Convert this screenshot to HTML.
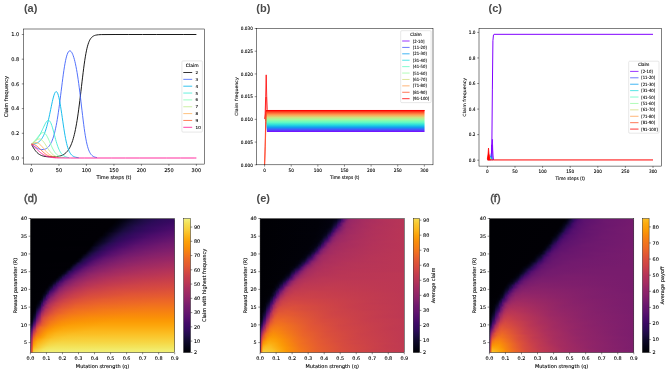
<!DOCTYPE html><html><head><meta charset="utf-8"><title>Figure</title><style>html,body{margin:0;padding:0;background:#fff}svg{display:block;will-change:transform}text{font-family:"DejaVu Sans","Liberation Sans",sans-serif;stroke:#000;stroke-width:.1px}.pl{font-family:"Liberation Sans","DejaVu Sans",sans-serif;fill:#4a4a4a;stroke:none}.pn{stroke:#4a4a4a;stroke-width:.45px}</style></head><body>
<svg width="669" height="373" viewBox="0 0 669 373">
<rect width="669" height="373" fill="#fff"/>
<text class="pl" x="23.9" y="11.8" font-size="11" font-weight="bold">(a)</text>
<text class="pl" x="256.3" y="11.5" font-size="11" font-weight="bold">(b)</text>
<text class="pl" x="488.6" y="11.8" font-size="11" font-weight="bold">(c)</text>
<text class="pl pn" x="24.0" y="202.2" font-size="11">(d)</text>
<text class="pl" x="256.5" y="202.2" font-size="11" font-weight="bold">(e)</text>
<text class="pl pn" x="490.2" y="202.2" font-size="11">(f)</text>
<g>
<clipPath id="ca"><rect x="23.6" y="29.0" width="180.9" height="135.1"/></clipPath><g clip-path="url(#ca)">
<polyline points="31.45,144.28 32,145.28 32.55,146.26 33.1,147.21 33.65,148.11 34.2,148.97 34.75,149.78 35.3,150.53 35.85,151.23 36.4,151.87 36.95,152.45 37.5,152.98 38.05,153.46 38.6,153.89 39.15,154.28 39.7,154.63 40.25,154.93 40.8,155.2 41.35,155.44 41.9,155.65 42.45,155.84 43,156.01 43.55,156.15 44.1,156.27 45.2,156.48 46.29,156.63 47.94,156.79 56.74,156.58 57.84,156.42 58.39,156.33 58.94,156.22 59.49,156.1 60.04,155.96 60.59,155.8 61.14,155.62 61.69,155.42 62.24,155.19 62.79,154.94 63.34,154.65 63.89,154.32 64.44,153.96 64.99,153.56 65.54,153.11 66.09,152.62 66.64,152.06 67.19,151.45 67.74,150.77 68.29,150.03 68.84,149.2 69.39,148.28 69.94,147.27 70.49,146.16 71.04,144.93 71.59,143.58 72.14,142.09 72.69,140.46 73.23,138.66 73.78,136.69 74.33,134.53 74.88,132.17 75.43,129.6 75.98,126.8 76.53,123.77 77.08,120.49 77.63,116.97 78.18,113.2 78.73,109.2 79.28,104.99 79.83,100.57 80.38,96 80.93,91.32 81.48,86.58 82.03,81.84 82.58,77.16 83.13,72.61 83.68,68.25 84.23,64.14 84.78,60.32 85.33,56.82 85.88,53.65 86.43,50.83 86.98,48.34 87.53,46.17 88.08,44.29 88.63,42.68 89.18,41.31 89.73,40.16 90.28,39.19 90.83,38.37 91.38,37.7 91.93,37.13 92.48,36.67 93.03,36.28 93.58,35.96 94.13,35.7 94.68,35.48 95.23,35.31 95.78,35.16 96.88,34.94 98.53,34.74 101.27,34.59 115.02,34.5 128.76,34.5 142.51,34.5 156.25,34.5 170,34.5 183.74,34.5 196.39,34.5" fill="none" stroke="#000000" stroke-width="0.9" stroke-linejoin="round"/>
<polyline points="31.45,144.28 32,144.69 32.55,145.09 33.1,145.5 33.65,145.9 34.2,146.29 34.75,146.67 35.3,147.04 35.85,147.39 36.4,147.72 36.95,148.03 37.5,148.31 38.05,148.58 38.6,148.81 39.15,149.02 39.7,149.2 40.25,149.34 41.35,149.54 43.55,149.53 44.1,149.43 44.65,149.28 45.2,149.1 45.74,148.86 46.29,148.57 46.84,148.22 47.39,147.81 47.94,147.34 48.49,146.79 49.04,146.15 49.59,145.43 50.14,144.6 50.69,143.66 51.24,142.6 51.79,141.41 52.34,140.07 52.89,138.57 53.44,136.9 53.99,135.04 54.54,132.99 55.09,130.72 55.64,128.23 56.19,125.51 56.74,122.56 57.29,119.36 57.84,115.93 58.39,112.27 58.94,108.4 59.49,104.33 60.04,100.1 60.59,95.76 61.14,91.34 61.69,86.91 62.24,82.53 62.79,78.27 63.34,74.19 63.89,70.34 64.44,66.79 64.99,63.57 65.54,60.71 66.09,58.22 66.64,56.11 67.19,54.38 67.74,53.02 68.29,52 68.84,51.31 69.39,50.93 69.94,50.84 70.49,51.03 71.04,51.48 71.59,52.18 72.14,53.12 72.69,54.3 73.23,55.72 73.78,57.38 74.33,59.27 74.88,61.42 75.43,63.81 75.98,66.46 76.53,69.37 77.08,72.54 77.63,75.98 78.18,79.67 78.73,83.61 79.28,87.78 79.83,92.15 80.38,96.68 80.93,101.33 81.48,106.05 82.03,110.77 82.58,115.43 83.13,119.97 83.68,124.31 84.23,128.41 84.78,132.22 85.33,135.72 85.88,138.88 86.43,141.69 86.98,144.18 87.53,146.35 88.08,148.22 88.63,149.83 89.18,151.2 89.73,152.35 90.28,153.32 90.83,154.13 91.38,154.81 91.93,155.37 92.48,155.84 93.03,156.22 93.58,156.54 94.13,156.8 94.68,157.02 95.23,157.19 95.78,157.34 96.88,157.56" fill="none" stroke="#4062fa" stroke-width="0.9" stroke-linejoin="round"/>
<polyline points="31.45,144.28 33.1,144.08 33.65,143.98 34.2,143.88 34.75,143.75 35.3,143.6 35.85,143.42 36.4,143.22 36.95,142.98 37.5,142.71 38.05,142.39 38.6,142.02 39.15,141.61 39.7,141.13 40.25,140.59 40.8,139.98 41.35,139.29 41.9,138.51 42.45,137.64 43,136.67 43.55,135.58 44.1,134.38 44.65,133.05 45.2,131.58 45.74,129.97 46.29,128.22 46.84,126.31 47.39,124.26 47.94,122.06 48.49,119.73 49.04,117.27 49.59,114.71 50.14,112.07 50.69,109.39 51.24,106.72 51.79,104.09 52.34,101.57 52.89,99.2 53.44,97.06 53.99,95.2 54.54,93.68 55.09,92.54 55.64,91.83 56.19,91.59 56.74,91.83 57.29,92.56 57.84,93.78 58.39,95.48 58.94,97.63 59.49,100.21 60.04,103.15 60.59,106.41 61.14,109.92 61.69,113.61 62.24,117.4 62.79,121.21 63.34,124.98 63.89,128.63 64.44,132.1 64.99,135.34 65.54,138.33 66.09,141.04 66.64,143.47 67.19,145.63 67.74,147.51 68.29,149.14 68.84,150.55 69.39,151.75 69.94,152.76 70.49,153.62 71.04,154.35 71.59,154.96 72.14,155.46 72.69,155.89 73.23,156.24 73.78,156.53 74.33,156.78 74.88,156.98 75.43,157.15 75.98,157.29 77.08,157.5 78.73,157.71" fill="none" stroke="#00b5eb" stroke-width="0.9" stroke-linejoin="round"/>
<polyline points="31.45,144.28 32,143.91 32.55,143.52 33.1,143.09 33.65,142.64 34.2,142.16 34.75,141.64 35.3,141.09 35.85,140.49 36.4,139.86 36.95,139.17 37.5,138.44 38.05,137.66 38.6,136.83 39.15,135.95 39.7,135.01 40.25,134.02 40.8,132.97 41.35,131.88 41.9,130.75 42.45,129.59 43,128.41 43.55,127.22 44.1,126.04 44.65,124.91 45.2,123.83 45.74,122.84 46.29,121.97 46.84,121.25 47.39,120.71 47.94,120.39 48.49,120.3 49.04,120.48 49.59,120.93 50.14,121.66 50.69,122.67 51.24,123.94 51.79,125.46 52.34,127.18 52.89,129.07 53.44,131.09 53.99,133.18 54.54,135.31 55.09,137.42 55.64,139.47 56.19,141.44 56.74,143.3 57.29,145.03 57.84,146.62 58.39,148.06 58.94,149.36 59.49,150.52 60.04,151.54 60.59,152.45 61.14,153.25 61.69,153.94 62.24,154.54 62.79,155.06 63.34,155.51 63.89,155.9 64.44,156.23 64.99,156.52 65.54,156.76 66.09,156.96 66.64,157.13 67.19,157.28 67.74,157.4 68.84,157.59" fill="none" stroke="#40ecd4" stroke-width="0.9" stroke-linejoin="round"/>
<polyline points="31.45,144.28 32,143.76 32.55,143.21 33.1,142.64 33.65,142.04 34.2,141.42 34.75,140.78 35.3,140.12 35.85,139.45 36.4,138.76 36.95,138.07 37.5,137.38 38.05,136.69 38.6,136.02 39.15,135.38 39.7,134.77 40.25,134.21 40.8,133.72 41.35,133.3 41.9,132.97 42.45,132.75 43.55,132.67 44.1,132.84 44.65,133.15 45.2,133.61 45.74,134.21 46.29,134.96 46.84,135.84 47.39,136.84 47.94,137.94 48.49,139.13 49.04,140.37 49.59,141.64 50.14,142.94 50.69,144.22 51.24,145.48 51.79,146.7 52.34,147.86 52.89,148.96 53.44,149.98 53.99,150.93 54.54,151.79 55.09,152.57 55.64,153.27 56.19,153.9 56.74,154.46 57.29,154.95 57.84,155.38 58.39,155.75 58.94,156.07 59.49,156.36 60.04,156.6 60.59,156.81 61.14,156.99 61.69,157.14 62.24,157.27 63.34,157.48 64.44,157.64" fill="none" stroke="#80ffb4" stroke-width="0.9" stroke-linejoin="round"/>
<polyline points="31.45,144.28 32,143.77 32.55,143.25 33.1,142.73 33.65,142.22 34.2,141.71 34.75,141.23 35.3,140.77 35.85,140.34 36.4,139.96 36.95,139.62 37.5,139.35 38.05,139.14 39.15,138.95 39.7,138.98 40.25,139.11 40.8,139.33 41.35,139.64 41.9,140.05 42.45,140.55 43,141.13 43.55,141.79 44.1,142.52 44.65,143.31 45.2,144.14 45.74,145 46.29,145.88 46.84,146.77 47.39,147.65 47.94,148.52 48.49,149.36 49.04,150.18 49.59,150.95 50.14,151.67 50.69,152.35 51.24,152.98 51.79,153.56 52.34,154.09 52.89,154.57 53.44,155 53.99,155.39 54.54,155.73 55.09,156.04 55.64,156.31 56.19,156.54 56.74,156.75 57.29,156.93 57.84,157.08 58.39,157.22 59.49,157.43 60.59,157.59" fill="none" stroke="#c0eb8d" stroke-width="0.9" stroke-linejoin="round"/>
<polyline points="31.45,144.28 32,143.93 32.55,143.61 33.1,143.32 33.65,143.07 34.2,142.87 34.75,142.71 36.95,142.71 37.5,142.88 38.05,143.12 38.6,143.43 39.15,143.8 39.7,144.23 40.25,144.72 40.8,145.26 41.35,145.84 41.9,146.46 42.45,147.1 43,147.76 43.55,148.42 44.1,149.09 44.65,149.76 45.2,150.41 45.74,151.04 46.29,151.65 46.84,152.23 47.39,152.78 47.94,153.3 48.49,153.78 49.04,154.23 49.59,154.65 50.14,155.03 50.69,155.37 51.24,155.69 51.79,155.97 52.34,156.22 52.89,156.45 53.44,156.65 53.99,156.83 54.54,156.99 55.09,157.13 55.64,157.25 56.74,157.45 58.39,157.66" fill="none" stroke="#ffb360" stroke-width="0.9" stroke-linejoin="round"/>
<polyline points="31.45,144.28 33.1,144.32 33.65,144.44 34.2,144.6 34.75,144.82 35.3,145.08 35.85,145.4 36.4,145.77 36.95,146.17 37.5,146.62 38.05,147.1 38.6,147.6 39.15,148.13 39.7,148.67 40.25,149.22 40.8,149.77 41.35,150.32 41.9,150.87 42.45,151.4 43,151.92 43.55,152.41 44.1,152.89 44.65,153.34 45.2,153.77 45.74,154.18 46.29,154.55 46.84,154.9 47.39,155.23 47.94,155.52 48.49,155.8 49.04,156.05 49.59,156.27 50.14,156.48 50.69,156.66 51.24,156.83 51.79,156.97 52.34,157.11 52.89,157.22 53.99,157.42 55.64,157.63" fill="none" stroke="#ff5f30" stroke-width="0.9" stroke-linejoin="round"/>
<polyline points="31.45,144.28 32,144.7 32.55,145.14 33.1,145.61 33.65,146.1 34.2,146.6 34.75,147.13 35.3,147.66 35.85,148.2 36.4,148.75 36.95,149.29 37.5,149.83 38.05,150.36 38.6,150.89 39.15,151.39 39.7,151.88 40.25,152.36 40.8,152.81 41.35,153.24 41.9,153.64 42.45,154.03 43,154.39 43.55,154.72 44.1,155.04 44.65,155.33 45.2,155.6 45.74,155.84 46.29,156.07 46.84,156.28 47.39,156.47 47.94,156.64 48.49,156.8 49.04,156.94 49.59,157.06 50.14,157.18 51.24,157.37 52.34,157.52 53.99,157.69 56.74,157.86 70.49,158 84.23,158 97.98,158 111.72,158 125.47,158 139.21,158 152.96,158 166.7,158 180.45,158 194.19,158 196.39,158" fill="none" stroke="#ff1493" stroke-width="0.9" stroke-linejoin="round"/>
</g>
<rect x="23.6" y="29" width="180.9" height="135.1" fill="none" stroke="#000" stroke-width="0.5"/>
<path d="M31.45 164.1L31.45 165.9M58.94 164.1L58.94 165.9M86.43 164.1L86.43 165.9M113.92 164.1L113.92 165.9M141.41 164.1L141.41 165.9M168.9 164.1L168.9 165.9M196.39 164.1L196.39 165.9M23.6 158L21.8 158M23.6 133.3L21.8 133.3M23.6 108.6L21.8 108.6M23.6 83.9L21.8 83.9M23.6 59.2L21.8 59.2M23.6 34.5L21.8 34.5" stroke="#000" stroke-width="0.45" fill="none"/>
<text x="31.45" y="171.9" font-size="5.0" text-anchor="middle">0</text>
<text x="58.94" y="171.9" font-size="5.0" text-anchor="middle">50</text>
<text x="86.43" y="171.9" font-size="5.0" text-anchor="middle">100</text>
<text x="113.92" y="171.9" font-size="5.0" text-anchor="middle">150</text>
<text x="141.41" y="171.9" font-size="5.0" text-anchor="middle">200</text>
<text x="168.9" y="171.9" font-size="5.0" text-anchor="middle">250</text>
<text x="196.39" y="171.9" font-size="5.0" text-anchor="middle">300</text>
<text x="19.1" y="159.82" font-size="5.0" text-anchor="end">0.0</text>
<text x="19.1" y="135.12" font-size="5.0" text-anchor="end">0.2</text>
<text x="19.1" y="110.42" font-size="5.0" text-anchor="end">0.4</text>
<text x="19.1" y="85.73" font-size="5.0" text-anchor="end">0.6</text>
<text x="19.1" y="61.02" font-size="5.0" text-anchor="end">0.8</text>
<text x="19.1" y="36.33" font-size="5.0" text-anchor="end">1.0</text>
<text x="114.05" y="178.6" font-size="5.05" text-anchor="middle">Time steps (t)</text>
<text transform="translate(8.4 96.55) rotate(-90)" font-size="5.05" text-anchor="middle">Claim frequency</text>
<rect x="181.9" y="60.9" width="20.5" height="71.2" rx="1" fill="#fff" fill-opacity="0.8" stroke="#ccc" stroke-width="0.45"/>
<text x="192.15" y="66.6" font-size="4.5" text-anchor="middle">Claim</text>
<path d="M183.3 72.5H192.2" stroke="#000000" stroke-width="0.8"/>
<text x="195.6" y="73.98" font-size="4.1">2</text>
<path d="M183.3 79.35H192.2" stroke="#4062fa" stroke-width="0.8"/>
<text x="195.6" y="80.83" font-size="4.1">3</text>
<path d="M183.3 86.2H192.2" stroke="#00b5eb" stroke-width="0.8"/>
<text x="195.6" y="87.68" font-size="4.1">4</text>
<path d="M183.3 93.05H192.2" stroke="#40ecd4" stroke-width="0.8"/>
<text x="195.6" y="94.53" font-size="4.1">5</text>
<path d="M183.3 99.9H192.2" stroke="#80ffb4" stroke-width="0.8"/>
<text x="195.6" y="101.38" font-size="4.1">6</text>
<path d="M183.3 106.75H192.2" stroke="#c0eb8d" stroke-width="0.8"/>
<text x="195.6" y="108.23" font-size="4.1">7</text>
<path d="M183.3 113.6H192.2" stroke="#ffb360" stroke-width="0.8"/>
<text x="195.6" y="115.08" font-size="4.1">8</text>
<path d="M183.3 120.45H192.2" stroke="#ff5f30" stroke-width="0.8"/>
<text x="195.6" y="121.93" font-size="4.1">9</text>
<path d="M183.3 127.3H192.2" stroke="#ff1493" stroke-width="0.8"/>
<text x="195.6" y="128.78" font-size="4.1">10</text>
</g>
<g>
<linearGradient id="gb" x1="0" y1="1" x2="0" y2="0"><stop offset="0" stop-color="#8000ff"/><stop offset="0.11" stop-color="#4856fb"/><stop offset="0.22" stop-color="#10a2f0"/><stop offset="0.33" stop-color="#2adddd"/><stop offset="0.44" stop-color="#62fbc4"/><stop offset="0.56" stop-color="#9cfba4"/><stop offset="0.67" stop-color="#d4dd80"/><stop offset="0.78" stop-color="#ffa256"/><stop offset="0.89" stop-color="#ff562c"/><stop offset="1" stop-color="#ff0000"/></linearGradient>
<path d="M264.6 118.92L265.93 110.07L267 110.07H424.55V132.08H267L266.2 123.91Z" fill="url(#gb)"/>
<polyline points="264.6,118.92 265.13,113.92 265.67,96.66 266.2,74.85 266.73,96.66 267.26,109.38 267.8,110.74" fill="none" stroke="#ff0000" stroke-width="0.8" stroke-linejoin="round"/>
<polyline points="264.6,164.8 265.13,146.63 265.67,121.64 266.2,96.66" fill="none" stroke="#ff0000" stroke-width="0.8" stroke-linejoin="round"/>
<polyline points="264.6,164.8 265.13,151.17 265.67,133 266.2,117.1 266.73,112.1 267.26,112.1" fill="none" stroke="#ff562c" stroke-width="0.8" stroke-linejoin="round"/>
<path d="M267.26 110.47H424.55" stroke="#ff0000" stroke-width="0.8"/>
<rect x="256.5" y="28.5" width="176.5" height="136.3" fill="none" stroke="#000" stroke-width="0.5"/>
<path d="M264.6 164.8L264.6 166.6M291.23 164.8L291.23 166.6M317.85 164.8L317.85 166.6M344.48 164.8L344.48 166.6M371.1 164.8L371.1 166.6M397.73 164.8L397.73 166.6M424.35 164.8L424.35 166.6M256.5 164.8L254.7 164.8M256.5 142.09L254.7 142.09M256.5 119.37L254.7 119.37M256.5 96.66L254.7 96.66M256.5 73.94L254.7 73.94M256.5 51.23L254.7 51.23M256.5 28.51L254.7 28.51" stroke="#000" stroke-width="0.45" fill="none"/>
<text transform="translate(264.6 171.9) scale(0.9 1)" font-size="4.7" text-anchor="middle">0</text>
<text transform="translate(291.23 171.9) scale(0.9 1)" font-size="4.7" text-anchor="middle">50</text>
<text transform="translate(317.85 171.9) scale(0.9 1)" font-size="4.7" text-anchor="middle">100</text>
<text transform="translate(344.48 171.9) scale(0.9 1)" font-size="4.7" text-anchor="middle">150</text>
<text transform="translate(371.1 171.9) scale(0.9 1)" font-size="4.7" text-anchor="middle">200</text>
<text transform="translate(397.73 171.9) scale(0.9 1)" font-size="4.7" text-anchor="middle">250</text>
<text transform="translate(424.35 171.9) scale(0.9 1)" font-size="4.7" text-anchor="middle">300</text>
<text transform="translate(252.9 166.52) scale(0.9 1)" font-size="4.7" text-anchor="end">0.000</text>
<text transform="translate(252.9 143.8) scale(0.9 1)" font-size="4.7" text-anchor="end">0.005</text>
<text transform="translate(252.9 121.09) scale(0.9 1)" font-size="4.7" text-anchor="end">0.010</text>
<text transform="translate(252.9 98.37) scale(0.9 1)" font-size="4.7" text-anchor="end">0.015</text>
<text transform="translate(252.9 75.66) scale(0.9 1)" font-size="4.7" text-anchor="end">0.020</text>
<text transform="translate(252.9 52.94) scale(0.9 1)" font-size="4.7" text-anchor="end">0.025</text>
<text transform="translate(252.9 30.23) scale(0.9 1)" font-size="4.7" text-anchor="end">0.030</text>
<text transform="translate(344.75 178.7) scale(0.9 1)" font-size="4.75" text-anchor="middle">Time steps (t)</text>
<text transform="translate(237.6 96.65) scale(0.9 1) rotate(-90)" font-size="4.75" text-anchor="middle">Claim frequency</text>
<rect x="400.7" y="30.7" width="30.4" height="71.9" rx="1" fill="#fff" fill-opacity="0.8" stroke="#ccc" stroke-width="0.45"/>
<text transform="translate(415.9 36.1) scale(0.9 1)" font-size="4.4" text-anchor="middle">Claim</text>
<path d="M402.2 41H409.6" stroke="#8000ff" stroke-width="0.8"/>
<text transform="translate(412.8 42.53) scale(0.9 1)" font-size="4.25">[2-10]</text>
<path d="M402.2 47.41H409.6" stroke="#4856fb" stroke-width="0.8"/>
<text transform="translate(412.8 48.94) scale(0.9 1)" font-size="4.25">[11-20]</text>
<path d="M402.2 53.82H409.6" stroke="#10a2f0" stroke-width="0.8"/>
<text transform="translate(412.8 55.35) scale(0.9 1)" font-size="4.25">[21-30]</text>
<path d="M402.2 60.23H409.6" stroke="#2adddd" stroke-width="0.8"/>
<text transform="translate(412.8 61.76) scale(0.9 1)" font-size="4.25">[31-40]</text>
<path d="M402.2 66.64H409.6" stroke="#62fbc4" stroke-width="0.8"/>
<text transform="translate(412.8 68.17) scale(0.9 1)" font-size="4.25">[41-50]</text>
<path d="M402.2 73.05H409.6" stroke="#9cfba4" stroke-width="0.8"/>
<text transform="translate(412.8 74.58) scale(0.9 1)" font-size="4.25">[51-60]</text>
<path d="M402.2 79.46H409.6" stroke="#d4dd80" stroke-width="0.8"/>
<text transform="translate(412.8 80.99) scale(0.9 1)" font-size="4.25">[61-70]</text>
<path d="M402.2 85.87H409.6" stroke="#ffa256" stroke-width="0.8"/>
<text transform="translate(412.8 87.4) scale(0.9 1)" font-size="4.25">[71-80]</text>
<path d="M402.2 92.28H409.6" stroke="#ff562c" stroke-width="0.8"/>
<text transform="translate(412.8 93.81) scale(0.9 1)" font-size="4.25">[81-90]</text>
<path d="M402.2 98.69H409.6" stroke="#ff0000" stroke-width="0.8"/>
<text transform="translate(412.8 100.22) scale(0.9 1)" font-size="4.25">[91-100]</text>
</g>
<g>
<polyline points="487.4,158.91 490.71,159.94 491.26,158.92 491.82,149.98 492.37,89.91 492.92,40.71 493.47,34.96 494.02,34.32 653,34.32" fill="none" stroke="#8000ff" stroke-width="1.0" stroke-linejoin="round"/>
<polyline points="487.4,158.91 491.26,157.64 491.82,147.42 492.37,139.37 492.92,155.09 493.47,159.82" fill="none" stroke="#8000ff" stroke-width="0.8" stroke-linejoin="round"/>
<polyline points="487.4,158.91 491.26,156.37 491.82,144.86 492.37,147.42 492.92,157.64 493.47,159.82" fill="none" stroke="#8000ff" stroke-width="0.8" stroke-linejoin="round"/>
<polyline points="487.4,158.91 490.71,157.64 491.26,153.81 491.82,154.45 492.37,158.92 492.92,159.94" fill="none" stroke="#4856fb" stroke-width="0.8" stroke-linejoin="round"/>
<polyline points="487.4,158.91 490.16,158.28 490.71,156.37 491.26,157 491.82,159.43 492.37,159.94" fill="none" stroke="#10a2f0" stroke-width="0.8" stroke-linejoin="round"/>
<polyline points="487.4,158.91 489.61,158.67 490.16,157.13 490.71,157.64 491.26,159.43 491.82,159.94" fill="none" stroke="#2adddd" stroke-width="0.8" stroke-linejoin="round"/>
<polyline points="487.4,158.91 489.61,158.28 490.16,157.64 490.71,158.92 491.26,159.94" fill="none" stroke="#62fbc4" stroke-width="0.8" stroke-linejoin="round"/>
<polyline points="487.4,158.91 489.06,158.28 489.61,157.64 490.16,159.18 490.71,159.94" fill="none" stroke="#d4dd80" stroke-width="0.8" stroke-linejoin="round"/>
<polyline points="487.4,158.91 488.5,156.37 489.06,155.09 489.61,158.67 490.16,159.94" fill="none" stroke="#ffa256" stroke-width="0.8" stroke-linejoin="round"/>
<polyline points="487.4,158.91 487.95,156.37 488.5,153.81 489.06,156.37 489.61,159.18 490.16,159.94" fill="none" stroke="#ff562c" stroke-width="0.8" stroke-linejoin="round"/>
<path d="M487.4 158.91L487.95 155.09L488.5 148.06L489.06 153.81L489.61 158.67L490.16 159.82L487.95 159.94Z" fill="#ff0000" stroke="#ff0000" stroke-width="0.7" stroke-linejoin="round"/>
<polyline points="487.4,159.94 490.16,159.94 493.47,159.94 653,159.94" fill="none" stroke="#ff0000" stroke-width="1.0" stroke-linejoin="round"/>
<rect x="479" y="28.5" width="182.5" height="137.6" fill="none" stroke="#000" stroke-width="0.5"/>
<path d="M487.4 166.1L487.4 167.9M515 166.1L515 167.9M542.6 166.1L542.6 167.9M570.2 166.1L570.2 167.9M597.8 166.1L597.8 167.9M625.4 166.1L625.4 167.9M653 166.1L653 167.9M479 160.2L477.2 160.2M479 134.64L477.2 134.64M479 109.08L477.2 109.08M479 83.52L477.2 83.52M479 57.96L477.2 57.96M479 32.4L477.2 32.4" stroke="#000" stroke-width="0.45" fill="none"/>
<text transform="translate(487.4 173.2) scale(0.9 1)" font-size="4.7" text-anchor="middle">0</text>
<text transform="translate(515 173.2) scale(0.9 1)" font-size="4.7" text-anchor="middle">50</text>
<text transform="translate(542.6 173.2) scale(0.9 1)" font-size="4.7" text-anchor="middle">100</text>
<text transform="translate(570.2 173.2) scale(0.9 1)" font-size="4.7" text-anchor="middle">150</text>
<text transform="translate(597.8 173.2) scale(0.9 1)" font-size="4.7" text-anchor="middle">200</text>
<text transform="translate(625.4 173.2) scale(0.9 1)" font-size="4.7" text-anchor="middle">250</text>
<text transform="translate(653 173.2) scale(0.9 1)" font-size="4.7" text-anchor="middle">300</text>
<text transform="translate(475.5 161.92) scale(0.9 1)" font-size="4.7" text-anchor="end">0.0</text>
<text transform="translate(475.5 136.36) scale(0.9 1)" font-size="4.7" text-anchor="end">0.2</text>
<text transform="translate(475.5 110.8) scale(0.9 1)" font-size="4.7" text-anchor="end">0.4</text>
<text transform="translate(475.5 85.24) scale(0.9 1)" font-size="4.7" text-anchor="end">0.6</text>
<text transform="translate(475.5 59.68) scale(0.9 1)" font-size="4.7" text-anchor="end">0.8</text>
<text transform="translate(475.5 34.12) scale(0.9 1)" font-size="4.7" text-anchor="end">1.0</text>
<text transform="translate(570.25 180) scale(0.9 1)" font-size="4.75" text-anchor="middle">Time steps (t)</text>
<text transform="translate(465.7 97.3) scale(0.9 1) rotate(-90)" font-size="4.75" text-anchor="middle">Claim frequency</text>
<rect x="628.7" y="61.2" width="30.3" height="72" rx="1" fill="#fff" fill-opacity="0.8" stroke="#ccc" stroke-width="0.45"/>
<text transform="translate(643.85 66.4) scale(0.9 1)" font-size="4.4" text-anchor="middle">Claim</text>
<path d="M630.1 71.4H638.5" stroke="#8000ff" stroke-width="0.8"/>
<text transform="translate(641.2 72.93) scale(0.9 1)" font-size="4.25">[2-10]</text>
<path d="M630.1 77.81H638.5" stroke="#4856fb" stroke-width="0.8"/>
<text transform="translate(641.2 79.34) scale(0.9 1)" font-size="4.25">[11-20]</text>
<path d="M630.1 84.22H638.5" stroke="#10a2f0" stroke-width="0.8"/>
<text transform="translate(641.2 85.75) scale(0.9 1)" font-size="4.25">[21-30]</text>
<path d="M630.1 90.63H638.5" stroke="#2adddd" stroke-width="0.8"/>
<text transform="translate(641.2 92.16) scale(0.9 1)" font-size="4.25">[31-40]</text>
<path d="M630.1 97.04H638.5" stroke="#62fbc4" stroke-width="0.8"/>
<text transform="translate(641.2 98.57) scale(0.9 1)" font-size="4.25">[41-50]</text>
<path d="M630.1 103.45H638.5" stroke="#9cfba4" stroke-width="0.8"/>
<text transform="translate(641.2 104.98) scale(0.9 1)" font-size="4.25">[51-60]</text>
<path d="M630.1 109.86H638.5" stroke="#d4dd80" stroke-width="0.8"/>
<text transform="translate(641.2 111.39) scale(0.9 1)" font-size="4.25">[61-70]</text>
<path d="M630.1 116.27H638.5" stroke="#ffa256" stroke-width="0.8"/>
<text transform="translate(641.2 117.8) scale(0.9 1)" font-size="4.25">[71-80]</text>
<path d="M630.1 122.68H638.5" stroke="#ff562c" stroke-width="0.8"/>
<text transform="translate(641.2 124.21) scale(0.9 1)" font-size="4.25">[81-90]</text>
<path d="M630.1 129.09H638.5" stroke="#ff0000" stroke-width="0.8"/>
<text transform="translate(641.2 130.62) scale(0.9 1)" font-size="4.25">[91-100]</text>
</g>
<g>
<clipPath id="cd"><rect x="30.4" y="218.5" width="144.3" height="134"/></clipPath>
<g clip-path="url(#cd)">
<linearGradient id="d0"><stop offset="0" stop-color="#000004"/><stop offset="0.6" stop-color="#010005"/><stop offset="0.66" stop-color="#050416"/><stop offset="0.73" stop-color="#130a33"/><stop offset="0.79" stop-color="#1f0c47"/><stop offset="0.89" stop-color="#2c0b58"/><stop offset="1" stop-color="#360961"/></linearGradient>
<linearGradient id="d1"><stop offset="0" stop-color="#000004"/><stop offset="0.58" stop-color="#010005"/><stop offset="0.63" stop-color="#030311"/><stop offset="0.72" stop-color="#150b37"/><stop offset="0.79" stop-color="#220c4b"/><stop offset="0.87" stop-color="#2e0a5a"/><stop offset="1" stop-color="#380962"/></linearGradient>
<linearGradient id="d2"><stop offset="0" stop-color="#000004"/><stop offset="0.57" stop-color="#010005"/><stop offset="0.61" stop-color="#03020f"/><stop offset="0.69" stop-color="#140b34"/><stop offset="0.76" stop-color="#200c49"/><stop offset="0.84" stop-color="#2e0a5a"/><stop offset="1" stop-color="#3d0965"/></linearGradient>
<linearGradient id="d3"><stop offset="0" stop-color="#000004"/><stop offset="0.56" stop-color="#010005"/><stop offset="0.6" stop-color="#030311"/><stop offset="0.67" stop-color="#130a33"/><stop offset="0.72" stop-color="#1f0c47"/><stop offset="0.81" stop-color="#2e0a5a"/><stop offset="0.98" stop-color="#400a67"/><stop offset="1" stop-color="#420a68"/></linearGradient>
<linearGradient id="d4"><stop offset="0" stop-color="#000004"/><stop offset="0.54" stop-color="#010005"/><stop offset="0.59" stop-color="#040314"/><stop offset="0.67" stop-color="#180c3c"/><stop offset="0.73" stop-color="#260c51"/><stop offset="0.83" stop-color="#350a60"/><stop offset="1" stop-color="#470b6a"/></linearGradient>
<linearGradient id="d5"><stop offset="0" stop-color="#000004"/><stop offset="0.53" stop-color="#010005"/><stop offset="0.57" stop-color="#040313"/><stop offset="0.65" stop-color="#180c3c"/><stop offset="0.73" stop-color="#290b55"/><stop offset="0.84" stop-color="#390963"/><stop offset="1" stop-color="#4c0c6b"/></linearGradient>
<linearGradient id="d6"><stop offset="0" stop-color="#000004"/><stop offset="0.51" stop-color="#010005"/><stop offset="0.56" stop-color="#040314"/><stop offset="0.64" stop-color="#1b0c41"/><stop offset="0.71" stop-color="#2a0b56"/><stop offset="0.8" stop-color="#380962"/><stop offset="0.98" stop-color="#510e6c"/><stop offset="1" stop-color="#510e6d"/></linearGradient>
<linearGradient id="d7"><stop offset="0" stop-color="#000004"/><stop offset="0.5" stop-color="#010005"/><stop offset="0.53" stop-color="#040312"/><stop offset="0.62" stop-color="#1c0c43"/><stop offset="0.65" stop-color="#240c4f"/><stop offset="0.73" stop-color="#340a5f"/><stop offset="0.9" stop-color="#4d0d6c"/><stop offset="1" stop-color="#57106d"/></linearGradient>
<linearGradient id="d8"><stop offset="0" stop-color="#000004"/><stop offset="0.49" stop-color="#010005"/><stop offset="0.52" stop-color="#040312"/><stop offset="0.6" stop-color="#1c0c43"/><stop offset="0.63" stop-color="#240c4f"/><stop offset="0.69" stop-color="#320a5e"/><stop offset="0.84" stop-color="#4c0c6b"/><stop offset="1" stop-color="#5c126e"/></linearGradient>
<linearGradient id="d9"><stop offset="0" stop-color="#000004"/><stop offset="0.47" stop-color="#010005"/><stop offset="0.51" stop-color="#050418"/><stop offset="0.58" stop-color="#1c0c43"/><stop offset="0.62" stop-color="#290b55"/><stop offset="0.7" stop-color="#380962"/><stop offset="0.84" stop-color="#510e6c"/><stop offset="0.99" stop-color="#61146e"/><stop offset="1" stop-color="#61146e"/></linearGradient>
<linearGradient id="d10"><stop offset="0" stop-color="#000004"/><stop offset="0.46" stop-color="#010005"/><stop offset="0.51" stop-color="#0a0722"/><stop offset="0.57" stop-color="#1f0c47"/><stop offset="0.6" stop-color="#290b55"/><stop offset="0.66" stop-color="#370961"/><stop offset="0.79" stop-color="#510e6c"/><stop offset="0.96" stop-color="#64156e"/><stop offset="1" stop-color="#67166e"/></linearGradient>
<linearGradient id="d11"><stop offset="0" stop-color="#000004"/><stop offset="0.44" stop-color="#000004"/><stop offset="0.51" stop-color="#0d0829"/><stop offset="0.56" stop-color="#210c4a"/><stop offset="0.6" stop-color="#2f0a5a"/><stop offset="0.68" stop-color="#420a68"/><stop offset="0.79" stop-color="#57106d"/><stop offset="0.97" stop-color="#6a176e"/><stop offset="1" stop-color="#6c186e"/></linearGradient>
<linearGradient id="d12"><stop offset="0" stop-color="#000004"/><stop offset="0.43" stop-color="#000004"/><stop offset="0.44" stop-color="#02010b"/><stop offset="0.51" stop-color="#140b36"/><stop offset="0.54" stop-color="#230c4e"/><stop offset="0.57" stop-color="#2d0b59"/><stop offset="0.62" stop-color="#3d0965"/><stop offset="0.76" stop-color="#59106e"/><stop offset="0.92" stop-color="#6c186e"/><stop offset="1" stop-color="#711a6e"/></linearGradient>
<linearGradient id="d13"><stop offset="0" stop-color="#000004"/><stop offset="0.42" stop-color="#000004"/><stop offset="0.43" stop-color="#02010b"/><stop offset="0.46" stop-color="#090621"/><stop offset="0.51" stop-color="#200c49"/><stop offset="0.55" stop-color="#2f0a5a"/><stop offset="0.62" stop-color="#420a68"/><stop offset="0.73" stop-color="#5c126e"/><stop offset="0.91" stop-color="#71196e"/><stop offset="1" stop-color="#761b6e"/></linearGradient>
<linearGradient id="d14"><stop offset="0" stop-color="#000004"/><stop offset="0.41" stop-color="#010005"/><stop offset="0.42" stop-color="#03020f"/><stop offset="0.44" stop-color="#0b0725"/><stop offset="0.47" stop-color="#160b38"/><stop offset="0.49" stop-color="#200c49"/><stop offset="0.53" stop-color="#310a5d"/><stop offset="0.61" stop-color="#490b6a"/><stop offset="0.72" stop-color="#61136e"/><stop offset="0.89" stop-color="#741a6e"/><stop offset="1" stop-color="#7b1d6d"/></linearGradient>
<linearGradient id="d15"><stop offset="0" stop-color="#000004"/><stop offset="0.4" stop-color="#010005"/><stop offset="0.41" stop-color="#030210"/><stop offset="0.44" stop-color="#10092d"/><stop offset="0.49" stop-color="#270b52"/><stop offset="0.54" stop-color="#3c0964"/><stop offset="0.63" stop-color="#57106d"/><stop offset="0.74" stop-color="#6a176e"/><stop offset="0.92" stop-color="#7c1d6d"/><stop offset="1" stop-color="#801f6c"/></linearGradient>
<linearGradient id="d16"><stop offset="0" stop-color="#000004"/><stop offset="0.38" stop-color="#000004"/><stop offset="0.39" stop-color="#02010b"/><stop offset="0.42" stop-color="#0e092b"/><stop offset="0.46" stop-color="#230c4e"/><stop offset="0.49" stop-color="#330a5e"/><stop offset="0.56" stop-color="#4d0c6b"/><stop offset="0.65" stop-color="#63146e"/><stop offset="0.8" stop-color="#771c6d"/><stop offset="1" stop-color="#85216b"/></linearGradient>
<linearGradient id="d17"><stop offset="0" stop-color="#000004"/><stop offset="0.36" stop-color="#000004"/><stop offset="0.38" stop-color="#02010b"/><stop offset="0.41" stop-color="#140b36"/><stop offset="0.45" stop-color="#2a0b56"/><stop offset="0.5" stop-color="#3f0a66"/><stop offset="0.57" stop-color="#58106e"/><stop offset="0.69" stop-color="#71196e"/><stop offset="0.88" stop-color="#84206b"/><stop offset="1" stop-color="#8a226a"/></linearGradient>
<linearGradient id="d18"><stop offset="0" stop-color="#000004"/><stop offset="0.35" stop-color="#000004"/><stop offset="0.36" stop-color="#02020c"/><stop offset="0.4" stop-color="#160b39"/><stop offset="0.43" stop-color="#2a0b56"/><stop offset="0.47" stop-color="#3b0964"/><stop offset="0.53" stop-color="#550f6d"/><stop offset="0.65" stop-color="#721a6e"/><stop offset="0.83" stop-color="#85216b"/><stop offset="1" stop-color="#8f2469"/></linearGradient>
<linearGradient id="d19"><stop offset="0" stop-color="#000004"/><stop offset="0.33" stop-color="#000004"/><stop offset="0.35" stop-color="#02010b"/><stop offset="0.37" stop-color="#0f092c"/><stop offset="0.4" stop-color="#220c4b"/><stop offset="0.42" stop-color="#310a5d"/><stop offset="0.47" stop-color="#470b6a"/><stop offset="0.51" stop-color="#5b116e"/><stop offset="0.62" stop-color="#741b6e"/><stop offset="0.74" stop-color="#84206b"/><stop offset="0.96" stop-color="#932567"/><stop offset="1" stop-color="#932667"/></linearGradient>
<linearGradient id="d20"><stop offset="0" stop-color="#000004"/><stop offset="0.32" stop-color="#000004"/><stop offset="0.33" stop-color="#02010b"/><stop offset="0.35" stop-color="#090620"/><stop offset="0.36" stop-color="#160b38"/><stop offset="0.39" stop-color="#2a0b55"/><stop offset="0.42" stop-color="#3a0963"/><stop offset="0.47" stop-color="#56106d"/><stop offset="0.53" stop-color="#6a176e"/><stop offset="0.65" stop-color="#801f6c"/><stop offset="0.86" stop-color="#932567"/><stop offset="1" stop-color="#982766"/></linearGradient>
<linearGradient id="d21"><stop offset="0" stop-color="#000004"/><stop offset="0.3" stop-color="#000004"/><stop offset="0.31" stop-color="#010109"/><stop offset="0.33" stop-color="#050417"/><stop offset="0.35" stop-color="#180b3c"/><stop offset="0.37" stop-color="#280b53"/><stop offset="0.4" stop-color="#3a0963"/><stop offset="0.44" stop-color="#550f6d"/><stop offset="0.5" stop-color="#6b176e"/><stop offset="0.62" stop-color="#82206c"/><stop offset="0.79" stop-color="#932667"/><stop offset="1" stop-color="#9f2a63"/></linearGradient>
<linearGradient id="d22"><stop offset="0" stop-color="#000004"/><stop offset="0.29" stop-color="#010005"/><stop offset="0.29" stop-color="#010106"/><stop offset="0.31" stop-color="#050315"/><stop offset="0.33" stop-color="#1c0c42"/><stop offset="0.35" stop-color="#270b52"/><stop offset="0.38" stop-color="#390963"/><stop offset="0.41" stop-color="#510e6c"/><stop offset="0.46" stop-color="#68166e"/><stop offset="0.55" stop-color="#7e1e6c"/><stop offset="0.68" stop-color="#902568"/><stop offset="0.93" stop-color="#a12b62"/><stop offset="1" stop-color="#a32c61"/></linearGradient>
<linearGradient id="d23"><stop offset="0" stop-color="#000004"/><stop offset="0.27" stop-color="#010005"/><stop offset="0.29" stop-color="#03020e"/><stop offset="0.29" stop-color="#050417"/><stop offset="0.32" stop-color="#200c49"/><stop offset="0.34" stop-color="#310a5c"/><stop offset="0.38" stop-color="#490c6a"/><stop offset="0.42" stop-color="#62146e"/><stop offset="0.48" stop-color="#781c6d"/><stop offset="0.6" stop-color="#8d2369"/><stop offset="0.75" stop-color="#9b2964"/><stop offset="1" stop-color="#a92e5f"/></linearGradient>
<linearGradient id="d24"><stop offset="0" stop-color="#000004"/><stop offset="0.25" stop-color="#000004"/><stop offset="0.27" stop-color="#010109"/><stop offset="0.28" stop-color="#07051a"/><stop offset="0.3" stop-color="#1e0c45"/><stop offset="0.32" stop-color="#300a5b"/><stop offset="0.35" stop-color="#440a69"/><stop offset="0.38" stop-color="#5d126e"/><stop offset="0.44" stop-color="#781c6d"/><stop offset="0.56" stop-color="#8e2469"/><stop offset="0.71" stop-color="#9f2a63"/><stop offset="0.93" stop-color="#aa2f5e"/><stop offset="1" stop-color="#ad305c"/></linearGradient>
<linearGradient id="d25"><stop offset="0" stop-color="#000004"/><stop offset="0.24" stop-color="#010005"/><stop offset="0.25" stop-color="#02010b"/><stop offset="0.27" stop-color="#08061d"/><stop offset="0.29" stop-color="#210c4a"/><stop offset="0.3" stop-color="#2f0a5a"/><stop offset="0.33" stop-color="#450b69"/><stop offset="0.36" stop-color="#5f136e"/><stop offset="0.41" stop-color="#761b6e"/><stop offset="0.48" stop-color="#88226a"/><stop offset="0.6" stop-color="#9b2964"/><stop offset="0.82" stop-color="#ab2f5e"/><stop offset="1" stop-color="#b3325a"/></linearGradient>
<linearGradient id="d26"><stop offset="0" stop-color="#000004"/><stop offset="0.22" stop-color="#010005"/><stop offset="0.24" stop-color="#02020d"/><stop offset="0.25" stop-color="#090621"/><stop offset="0.27" stop-color="#240c4e"/><stop offset="0.29" stop-color="#330a5e"/><stop offset="0.31" stop-color="#4b0c6b"/><stop offset="0.35" stop-color="#65156e"/><stop offset="0.39" stop-color="#791c6d"/><stop offset="0.46" stop-color="#8c2369"/><stop offset="0.59" stop-color="#a02a62"/><stop offset="0.79" stop-color="#af315c"/><stop offset="1" stop-color="#b73557"/></linearGradient>
<linearGradient id="d27"><stop offset="0" stop-color="#000004"/><stop offset="0.2" stop-color="#010005"/><stop offset="0.22" stop-color="#02010a"/><stop offset="0.23" stop-color="#060418"/><stop offset="0.24" stop-color="#0b0724"/><stop offset="0.26" stop-color="#270b51"/><stop offset="0.27" stop-color="#370a61"/><stop offset="0.3" stop-color="#510e6c"/><stop offset="0.34" stop-color="#6f196e"/><stop offset="0.4" stop-color="#88226a"/><stop offset="0.49" stop-color="#9b2865"/><stop offset="0.62" stop-color="#a92e5e"/><stop offset="0.8" stop-color="#b43359"/><stop offset="1" stop-color="#bc3754"/></linearGradient>
<linearGradient id="d28"><stop offset="0" stop-color="#000004"/><stop offset="0.19" stop-color="#010005"/><stop offset="0.21" stop-color="#030210"/><stop offset="0.22" stop-color="#0d0828"/><stop offset="0.24" stop-color="#210c4a"/><stop offset="0.24" stop-color="#2b0b57"/><stop offset="0.26" stop-color="#3b0a64"/><stop offset="0.28" stop-color="#510e6c"/><stop offset="0.31" stop-color="#6d186e"/><stop offset="0.36" stop-color="#811f6c"/><stop offset="0.42" stop-color="#962766"/><stop offset="0.53" stop-color="#a62d60"/><stop offset="0.69" stop-color="#b43359"/><stop offset="1" stop-color="#c03a51"/></linearGradient>
<linearGradient id="d29"><stop offset="0" stop-color="#000004"/><stop offset="0.18" stop-color="#010005"/><stop offset="0.19" stop-color="#02020d"/><stop offset="0.2" stop-color="#08061d"/><stop offset="0.22" stop-color="#180b3c"/><stop offset="0.22" stop-color="#240c4d"/><stop offset="0.23" stop-color="#2f0a5a"/><stop offset="0.24" stop-color="#390a63"/><stop offset="0.27" stop-color="#550f6d"/><stop offset="0.29" stop-color="#68166e"/><stop offset="0.32" stop-color="#7d1e6c"/><stop offset="0.38" stop-color="#942667"/><stop offset="0.49" stop-color="#a92e5f"/><stop offset="0.64" stop-color="#b73557"/><stop offset="0.89" stop-color="#c13a51"/><stop offset="1" stop-color="#c43c4e"/></linearGradient>
<linearGradient id="d30"><stop offset="0" stop-color="#000004"/><stop offset="0.16" stop-color="#010005"/><stop offset="0.18" stop-color="#03020f"/><stop offset="0.18" stop-color="#050416"/><stop offset="0.2" stop-color="#110a30"/><stop offset="0.21" stop-color="#260b50"/><stop offset="0.22" stop-color="#310a5c"/><stop offset="0.23" stop-color="#430a68"/><stop offset="0.26" stop-color="#62146e"/><stop offset="0.29" stop-color="#7c1d6d"/><stop offset="0.34" stop-color="#912568"/><stop offset="0.42" stop-color="#a52c60"/><stop offset="0.53" stop-color="#b43359"/><stop offset="0.75" stop-color="#c13a50"/><stop offset="1" stop-color="#c83f4b"/></linearGradient>
<linearGradient id="d31"><stop offset="0" stop-color="#000004"/><stop offset="0.14" stop-color="#010005"/><stop offset="0.16" stop-color="#03020f"/><stop offset="0.18" stop-color="#0b0724"/><stop offset="0.18" stop-color="#120a32"/><stop offset="0.2" stop-color="#2a0b54"/><stop offset="0.2" stop-color="#350a5f"/><stop offset="0.22" stop-color="#480b6a"/><stop offset="0.24" stop-color="#67166e"/><stop offset="0.27" stop-color="#7d1e6c"/><stop offset="0.32" stop-color="#942667"/><stop offset="0.4" stop-color="#aa2f5e"/><stop offset="0.53" stop-color="#ba3655"/><stop offset="0.78" stop-color="#c73e4c"/><stop offset="1" stop-color="#cc4248"/></linearGradient>
<linearGradient id="d32"><stop offset="0" stop-color="#000004"/><stop offset="0.13" stop-color="#010005"/><stop offset="0.15" stop-color="#03020f"/><stop offset="0.16" stop-color="#0b0724"/><stop offset="0.18" stop-color="#1e0c45"/><stop offset="0.18" stop-color="#2b0b56"/><stop offset="0.19" stop-color="#380a62"/><stop offset="0.2" stop-color="#4c0c6b"/><stop offset="0.23" stop-color="#6c186e"/><stop offset="0.26" stop-color="#82206c"/><stop offset="0.31" stop-color="#9b2964"/><stop offset="0.4" stop-color="#b2325a"/><stop offset="0.55" stop-color="#c13a50"/><stop offset="0.8" stop-color="#cc4248"/><stop offset="1" stop-color="#d04545"/></linearGradient>
<linearGradient id="d33"><stop offset="0" stop-color="#000004"/><stop offset="0.12" stop-color="#010005"/><stop offset="0.13" stop-color="#02020d"/><stop offset="0.14" stop-color="#040315"/><stop offset="0.15" stop-color="#0a0722"/><stop offset="0.16" stop-color="#200c48"/><stop offset="0.17" stop-color="#2c0b57"/><stop offset="0.18" stop-color="#380a62"/><stop offset="0.19" stop-color="#4e0d6c"/><stop offset="0.22" stop-color="#70196e"/><stop offset="0.24" stop-color="#86216b"/><stop offset="0.29" stop-color="#9b2964"/><stop offset="0.36" stop-color="#b0315b"/><stop offset="0.47" stop-color="#c13a50"/><stop offset="0.7" stop-color="#ce4347"/><stop offset="1" stop-color="#d44842"/></linearGradient>
<linearGradient id="d34"><stop offset="0" stop-color="#000004"/><stop offset="0.11" stop-color="#010005"/><stop offset="0.12" stop-color="#02010b"/><stop offset="0.13" stop-color="#08051d"/><stop offset="0.14" stop-color="#10092d"/><stop offset="0.16" stop-color="#2a0b55"/><stop offset="0.16" stop-color="#380a62"/><stop offset="0.18" stop-color="#4f0d6c"/><stop offset="0.2" stop-color="#731a6e"/><stop offset="0.24" stop-color="#932667"/><stop offset="0.3" stop-color="#aa2f5e"/><stop offset="0.39" stop-color="#be3853"/><stop offset="0.55" stop-color="#cc4248"/><stop offset="0.8" stop-color="#d44842"/><stop offset="1" stop-color="#d74b3f"/></linearGradient>
<linearGradient id="d35"><stop offset="0" stop-color="#000004"/><stop offset="0.1" stop-color="#010005"/><stop offset="0.11" stop-color="#03020f"/><stop offset="0.13" stop-color="#0c0826"/><stop offset="0.14" stop-color="#240b4e"/><stop offset="0.15" stop-color="#350a5f"/><stop offset="0.16" stop-color="#430a68"/><stop offset="0.18" stop-color="#64156e"/><stop offset="0.2" stop-color="#83206b"/><stop offset="0.23" stop-color="#972766"/><stop offset="0.27" stop-color="#a82e5f"/><stop offset="0.32" stop-color="#b83556"/><stop offset="0.42" stop-color="#c83f4c"/><stop offset="0.62" stop-color="#d44842"/><stop offset="1" stop-color="#db4f3b"/></linearGradient>
<linearGradient id="d36"><stop offset="0" stop-color="#000004"/><stop offset="0.09" stop-color="#000004"/><stop offset="0.1" stop-color="#02010a"/><stop offset="0.11" stop-color="#08061e"/><stop offset="0.13" stop-color="#1f0c46"/><stop offset="0.13" stop-color="#2f0a5a"/><stop offset="0.14" stop-color="#3e0a65"/><stop offset="0.16" stop-color="#59116e"/><stop offset="0.18" stop-color="#781c6d"/><stop offset="0.2" stop-color="#922568"/><stop offset="0.24" stop-color="#a92e5e"/><stop offset="0.3" stop-color="#bc3754"/><stop offset="0.4" stop-color="#cc4248"/><stop offset="0.6" stop-color="#d84c3e"/><stop offset="0.97" stop-color="#de5338"/><stop offset="1" stop-color="#de5338"/></linearGradient>
<linearGradient id="d37"><stop offset="0" stop-color="#000004"/><stop offset="0.08" stop-color="#010005"/><stop offset="0.09" stop-color="#02020d"/><stop offset="0.1" stop-color="#050417"/><stop offset="0.11" stop-color="#0b0725"/><stop offset="0.12" stop-color="#250b4f"/><stop offset="0.13" stop-color="#380a62"/><stop offset="0.13" stop-color="#480b6a"/><stop offset="0.15" stop-color="#63146e"/><stop offset="0.17" stop-color="#811f6c"/><stop offset="0.2" stop-color="#9f2a63"/><stop offset="0.25" stop-color="#b63457"/><stop offset="0.32" stop-color="#c73e4c"/><stop offset="0.43" stop-color="#d44842"/><stop offset="0.7" stop-color="#df5337"/><stop offset="1" stop-color="#e15734"/></linearGradient>
<linearGradient id="d38"><stop offset="0" stop-color="#000004"/><stop offset="0.07" stop-color="#010005"/><stop offset="0.08" stop-color="#010108"/><stop offset="0.09" stop-color="#06051a"/><stop offset="0.1" stop-color="#0e082a"/><stop offset="0.11" stop-color="#1b0c41"/><stop offset="0.11" stop-color="#2c0b57"/><stop offset="0.12" stop-color="#3f0a66"/><stop offset="0.13" stop-color="#5e136e"/><stop offset="0.16" stop-color="#811f6c"/><stop offset="0.18" stop-color="#9d2964"/><stop offset="0.23" stop-color="#b83556"/><stop offset="0.3" stop-color="#ca404a"/><stop offset="0.42" stop-color="#d84c3e"/><stop offset="0.69" stop-color="#e25734"/><stop offset="1" stop-color="#e55b31"/></linearGradient>
<linearGradient id="d39"><stop offset="0" stop-color="#000004"/><stop offset="0.07" stop-color="#010005"/><stop offset="0.08" stop-color="#030210"/><stop offset="0.09" stop-color="#08051d"/><stop offset="0.09" stop-color="#110a30"/><stop offset="0.1" stop-color="#1f0c46"/><stop offset="0.11" stop-color="#320a5d"/><stop offset="0.11" stop-color="#460b69"/><stop offset="0.13" stop-color="#66166e"/><stop offset="0.14" stop-color="#801f6c"/><stop offset="0.17" stop-color="#9f2a63"/><stop offset="0.21" stop-color="#b83556"/><stop offset="0.27" stop-color="#ca404a"/><stop offset="0.38" stop-color="#da4e3c"/><stop offset="0.62" stop-color="#e45a31"/><stop offset="0.93" stop-color="#e75f2d"/><stop offset="1" stop-color="#e75f2d"/></linearGradient>
<linearGradient id="d40"><stop offset="0" stop-color="#000004"/><stop offset="0.06" stop-color="#010005"/><stop offset="0.07" stop-color="#02010a"/><stop offset="0.08" stop-color="#090620"/><stop offset="0.09" stop-color="#140a35"/><stop offset="0.09" stop-color="#240c4d"/><stop offset="0.1" stop-color="#380a62"/><stop offset="0.11" stop-color="#4c0c6b"/><stop offset="0.12" stop-color="#6e186e"/><stop offset="0.13" stop-color="#88226a"/><stop offset="0.16" stop-color="#a02a62"/><stop offset="0.19" stop-color="#b83556"/><stop offset="0.24" stop-color="#cc4248"/><stop offset="0.33" stop-color="#db4f3b"/><stop offset="0.51" stop-color="#e55c30"/><stop offset="0.89" stop-color="#ea6429"/><stop offset="1" stop-color="#ea6429"/></linearGradient>
<linearGradient id="d41"><stop offset="0" stop-color="#000004"/><stop offset="0.04" stop-color="#000004"/><stop offset="0.06" stop-color="#02020c"/><stop offset="0.07" stop-color="#0a0723"/><stop offset="0.08" stop-color="#160b39"/><stop offset="0.09" stop-color="#290b53"/><stop offset="0.09" stop-color="#3e0a65"/><stop offset="0.1" stop-color="#520e6c"/><stop offset="0.11" stop-color="#741b6e"/><stop offset="0.13" stop-color="#8f2468"/><stop offset="0.14" stop-color="#a02a62"/><stop offset="0.17" stop-color="#b63457"/><stop offset="0.21" stop-color="#ca404a"/><stop offset="0.29" stop-color="#db4f3b"/><stop offset="0.42" stop-color="#e55c30"/><stop offset="0.65" stop-color="#eb6429"/><stop offset="0.92" stop-color="#ed6826"/><stop offset="1" stop-color="#ed6826"/></linearGradient>
<linearGradient id="d42"><stop offset="0" stop-color="#000004"/><stop offset="0.04" stop-color="#000004"/><stop offset="0.05" stop-color="#02020c"/><stop offset="0.06" stop-color="#050416"/><stop offset="0.07" stop-color="#0c0826"/><stop offset="0.07" stop-color="#190c3e"/><stop offset="0.08" stop-color="#2c0b57"/><stop offset="0.09" stop-color="#430a68"/><stop offset="0.09" stop-color="#59116d"/><stop offset="0.11" stop-color="#7c1e6d"/><stop offset="0.12" stop-color="#972766"/><stop offset="0.14" stop-color="#ae305c"/><stop offset="0.18" stop-color="#c83f4c"/><stop offset="0.23" stop-color="#d74b3f"/><stop offset="0.33" stop-color="#e45a31"/><stop offset="0.48" stop-color="#eb6429"/><stop offset="0.83" stop-color="#ef6d22"/><stop offset="1" stop-color="#ef6d22"/></linearGradient>
<linearGradient id="d43"><stop offset="0" stop-color="#000004"/><stop offset="0.04" stop-color="#010106"/><stop offset="0.04" stop-color="#02010b"/><stop offset="0.06" stop-color="#0b0724"/><stop offset="0.07" stop-color="#190c3d"/><stop offset="0.07" stop-color="#2d0b58"/><stop offset="0.08" stop-color="#440b68"/><stop offset="0.09" stop-color="#5b116e"/><stop offset="0.1" stop-color="#82206c"/><stop offset="0.11" stop-color="#9c2964"/><stop offset="0.13" stop-color="#b43359"/><stop offset="0.17" stop-color="#ca404a"/><stop offset="0.22" stop-color="#db4f3b"/><stop offset="0.32" stop-color="#e8602d"/><stop offset="0.49" stop-color="#ee6b24"/><stop offset="0.83" stop-color="#f1721e"/><stop offset="1" stop-color="#f1721e"/></linearGradient>
<linearGradient id="d44"><stop offset="0" stop-color="#000004"/><stop offset="0.03" stop-color="#010005"/><stop offset="0.04" stop-color="#02010b"/><stop offset="0.04" stop-color="#040314"/><stop offset="0.05" stop-color="#0b0724"/><stop offset="0.06" stop-color="#180b3c"/><stop offset="0.07" stop-color="#2c0b57"/><stop offset="0.07" stop-color="#440b68"/><stop offset="0.08" stop-color="#5b116e"/><stop offset="0.09" stop-color="#84206b"/><stop offset="0.11" stop-color="#a12b62"/><stop offset="0.13" stop-color="#ba3655"/><stop offset="0.16" stop-color="#d04545"/><stop offset="0.22" stop-color="#e05536"/><stop offset="0.31" stop-color="#eb6429"/><stop offset="0.47" stop-color="#f06f20"/><stop offset="0.8" stop-color="#f3771a"/><stop offset="1" stop-color="#f3771a"/></linearGradient>
<linearGradient id="d45"><stop offset="0" stop-color="#000004"/><stop offset="0.02" stop-color="#010005"/><stop offset="0.03" stop-color="#02010a"/><stop offset="0.04" stop-color="#040313"/><stop offset="0.04" stop-color="#0b0724"/><stop offset="0.05" stop-color="#180b3c"/><stop offset="0.06" stop-color="#2e0a59"/><stop offset="0.07" stop-color="#470b69"/><stop offset="0.07" stop-color="#5e136e"/><stop offset="0.09" stop-color="#88226a"/><stop offset="0.1" stop-color="#a62d60"/><stop offset="0.11" stop-color="#b93556"/><stop offset="0.15" stop-color="#d14644"/><stop offset="0.2" stop-color="#e35933"/><stop offset="0.3" stop-color="#ee6b24"/><stop offset="0.51" stop-color="#f3771a"/><stop offset="0.82" stop-color="#f57c16"/><stop offset="1" stop-color="#f57c16"/></linearGradient>
<linearGradient id="d46"><stop offset="0" stop-color="#000004"/><stop offset="0.02" stop-color="#010005"/><stop offset="0.03" stop-color="#030210"/><stop offset="0.04" stop-color="#08061e"/><stop offset="0.04" stop-color="#150b37"/><stop offset="0.05" stop-color="#2a0b55"/><stop offset="0.06" stop-color="#440b68"/><stop offset="0.07" stop-color="#60136e"/><stop offset="0.08" stop-color="#8f2468"/><stop offset="0.09" stop-color="#a02b62"/><stop offset="0.1" stop-color="#b63457"/><stop offset="0.13" stop-color="#ce4447"/><stop offset="0.17" stop-color="#e05536"/><stop offset="0.24" stop-color="#ec6726"/><stop offset="0.33" stop-color="#f2741c"/><stop offset="0.53" stop-color="#f57d15"/><stop offset="0.8" stop-color="#f68112"/><stop offset="1" stop-color="#f68112"/></linearGradient>
<linearGradient id="d47"><stop offset="0" stop-color="#000004"/><stop offset="0.02" stop-color="#010107"/><stop offset="0.02" stop-color="#02020d"/><stop offset="0.03" stop-color="#060419"/><stop offset="0.04" stop-color="#10092d"/><stop offset="0.04" stop-color="#220c4b"/><stop offset="0.05" stop-color="#3e0a66"/><stop offset="0.06" stop-color="#5a116e"/><stop offset="0.07" stop-color="#761b6d"/><stop offset="0.07" stop-color="#8f2468"/><stop offset="0.08" stop-color="#a32c61"/><stop offset="0.09" stop-color="#b2325a"/><stop offset="0.1" stop-color="#c43c4e"/><stop offset="0.13" stop-color="#d74b3f"/><stop offset="0.18" stop-color="#e8602d"/><stop offset="0.27" stop-color="#f2731d"/><stop offset="0.4" stop-color="#f67e14"/><stop offset="0.71" stop-color="#f8860e"/><stop offset="1" stop-color="#f8860e"/></linearGradient>
<linearGradient id="d48"><stop offset="0" stop-color="#000004"/><stop offset="0.02" stop-color="#02010b"/><stop offset="0.02" stop-color="#040314"/><stop offset="0.03" stop-color="#0c0826"/><stop offset="0.04" stop-color="#1c0c42"/><stop offset="0.04" stop-color="#350a60"/><stop offset="0.05" stop-color="#520e6d"/><stop offset="0.06" stop-color="#70196e"/><stop offset="0.07" stop-color="#8c2369"/><stop offset="0.07" stop-color="#a32c61"/><stop offset="0.08" stop-color="#b53458"/><stop offset="0.09" stop-color="#c13a50"/><stop offset="0.1" stop-color="#cf4446"/><stop offset="0.14" stop-color="#e45932"/><stop offset="0.2" stop-color="#f06f20"/><stop offset="0.29" stop-color="#f57d15"/><stop offset="0.42" stop-color="#f8850f"/><stop offset="0.66" stop-color="#f98b0b"/><stop offset="1" stop-color="#f98b0b"/></linearGradient>
<linearGradient id="d49"><stop offset="0" stop-color="#010005"/><stop offset="0.01" stop-color="#010107"/><stop offset="0.02" stop-color="#030210"/><stop offset="0.02" stop-color="#08061e"/><stop offset="0.03" stop-color="#150b37"/><stop offset="0.04" stop-color="#2c0b58"/><stop offset="0.04" stop-color="#480b6a"/><stop offset="0.05" stop-color="#67166e"/><stop offset="0.06" stop-color="#84206b"/><stop offset="0.07" stop-color="#9f2a63"/><stop offset="0.07" stop-color="#b33359"/><stop offset="0.08" stop-color="#c33b4f"/><stop offset="0.09" stop-color="#d44842"/><stop offset="0.13" stop-color="#e75f2d"/><stop offset="0.19" stop-color="#f2741c"/><stop offset="0.29" stop-color="#f78410"/><stop offset="0.42" stop-color="#f98c0b"/><stop offset="0.64" stop-color="#fa9008"/><stop offset="1" stop-color="#fa9008"/></linearGradient>
<linearGradient id="d50"><stop offset="0" stop-color="#010106"/><stop offset="0.01" stop-color="#02020d"/><stop offset="0.02" stop-color="#06051a"/><stop offset="0.02" stop-color="#110a30"/><stop offset="0.03" stop-color="#240c4e"/><stop offset="0.04" stop-color="#400a67"/><stop offset="0.04" stop-color="#5d126e"/><stop offset="0.05" stop-color="#7b1d6d"/><stop offset="0.07" stop-color="#af315c"/><stop offset="0.07" stop-color="#c13a50"/><stop offset="0.08" stop-color="#ce4347"/><stop offset="0.09" stop-color="#dc503a"/><stop offset="0.13" stop-color="#eb6528"/><stop offset="0.18" stop-color="#f47819"/><stop offset="0.25" stop-color="#f8870e"/><stop offset="0.38" stop-color="#fa9008"/><stop offset="0.59" stop-color="#fb9606"/><stop offset="1" stop-color="#fb9606"/></linearGradient>
<linearGradient id="d51"><stop offset="0" stop-color="#010109"/><stop offset="0.01" stop-color="#040314"/><stop offset="0.02" stop-color="#0d0829"/><stop offset="0.02" stop-color="#1f0c48"/><stop offset="0.03" stop-color="#3a0a63"/><stop offset="0.04" stop-color="#58106d"/><stop offset="0.04" stop-color="#761b6d"/><stop offset="0.06" stop-color="#ac2f5d"/><stop offset="0.07" stop-color="#c03a51"/><stop offset="0.08" stop-color="#d84c3e"/><stop offset="0.1" stop-color="#e65e2e"/><stop offset="0.14" stop-color="#f2751b"/><stop offset="0.21" stop-color="#f8890c"/><stop offset="0.29" stop-color="#fa9207"/><stop offset="0.42" stop-color="#fb9706"/><stop offset="0.56" stop-color="#fb9b06"/><stop offset="1" stop-color="#fb9b06"/></linearGradient>
<linearGradient id="d52"><stop offset="0" stop-color="#030311"/><stop offset="0.01" stop-color="#0b0724"/><stop offset="0.02" stop-color="#1c0c43"/><stop offset="0.02" stop-color="#370a61"/><stop offset="0.03" stop-color="#550f6d"/><stop offset="0.04" stop-color="#741a6e"/><stop offset="0.04" stop-color="#932567"/><stop offset="0.05" stop-color="#ad305c"/><stop offset="0.06" stop-color="#c33b4f"/><stop offset="0.07" stop-color="#d14644"/><stop offset="0.08" stop-color="#e15635"/><stop offset="0.11" stop-color="#ee6b23"/><stop offset="0.15" stop-color="#f68013"/><stop offset="0.22" stop-color="#fa9207"/><stop offset="0.33" stop-color="#fb9b06"/><stop offset="0.52" stop-color="#fca108"/><stop offset="1" stop-color="#fca108"/></linearGradient>
<linearGradient id="d53"><stop offset="0" stop-color="#090620"/><stop offset="0.01" stop-color="#180b3c"/><stop offset="0.02" stop-color="#330a5e"/><stop offset="0.02" stop-color="#510e6c"/><stop offset="0.03" stop-color="#711a6e"/><stop offset="0.04" stop-color="#922567"/><stop offset="0.04" stop-color="#b0315b"/><stop offset="0.05" stop-color="#c73e4c"/><stop offset="0.06" stop-color="#d64a40"/><stop offset="0.07" stop-color="#e05536"/><stop offset="0.09" stop-color="#ec6726"/><stop offset="0.13" stop-color="#f68112"/><stop offset="0.18" stop-color="#fa9207"/><stop offset="0.27" stop-color="#fc9f07"/><stop offset="0.49" stop-color="#fca60c"/><stop offset="1" stop-color="#fca60c"/></linearGradient>
<linearGradient id="d54"><stop offset="0" stop-color="#140b36"/><stop offset="0.01" stop-color="#2f0a5a"/><stop offset="0.02" stop-color="#520e6c"/><stop offset="0.02" stop-color="#731a6e"/><stop offset="0.03" stop-color="#932667"/><stop offset="0.04" stop-color="#b1325a"/><stop offset="0.04" stop-color="#c9404b"/><stop offset="0.05" stop-color="#da4e3c"/><stop offset="0.06" stop-color="#e45b31"/><stop offset="0.07" stop-color="#ee6b24"/><stop offset="0.13" stop-color="#f98a0c"/><stop offset="0.17" stop-color="#fb9806"/><stop offset="0.23" stop-color="#fca309"/><stop offset="0.44" stop-color="#fcac11"/><stop offset="1" stop-color="#fcac11"/></linearGradient>
<linearGradient id="d55"><stop offset="0" stop-color="#260b51"/><stop offset="0.01" stop-color="#4b0c6b"/><stop offset="0.02" stop-color="#721a6e"/><stop offset="0.02" stop-color="#952666"/><stop offset="0.03" stop-color="#b33359"/><stop offset="0.04" stop-color="#cb4149"/><stop offset="0.04" stop-color="#db503b"/><stop offset="0.05" stop-color="#e65e2e"/><stop offset="0.06" stop-color="#ed6925"/><stop offset="0.08" stop-color="#f47a17"/><stop offset="0.12" stop-color="#fa9108"/><stop offset="0.17" stop-color="#fca108"/><stop offset="0.24" stop-color="#fcaa0f"/><stop offset="0.43" stop-color="#fcb216"/><stop offset="1" stop-color="#fcb216"/></linearGradient>
<linearGradient id="d56"><stop offset="0" stop-color="#380962"/><stop offset="0.01" stop-color="#63146e"/><stop offset="0.02" stop-color="#902568"/><stop offset="0.02" stop-color="#b33359"/><stop offset="0.03" stop-color="#ca414a"/><stop offset="0.04" stop-color="#db4f3b"/><stop offset="0.05" stop-color="#ed6a24"/><stop offset="0.07" stop-color="#f47a17"/><stop offset="0.1" stop-color="#fa9008"/><stop offset="0.13" stop-color="#fc9f07"/><stop offset="0.2" stop-color="#fcae13"/><stop offset="0.38" stop-color="#fbb81d"/><stop offset="1" stop-color="#fbb81d"/></linearGradient>
<linearGradient id="d57"><stop offset="0" stop-color="#480b6a"/><stop offset="0.01" stop-color="#781c6d"/><stop offset="0.02" stop-color="#a72d5f"/><stop offset="0.02" stop-color="#c83f4c"/><stop offset="0.03" stop-color="#da4e3c"/><stop offset="0.04" stop-color="#ed6925"/><stop offset="0.07" stop-color="#f78311"/><stop offset="0.09" stop-color="#fa9307"/><stop offset="0.12" stop-color="#fca40a"/><stop offset="0.18" stop-color="#fcb418"/><stop offset="0.3" stop-color="#fbbc21"/><stop offset="0.64" stop-color="#fbbe23"/><stop offset="1" stop-color="#fbbe23"/></linearGradient>
<linearGradient id="d58"><stop offset="0" stop-color="#57106d"/><stop offset="0.01" stop-color="#8b236a"/><stop offset="0.02" stop-color="#bc3854"/><stop offset="0.02" stop-color="#d94d3d"/><stop offset="0.03" stop-color="#e75e2e"/><stop offset="0.04" stop-color="#f3771a"/><stop offset="0.07" stop-color="#f98d0a"/><stop offset="0.09" stop-color="#fb9c07"/><stop offset="0.12" stop-color="#fcad12"/><stop offset="0.17" stop-color="#fbb91e"/><stop offset="0.27" stop-color="#fac228"/><stop offset="0.58" stop-color="#fac42a"/><stop offset="1" stop-color="#fac42a"/></linearGradient>
<linearGradient id="d59"><stop offset="0" stop-color="#64156e"/><stop offset="0.01" stop-color="#9c2964"/><stop offset="0.02" stop-color="#cf4446"/><stop offset="0.02" stop-color="#e75f2d"/><stop offset="0.03" stop-color="#f1711f"/><stop offset="0.04" stop-color="#f8880d"/><stop offset="0.07" stop-color="#fb9a06"/><stop offset="0.11" stop-color="#fcb115"/><stop offset="0.16" stop-color="#fbbf25"/><stop offset="0.22" stop-color="#fac62d"/><stop offset="0.34" stop-color="#f9c932"/><stop offset="1" stop-color="#f9c932"/></linearGradient>
<linearGradient id="d60"><stop offset="0" stop-color="#70196e"/><stop offset="0.01" stop-color="#ad305d"/><stop offset="0.02" stop-color="#de5238"/><stop offset="0.02" stop-color="#f1731d"/><stop offset="0.03" stop-color="#f78410"/><stop offset="0.04" stop-color="#fa9008"/><stop offset="0.05" stop-color="#fc9f08"/><stop offset="0.1" stop-color="#fbb81d"/><stop offset="0.14" stop-color="#fac52c"/><stop offset="0.18" stop-color="#f9c932"/><stop offset="0.24" stop-color="#f8cd37"/><stop offset="0.41" stop-color="#f8cf3a"/><stop offset="1" stop-color="#f8cf3a"/></linearGradient>
<linearGradient id="d61"><stop offset="0" stop-color="#7b1d6d"/><stop offset="0.01" stop-color="#ba3655"/><stop offset="0.02" stop-color="#e8602d"/><stop offset="0.02" stop-color="#f78410"/><stop offset="0.03" stop-color="#fa9507"/><stop offset="0.04" stop-color="#fca60b"/><stop offset="0.09" stop-color="#fbbd22"/><stop offset="0.14" stop-color="#f8cd37"/><stop offset="0.22" stop-color="#f7d340"/><stop offset="1" stop-color="#f7d441"/></linearGradient>
<linearGradient id="d62"><stop offset="0" stop-color="#84206b"/><stop offset="0.01" stop-color="#c43c4e"/><stop offset="0.02" stop-color="#ef6c23"/><stop offset="0.02" stop-color="#fa9108"/><stop offset="0.03" stop-color="#fca209"/><stop offset="0.05" stop-color="#fbb61b"/><stop offset="0.11" stop-color="#f8cd37"/><stop offset="0.13" stop-color="#f7d340"/><stop offset="0.19" stop-color="#f5d949"/><stop offset="1" stop-color="#f5da4a"/></linearGradient>
<linearGradient id="d63"><stop offset="0" stop-color="#8c2369"/><stop offset="0.01" stop-color="#ce4347"/><stop offset="0.02" stop-color="#f47918"/><stop offset="0.02" stop-color="#fb9e07"/><stop offset="0.03" stop-color="#fcad12"/><stop offset="0.05" stop-color="#fbbf25"/><stop offset="0.09" stop-color="#f7d03c"/><stop offset="0.13" stop-color="#f5db4c"/><stop offset="0.18" stop-color="#f4df53"/><stop offset="1" stop-color="#f4e054"/></linearGradient>
<linearGradient id="d64"><stop offset="0" stop-color="#942667"/><stop offset="0.01" stop-color="#d74b3f"/><stop offset="0.02" stop-color="#f8870e"/><stop offset="0.02" stop-color="#fcad12"/><stop offset="0.03" stop-color="#fbbc21"/><stop offset="0.07" stop-color="#f7d13d"/><stop offset="0.11" stop-color="#f4e156"/><stop offset="0.16" stop-color="#f3e55d"/><stop offset="1" stop-color="#f2e55f"/></linearGradient>
<linearGradient id="d65"><stop offset="0" stop-color="#9c2964"/><stop offset="0.01" stop-color="#df5437"/><stop offset="0.02" stop-color="#fb9706"/><stop offset="0.02" stop-color="#fbbe23"/><stop offset="0.03" stop-color="#f8cb35"/><stop offset="0.08" stop-color="#f4e156"/><stop offset="0.09" stop-color="#f3e55d"/><stop offset="0.14" stop-color="#f2ea69"/><stop offset="1" stop-color="#f2eb6b"/></linearGradient>
<linearGradient id="d66"><stop offset="0" stop-color="#a22b62"/><stop offset="0.01" stop-color="#e45a31"/><stop offset="0.02" stop-color="#fca309"/><stop offset="0.02" stop-color="#f9cb35"/><stop offset="0.03" stop-color="#f6d746"/><stop offset="0.05" stop-color="#f4df53"/><stop offset="0.09" stop-color="#f2e967"/><stop offset="0.1" stop-color="#f2eb6b"/><stop offset="0.11" stop-color="#f1ed6f"/><stop offset="0.12" stop-color="#f1ed6f"/><stop offset="0.13" stop-color="#f1ee73"/><stop offset="1" stop-color="#f1ee73"/></linearGradient>
<rect x="30.4" y="218.5" width="144.3" height="3.1" fill="url(#d0)"/>
<rect x="30.4" y="220.5" width="144.3" height="3.1" fill="url(#d1)"/>
<rect x="30.4" y="222.5" width="144.3" height="3.1" fill="url(#d2)"/>
<rect x="30.4" y="224.5" width="144.3" height="3.1" fill="url(#d3)"/>
<rect x="30.4" y="226.5" width="144.3" height="3.1" fill="url(#d4)"/>
<rect x="30.4" y="228.5" width="144.3" height="3.1" fill="url(#d5)"/>
<rect x="30.4" y="230.5" width="144.3" height="3.1" fill="url(#d6)"/>
<rect x="30.4" y="232.5" width="144.3" height="3.1" fill="url(#d7)"/>
<rect x="30.4" y="234.5" width="144.3" height="3.1" fill="url(#d8)"/>
<rect x="30.4" y="236.5" width="144.3" height="3.1" fill="url(#d9)"/>
<rect x="30.4" y="238.5" width="144.3" height="3.1" fill="url(#d10)"/>
<rect x="30.4" y="240.5" width="144.3" height="3.1" fill="url(#d11)"/>
<rect x="30.4" y="242.5" width="144.3" height="3.1" fill="url(#d12)"/>
<rect x="30.4" y="244.5" width="144.3" height="3.1" fill="url(#d13)"/>
<rect x="30.4" y="246.5" width="144.3" height="3.1" fill="url(#d14)"/>
<rect x="30.4" y="248.5" width="144.3" height="3.1" fill="url(#d15)"/>
<rect x="30.4" y="250.5" width="144.3" height="3.1" fill="url(#d16)"/>
<rect x="30.4" y="252.5" width="144.3" height="3.1" fill="url(#d17)"/>
<rect x="30.4" y="254.5" width="144.3" height="3.1" fill="url(#d18)"/>
<rect x="30.4" y="256.5" width="144.3" height="3.1" fill="url(#d19)"/>
<rect x="30.4" y="258.5" width="144.3" height="3.1" fill="url(#d20)"/>
<rect x="30.4" y="260.5" width="144.3" height="3.1" fill="url(#d21)"/>
<rect x="30.4" y="262.5" width="144.3" height="3.1" fill="url(#d22)"/>
<rect x="30.4" y="264.5" width="144.3" height="3.1" fill="url(#d23)"/>
<rect x="30.4" y="266.5" width="144.3" height="3.1" fill="url(#d24)"/>
<rect x="30.4" y="268.5" width="144.3" height="3.1" fill="url(#d25)"/>
<rect x="30.4" y="270.5" width="144.3" height="3.1" fill="url(#d26)"/>
<rect x="30.4" y="272.5" width="144.3" height="3.1" fill="url(#d27)"/>
<rect x="30.4" y="274.5" width="144.3" height="3.1" fill="url(#d28)"/>
<rect x="30.4" y="276.5" width="144.3" height="3.1" fill="url(#d29)"/>
<rect x="30.4" y="278.5" width="144.3" height="3.1" fill="url(#d30)"/>
<rect x="30.4" y="280.5" width="144.3" height="3.1" fill="url(#d31)"/>
<rect x="30.4" y="282.5" width="144.3" height="3.1" fill="url(#d32)"/>
<rect x="30.4" y="284.5" width="144.3" height="3.1" fill="url(#d33)"/>
<rect x="30.4" y="286.5" width="144.3" height="3.1" fill="url(#d34)"/>
<rect x="30.4" y="288.5" width="144.3" height="3.1" fill="url(#d35)"/>
<rect x="30.4" y="290.5" width="144.3" height="3.1" fill="url(#d36)"/>
<rect x="30.4" y="292.5" width="144.3" height="3.1" fill="url(#d37)"/>
<rect x="30.4" y="294.5" width="144.3" height="3.1" fill="url(#d38)"/>
<rect x="30.4" y="296.5" width="144.3" height="3.1" fill="url(#d39)"/>
<rect x="30.4" y="298.5" width="144.3" height="3.1" fill="url(#d40)"/>
<rect x="30.4" y="300.5" width="144.3" height="3.1" fill="url(#d41)"/>
<rect x="30.4" y="302.5" width="144.3" height="3.1" fill="url(#d42)"/>
<rect x="30.4" y="304.5" width="144.3" height="3.1" fill="url(#d43)"/>
<rect x="30.4" y="306.5" width="144.3" height="3.1" fill="url(#d44)"/>
<rect x="30.4" y="308.5" width="144.3" height="3.1" fill="url(#d45)"/>
<rect x="30.4" y="310.5" width="144.3" height="3.1" fill="url(#d46)"/>
<rect x="30.4" y="312.5" width="144.3" height="3.1" fill="url(#d47)"/>
<rect x="30.4" y="314.5" width="144.3" height="3.1" fill="url(#d48)"/>
<rect x="30.4" y="316.5" width="144.3" height="3.1" fill="url(#d49)"/>
<rect x="30.4" y="318.5" width="144.3" height="3.1" fill="url(#d50)"/>
<rect x="30.4" y="320.5" width="144.3" height="3.1" fill="url(#d51)"/>
<rect x="30.4" y="322.5" width="144.3" height="3.1" fill="url(#d52)"/>
<rect x="30.4" y="324.5" width="144.3" height="3.1" fill="url(#d53)"/>
<rect x="30.4" y="326.5" width="144.3" height="3.1" fill="url(#d54)"/>
<rect x="30.4" y="328.5" width="144.3" height="3.1" fill="url(#d55)"/>
<rect x="30.4" y="330.5" width="144.3" height="3.1" fill="url(#d56)"/>
<rect x="30.4" y="332.5" width="144.3" height="3.1" fill="url(#d57)"/>
<rect x="30.4" y="334.5" width="144.3" height="3.1" fill="url(#d58)"/>
<rect x="30.4" y="336.5" width="144.3" height="3.1" fill="url(#d59)"/>
<rect x="30.4" y="338.5" width="144.3" height="3.1" fill="url(#d60)"/>
<rect x="30.4" y="340.5" width="144.3" height="3.1" fill="url(#d61)"/>
<rect x="30.4" y="342.5" width="144.3" height="3.1" fill="url(#d62)"/>
<rect x="30.4" y="344.5" width="144.3" height="3.1" fill="url(#d63)"/>
<rect x="30.4" y="346.5" width="144.3" height="3.1" fill="url(#d64)"/>
<rect x="30.4" y="348.5" width="144.3" height="3.1" fill="url(#d65)"/>
<rect x="30.4" y="350.5" width="144.3" height="3.1" fill="url(#d66)"/>
</g>
<rect x="30.4" y="218.5" width="144.3" height="134" fill="none" stroke="#000" stroke-width="0.45"/>
<path d="M30.4 352.5L30.4 354.3M46.43 352.5L46.43 354.3M62.47 352.5L62.47 354.3M78.5 352.5L78.5 354.3M94.53 352.5L94.53 354.3M110.57 352.5L110.57 354.3M126.6 352.5L126.6 354.3M142.63 352.5L142.63 354.3M158.67 352.5L158.67 354.3M174.7 352.5L174.7 354.3M30.4 342.57L28.6 342.57M30.4 324.85L28.6 324.85M30.4 307.12L28.6 307.12M30.4 289.4L28.6 289.4M30.4 271.68L28.6 271.68M30.4 253.95L28.6 253.95M30.4 236.22L28.6 236.22M30.4 218.5L28.6 218.5M190.5 352.5L192.3 352.5M190.5 341.1L192.3 341.1M190.5 326.84L192.3 326.84M190.5 312.59L192.3 312.59M190.5 298.33L192.3 298.33M190.5 284.07L192.3 284.07M190.5 269.82L192.3 269.82M190.5 255.56L192.3 255.56M190.5 241.31L192.3 241.31M190.5 227.05L192.3 227.05" stroke="#000" stroke-width="0.45" fill="none"/>
<text x="30.4" y="360.2" font-size="4.9" text-anchor="middle">0.0</text>
<text x="46.43" y="360.2" font-size="4.9" text-anchor="middle">0.1</text>
<text x="62.47" y="360.2" font-size="4.9" text-anchor="middle">0.2</text>
<text x="78.5" y="360.2" font-size="4.9" text-anchor="middle">0.3</text>
<text x="94.53" y="360.2" font-size="4.9" text-anchor="middle">0.4</text>
<text x="110.57" y="360.2" font-size="4.9" text-anchor="middle">0.5</text>
<text x="126.6" y="360.2" font-size="4.9" text-anchor="middle">0.6</text>
<text x="142.63" y="360.2" font-size="4.9" text-anchor="middle">0.7</text>
<text x="158.67" y="360.2" font-size="4.9" text-anchor="middle">0.8</text>
<text x="174.7" y="360.2" font-size="4.9" text-anchor="middle">0.9</text>
<text x="27" y="344.36" font-size="4.9" text-anchor="end">5</text>
<text x="27" y="326.64" font-size="4.9" text-anchor="end">10</text>
<text x="27" y="308.91" font-size="4.9" text-anchor="end">15</text>
<text x="27" y="291.19" font-size="4.9" text-anchor="end">20</text>
<text x="27" y="273.46" font-size="4.9" text-anchor="end">25</text>
<text x="27" y="255.74" font-size="4.9" text-anchor="end">30</text>
<text x="27" y="238.01" font-size="4.9" text-anchor="end">35</text>
<text x="27" y="220.29" font-size="4.9" text-anchor="end">40</text>
<text x="102.55" y="368.1" font-size="5.0" text-anchor="middle">Mutation strength (q)</text>
<text transform="translate(17.2 285.5) rotate(-90)" font-size="5.0" text-anchor="middle">Reward parameter (R)</text>
<linearGradient id="cbd" x1="0" y1="1" x2="0" y2="0"><stop offset="0" stop-color="#000004"/><stop offset="0.04" stop-color="#050417"/><stop offset="0.09" stop-color="#110a30"/><stop offset="0.13" stop-color="#210c4a"/><stop offset="0.17" stop-color="#320a5e"/><stop offset="0.22" stop-color="#450a69"/><stop offset="0.26" stop-color="#57106e"/><stop offset="0.3" stop-color="#67166e"/><stop offset="0.35" stop-color="#781c6d"/><stop offset="0.39" stop-color="#8a226a"/><stop offset="0.43" stop-color="#9a2865"/><stop offset="0.48" stop-color="#ab2f5e"/><stop offset="0.52" stop-color="#bc3754"/><stop offset="0.57" stop-color="#ca404a"/><stop offset="0.61" stop-color="#d84c3e"/><stop offset="0.65" stop-color="#e45a31"/><stop offset="0.7" stop-color="#ed6925"/><stop offset="0.74" stop-color="#f57b17"/><stop offset="0.78" stop-color="#f98e09"/><stop offset="0.83" stop-color="#fca108"/><stop offset="0.87" stop-color="#fbb61a"/><stop offset="0.91" stop-color="#f9cb35"/><stop offset="0.96" stop-color="#f4df53"/><stop offset="1" stop-color="#f2f27d"/></linearGradient><rect x="183.6" y="218.5" width="6.9" height="134" fill="url(#cbd)" stroke="#000" stroke-width="0.4"/>
<text x="194" y="354.29" font-size="4.9">2</text>
<text x="194" y="342.88" font-size="4.9">10</text>
<text x="194" y="328.63" font-size="4.9">20</text>
<text x="194" y="314.37" font-size="4.9">30</text>
<text x="194" y="300.12" font-size="4.9">40</text>
<text x="194" y="285.86" font-size="4.9">50</text>
<text x="194" y="271.61" font-size="4.9">60</text>
<text x="194" y="257.35" font-size="4.9">70</text>
<text x="194" y="243.1" font-size="4.9">80</text>
<text x="194" y="228.84" font-size="4.9">90</text>
<text transform="translate(205.6 285.5) rotate(-90)" font-size="5.0" text-anchor="middle">Claim with highest frequency</text>
</g>
<g>
<clipPath id="ce"><rect x="260.1" y="218.5" width="144.2" height="134"/></clipPath>
<g clip-path="url(#ce)">
<linearGradient id="e0"><stop offset="0" stop-color="#000004"/><stop offset="0.4" stop-color="#010108"/><stop offset="0.5" stop-color="#02020d"/><stop offset="0.53" stop-color="#060419"/><stop offset="0.54" stop-color="#0e092b"/><stop offset="0.56" stop-color="#220c4b"/><stop offset="0.56" stop-color="#310a5d"/><stop offset="0.57" stop-color="#410a67"/><stop offset="0.58" stop-color="#61136e"/><stop offset="0.6" stop-color="#7a1d6d"/><stop offset="0.61" stop-color="#8b236a"/><stop offset="0.63" stop-color="#972766"/><stop offset="0.69" stop-color="#a22b62"/><stop offset="0.84" stop-color="#b1325a"/><stop offset="1" stop-color="#b73557"/></linearGradient>
<linearGradient id="e1"><stop offset="0" stop-color="#000004"/><stop offset="0.4" stop-color="#010108"/><stop offset="0.5" stop-color="#03020f"/><stop offset="0.51" stop-color="#050417"/><stop offset="0.53" stop-color="#0b0725"/><stop offset="0.54" stop-color="#1b0c41"/><stop offset="0.55" stop-color="#280b53"/><stop offset="0.56" stop-color="#360a60"/><stop offset="0.56" stop-color="#450b69"/><stop offset="0.58" stop-color="#61146e"/><stop offset="0.59" stop-color="#781c6d"/><stop offset="0.6" stop-color="#8a226a"/><stop offset="0.62" stop-color="#972766"/><stop offset="0.71" stop-color="#a62d60"/><stop offset="0.88" stop-color="#b3325a"/><stop offset="1" stop-color="#b73557"/></linearGradient>
<linearGradient id="e2"><stop offset="0" stop-color="#000004"/><stop offset="0.4" stop-color="#010108"/><stop offset="0.49" stop-color="#02020e"/><stop offset="0.5" stop-color="#040313"/><stop offset="0.51" stop-color="#090621"/><stop offset="0.53" stop-color="#160b38"/><stop offset="0.54" stop-color="#2e0a59"/><stop offset="0.55" stop-color="#3d0a65"/><stop offset="0.56" stop-color="#59116e"/><stop offset="0.58" stop-color="#7d1e6c"/><stop offset="0.6" stop-color="#902568"/><stop offset="0.63" stop-color="#9b2964"/><stop offset="0.74" stop-color="#aa2f5e"/><stop offset="0.95" stop-color="#b63458"/><stop offset="1" stop-color="#b73557"/></linearGradient>
<linearGradient id="e3"><stop offset="0" stop-color="#000004"/><stop offset="0.4" stop-color="#010108"/><stop offset="0.47" stop-color="#02020d"/><stop offset="0.49" stop-color="#030311"/><stop offset="0.5" stop-color="#07051b"/><stop offset="0.51" stop-color="#100a2f"/><stop offset="0.53" stop-color="#240c4d"/><stop offset="0.53" stop-color="#320a5d"/><stop offset="0.54" stop-color="#420a67"/><stop offset="0.56" stop-color="#5d126e"/><stop offset="0.57" stop-color="#751b6e"/><stop offset="0.58" stop-color="#88226a"/><stop offset="0.6" stop-color="#952667"/><stop offset="0.64" stop-color="#a02a63"/><stop offset="0.78" stop-color="#ae305c"/><stop offset="0.99" stop-color="#b73557"/><stop offset="1" stop-color="#b73557"/></linearGradient>
<linearGradient id="e4"><stop offset="0" stop-color="#000004"/><stop offset="0.39" stop-color="#010108"/><stop offset="0.47" stop-color="#02020e"/><stop offset="0.49" stop-color="#060419"/><stop offset="0.5" stop-color="#0d0829"/><stop offset="0.51" stop-color="#1d0c44"/><stop offset="0.52" stop-color="#2a0b56"/><stop offset="0.53" stop-color="#380a62"/><stop offset="0.54" stop-color="#550f6d"/><stop offset="0.56" stop-color="#781c6d"/><stop offset="0.58" stop-color="#88226a"/><stop offset="0.6" stop-color="#972766"/><stop offset="0.67" stop-color="#a42c61"/><stop offset="0.82" stop-color="#b1325a"/><stop offset="1" stop-color="#b73557"/></linearGradient>
<linearGradient id="e5"><stop offset="0" stop-color="#000004"/><stop offset="0.39" stop-color="#010108"/><stop offset="0.45" stop-color="#02020d"/><stop offset="0.47" stop-color="#050416"/><stop offset="0.49" stop-color="#0b0724"/><stop offset="0.5" stop-color="#190c3e"/><stop offset="0.51" stop-color="#320a5d"/><stop offset="0.52" stop-color="#410a67"/><stop offset="0.53" stop-color="#5c126e"/><stop offset="0.56" stop-color="#7d1e6c"/><stop offset="0.58" stop-color="#902568"/><stop offset="0.6" stop-color="#9c2964"/><stop offset="0.72" stop-color="#ab2f5e"/><stop offset="0.93" stop-color="#b63458"/><stop offset="1" stop-color="#b83556"/></linearGradient>
<linearGradient id="e6"><stop offset="0" stop-color="#000004"/><stop offset="0.38" stop-color="#010108"/><stop offset="0.44" stop-color="#02020d"/><stop offset="0.46" stop-color="#040312"/><stop offset="0.47" stop-color="#08061e"/><stop offset="0.49" stop-color="#160b38"/><stop offset="0.5" stop-color="#2c0b57"/><stop offset="0.51" stop-color="#3c0a64"/><stop offset="0.52" stop-color="#57106d"/><stop offset="0.54" stop-color="#791c6d"/><stop offset="0.56" stop-color="#89226a"/><stop offset="0.58" stop-color="#962766"/><stop offset="0.62" stop-color="#a12b62"/><stop offset="0.78" stop-color="#b0315b"/><stop offset="1" stop-color="#b93556"/></linearGradient>
<linearGradient id="e7"><stop offset="0" stop-color="#000004"/><stop offset="0.38" stop-color="#010109"/><stop offset="0.43" stop-color="#02020c"/><stop offset="0.45" stop-color="#050416"/><stop offset="0.46" stop-color="#07051b"/><stop offset="0.47" stop-color="#110a30"/><stop offset="0.49" stop-color="#260b51"/><stop offset="0.49" stop-color="#350a5f"/><stop offset="0.5" stop-color="#440b68"/><stop offset="0.51" stop-color="#60136e"/><stop offset="0.53" stop-color="#7f1e6c"/><stop offset="0.56" stop-color="#922568"/><stop offset="0.6" stop-color="#9f2a63"/><stop offset="0.74" stop-color="#ae305c"/><stop offset="1" stop-color="#b93556"/></linearGradient>
<linearGradient id="e8"><stop offset="0" stop-color="#000004"/><stop offset="0.38" stop-color="#010108"/><stop offset="0.42" stop-color="#02020d"/><stop offset="0.44" stop-color="#050417"/><stop offset="0.46" stop-color="#0d0829"/><stop offset="0.47" stop-color="#210c4a"/><stop offset="0.48" stop-color="#2f0a5a"/><stop offset="0.49" stop-color="#3e0a65"/><stop offset="0.5" stop-color="#5b116e"/><stop offset="0.52" stop-color="#7c1e6d"/><stop offset="0.53" stop-color="#8b236a"/><stop offset="0.56" stop-color="#9a2865"/><stop offset="0.63" stop-color="#a62d60"/><stop offset="0.82" stop-color="#b3325a"/><stop offset="1" stop-color="#b93556"/></linearGradient>
<linearGradient id="e9"><stop offset="0" stop-color="#000004"/><stop offset="0.37" stop-color="#010108"/><stop offset="0.42" stop-color="#02020d"/><stop offset="0.43" stop-color="#040314"/><stop offset="0.44" stop-color="#0b0724"/><stop offset="0.46" stop-color="#1b0c41"/><stop offset="0.47" stop-color="#290b53"/><stop offset="0.47" stop-color="#370a61"/><stop offset="0.48" stop-color="#460b69"/><stop offset="0.49" stop-color="#62146e"/><stop offset="0.51" stop-color="#84206b"/><stop offset="0.54" stop-color="#972766"/><stop offset="0.6" stop-color="#a32c61"/><stop offset="0.78" stop-color="#b1325a"/><stop offset="1" stop-color="#b93556"/></linearGradient>
<linearGradient id="e10"><stop offset="0" stop-color="#000004"/><stop offset="0.36" stop-color="#010108"/><stop offset="0.4" stop-color="#02020c"/><stop offset="0.42" stop-color="#040312"/><stop offset="0.43" stop-color="#090620"/><stop offset="0.44" stop-color="#170b3b"/><stop offset="0.46" stop-color="#310a5c"/><stop offset="0.47" stop-color="#410a67"/><stop offset="0.48" stop-color="#5e136e"/><stop offset="0.5" stop-color="#801f6c"/><stop offset="0.52" stop-color="#932567"/><stop offset="0.56" stop-color="#9f2a63"/><stop offset="0.71" stop-color="#ae305c"/><stop offset="0.95" stop-color="#b73557"/><stop offset="1" stop-color="#b93556"/></linearGradient>
<linearGradient id="e11"><stop offset="0" stop-color="#000004"/><stop offset="0.36" stop-color="#010108"/><stop offset="0.4" stop-color="#02020d"/><stop offset="0.41" stop-color="#040314"/><stop offset="0.42" stop-color="#0c0826"/><stop offset="0.43" stop-color="#130a33"/><stop offset="0.44" stop-color="#1f0c48"/><stop offset="0.45" stop-color="#3d0a64"/><stop offset="0.47" stop-color="#5a116e"/><stop offset="0.49" stop-color="#7e1e6c"/><stop offset="0.5" stop-color="#8d2369"/><stop offset="0.53" stop-color="#9c2964"/><stop offset="0.64" stop-color="#ab2f5e"/><stop offset="0.87" stop-color="#b63458"/><stop offset="1" stop-color="#b93556"/></linearGradient>
<linearGradient id="e12"><stop offset="0" stop-color="#000004"/><stop offset="0.36" stop-color="#010108"/><stop offset="0.39" stop-color="#02020e"/><stop offset="0.4" stop-color="#050418"/><stop offset="0.42" stop-color="#0f092c"/><stop offset="0.43" stop-color="#250b4f"/><stop offset="0.44" stop-color="#370a61"/><stop offset="0.44" stop-color="#460b69"/><stop offset="0.46" stop-color="#65156e"/><stop offset="0.47" stop-color="#7c1e6d"/><stop offset="0.49" stop-color="#8c2369"/><stop offset="0.51" stop-color="#9b2964"/><stop offset="0.57" stop-color="#a62d60"/><stop offset="0.78" stop-color="#b3325a"/><stop offset="1" stop-color="#b93556"/></linearGradient>
<linearGradient id="e13"><stop offset="0" stop-color="#000004"/><stop offset="0.35" stop-color="#010108"/><stop offset="0.38" stop-color="#030210"/><stop offset="0.4" stop-color="#07051c"/><stop offset="0.4" stop-color="#0c0826"/><stop offset="0.42" stop-color="#1e0c45"/><stop offset="0.42" stop-color="#2e0a59"/><stop offset="0.43" stop-color="#3e0a65"/><stop offset="0.44" stop-color="#4f0d6c"/><stop offset="0.46" stop-color="#781c6d"/><stop offset="0.47" stop-color="#8c2369"/><stop offset="0.5" stop-color="#9c2964"/><stop offset="0.57" stop-color="#a72d5f"/><stop offset="0.8" stop-color="#b43359"/><stop offset="1" stop-color="#b93556"/></linearGradient>
<linearGradient id="e14"><stop offset="0" stop-color="#000004"/><stop offset="0.33" stop-color="#010108"/><stop offset="0.37" stop-color="#03020f"/><stop offset="0.39" stop-color="#0a0722"/><stop offset="0.4" stop-color="#1a0c3f"/><stop offset="0.41" stop-color="#290b53"/><stop offset="0.42" stop-color="#380a61"/><stop offset="0.42" stop-color="#480b6a"/><stop offset="0.44" stop-color="#66166e"/><stop offset="0.45" stop-color="#7f1e6c"/><stop offset="0.47" stop-color="#8f2468"/><stop offset="0.49" stop-color="#9e2a63"/><stop offset="0.55" stop-color="#a72d5f"/><stop offset="0.78" stop-color="#b43359"/><stop offset="1" stop-color="#b93556"/></linearGradient>
<linearGradient id="e15"><stop offset="0" stop-color="#000004"/><stop offset="0.33" stop-color="#010108"/><stop offset="0.35" stop-color="#02010b"/><stop offset="0.37" stop-color="#060419"/><stop offset="0.38" stop-color="#10092f"/><stop offset="0.39" stop-color="#180b3c"/><stop offset="0.4" stop-color="#250b4f"/><stop offset="0.4" stop-color="#340a5e"/><stop offset="0.41" stop-color="#440b68"/><stop offset="0.42" stop-color="#62146e"/><stop offset="0.43" stop-color="#711a6e"/><stop offset="0.44" stop-color="#86216b"/><stop offset="0.46" stop-color="#942667"/><stop offset="0.49" stop-color="#a12b62"/><stop offset="0.61" stop-color="#ad305c"/><stop offset="0.89" stop-color="#b73557"/><stop offset="1" stop-color="#b93556"/></linearGradient>
<linearGradient id="e16"><stop offset="0" stop-color="#000004"/><stop offset="0.31" stop-color="#010108"/><stop offset="0.34" stop-color="#02020e"/><stop offset="0.36" stop-color="#090620"/><stop offset="0.38" stop-color="#170b3b"/><stop offset="0.39" stop-color="#320a5d"/><stop offset="0.4" stop-color="#430a67"/><stop offset="0.41" stop-color="#61136e"/><stop offset="0.42" stop-color="#7a1d6d"/><stop offset="0.44" stop-color="#8d2369"/><stop offset="0.47" stop-color="#9f2a63"/><stop offset="0.52" stop-color="#a82e5f"/><stop offset="0.75" stop-color="#b43359"/><stop offset="1" stop-color="#ba3655"/></linearGradient>
<linearGradient id="e17"><stop offset="0" stop-color="#000004"/><stop offset="0.3" stop-color="#010108"/><stop offset="0.33" stop-color="#02020e"/><stop offset="0.34" stop-color="#050418"/><stop offset="0.35" stop-color="#090620"/><stop offset="0.36" stop-color="#160b39"/><stop offset="0.38" stop-color="#310a5b"/><stop offset="0.38" stop-color="#410a67"/><stop offset="0.4" stop-color="#5f136e"/><stop offset="0.42" stop-color="#84206b"/><stop offset="0.44" stop-color="#972766"/><stop offset="0.47" stop-color="#a22b62"/><stop offset="0.56" stop-color="#ad305d"/><stop offset="0.85" stop-color="#b73557"/><stop offset="1" stop-color="#ba3655"/></linearGradient>
<linearGradient id="e18"><stop offset="0" stop-color="#000004"/><stop offset="0.29" stop-color="#010108"/><stop offset="0.32" stop-color="#030311"/><stop offset="0.33" stop-color="#090620"/><stop offset="0.35" stop-color="#150b37"/><stop offset="0.36" stop-color="#2f0a5a"/><stop offset="0.37" stop-color="#3e0a65"/><stop offset="0.38" stop-color="#5d126e"/><stop offset="0.4" stop-color="#82206c"/><stop offset="0.42" stop-color="#932567"/><stop offset="0.44" stop-color="#a12b62"/><stop offset="0.5" stop-color="#aa2f5e"/><stop offset="0.76" stop-color="#b63458"/><stop offset="1" stop-color="#ba3655"/></linearGradient>
<linearGradient id="e19"><stop offset="0" stop-color="#000004"/><stop offset="0.28" stop-color="#010108"/><stop offset="0.31" stop-color="#030311"/><stop offset="0.32" stop-color="#08061e"/><stop offset="0.33" stop-color="#150b37"/><stop offset="0.35" stop-color="#2d0b58"/><stop offset="0.36" stop-color="#3c0a64"/><stop offset="0.37" stop-color="#5a116e"/><stop offset="0.39" stop-color="#801f6c"/><stop offset="0.41" stop-color="#962766"/><stop offset="0.43" stop-color="#a12b62"/><stop offset="0.5" stop-color="#ac2f5d"/><stop offset="0.79" stop-color="#b73557"/><stop offset="1" stop-color="#ba3655"/></linearGradient>
<linearGradient id="e20"><stop offset="0" stop-color="#000004"/><stop offset="0.27" stop-color="#010108"/><stop offset="0.29" stop-color="#030311"/><stop offset="0.31" stop-color="#090620"/><stop offset="0.32" stop-color="#150b37"/><stop offset="0.33" stop-color="#2b0b56"/><stop offset="0.34" stop-color="#3b0a63"/><stop offset="0.36" stop-color="#59116d"/><stop offset="0.38" stop-color="#7f1e6c"/><stop offset="0.4" stop-color="#942667"/><stop offset="0.42" stop-color="#a22b62"/><stop offset="0.49" stop-color="#ad305d"/><stop offset="0.77" stop-color="#b73557"/><stop offset="1" stop-color="#ba3655"/></linearGradient>
<linearGradient id="e21"><stop offset="0" stop-color="#000004"/><stop offset="0.24" stop-color="#010107"/><stop offset="0.27" stop-color="#02020e"/><stop offset="0.29" stop-color="#090620"/><stop offset="0.31" stop-color="#150b37"/><stop offset="0.32" stop-color="#2c0b57"/><stop offset="0.33" stop-color="#3c0a64"/><stop offset="0.34" stop-color="#58106d"/><stop offset="0.36" stop-color="#7d1e6c"/><stop offset="0.38" stop-color="#8f2469"/><stop offset="0.4" stop-color="#9d2964"/><stop offset="0.44" stop-color="#a92e5e"/><stop offset="0.58" stop-color="#b3325a"/><stop offset="0.98" stop-color="#ba3655"/><stop offset="1" stop-color="#ba3655"/></linearGradient>
<linearGradient id="e22"><stop offset="0" stop-color="#000004"/><stop offset="0.23" stop-color="#010107"/><stop offset="0.26" stop-color="#02020e"/><stop offset="0.28" stop-color="#090621"/><stop offset="0.29" stop-color="#160b39"/><stop offset="0.31" stop-color="#2e0b59"/><stop offset="0.31" stop-color="#3c0a64"/><stop offset="0.33" stop-color="#59116e"/><stop offset="0.35" stop-color="#7d1e6c"/><stop offset="0.36" stop-color="#8f2469"/><stop offset="0.39" stop-color="#a02a62"/><stop offset="0.44" stop-color="#ac2f5d"/><stop offset="0.61" stop-color="#b53458"/><stop offset="1" stop-color="#ba3655"/></linearGradient>
<linearGradient id="e23"><stop offset="0" stop-color="#000004"/><stop offset="0.22" stop-color="#010107"/><stop offset="0.24" stop-color="#02010b"/><stop offset="0.26" stop-color="#06051a"/><stop offset="0.27" stop-color="#10092f"/><stop offset="0.29" stop-color="#230c4c"/><stop offset="0.3" stop-color="#3f0a66"/><stop offset="0.31" stop-color="#5b116e"/><stop offset="0.33" stop-color="#7e1e6c"/><stop offset="0.36" stop-color="#952667"/><stop offset="0.38" stop-color="#a32c61"/><stop offset="0.45" stop-color="#af315c"/><stop offset="0.67" stop-color="#b73557"/><stop offset="1" stop-color="#ba3655"/></linearGradient>
<linearGradient id="e24"><stop offset="0" stop-color="#000004"/><stop offset="0.2" stop-color="#010107"/><stop offset="0.22" stop-color="#02020c"/><stop offset="0.24" stop-color="#040314"/><stop offset="0.25" stop-color="#0b0725"/><stop offset="0.27" stop-color="#1a0c3f"/><stop offset="0.28" stop-color="#330a5d"/><stop offset="0.29" stop-color="#500e6c"/><stop offset="0.31" stop-color="#751b6d"/><stop offset="0.33" stop-color="#8f2468"/><stop offset="0.36" stop-color="#9f2a63"/><stop offset="0.4" stop-color="#ac2f5d"/><stop offset="0.53" stop-color="#b53458"/><stop offset="0.97" stop-color="#ba3655"/><stop offset="1" stop-color="#ba3655"/></linearGradient>
<linearGradient id="e25"><stop offset="0" stop-color="#000004"/><stop offset="0.2" stop-color="#010107"/><stop offset="0.22" stop-color="#030210"/><stop offset="0.23" stop-color="#08051d"/><stop offset="0.24" stop-color="#140a35"/><stop offset="0.26" stop-color="#290b53"/><stop offset="0.27" stop-color="#370a60"/><stop offset="0.28" stop-color="#520e6c"/><stop offset="0.3" stop-color="#771c6d"/><stop offset="0.31" stop-color="#8a226a"/><stop offset="0.33" stop-color="#9c2964"/><stop offset="0.36" stop-color="#a72d5f"/><stop offset="0.45" stop-color="#b3325a"/><stop offset="0.69" stop-color="#b93556"/><stop offset="1" stop-color="#ba3655"/></linearGradient>
<linearGradient id="e26"><stop offset="0" stop-color="#000004"/><stop offset="0.18" stop-color="#010107"/><stop offset="0.2" stop-color="#02010b"/><stop offset="0.21" stop-color="#040314"/><stop offset="0.22" stop-color="#0d0828"/><stop offset="0.24" stop-color="#1e0c45"/><stop offset="0.24" stop-color="#2b0b56"/><stop offset="0.26" stop-color="#480b69"/><stop offset="0.27" stop-color="#63146e"/><stop offset="0.29" stop-color="#84206b"/><stop offset="0.31" stop-color="#982765"/><stop offset="0.34" stop-color="#a62d60"/><stop offset="0.4" stop-color="#b0315b"/><stop offset="0.56" stop-color="#b83556"/><stop offset="1" stop-color="#ba3655"/></linearGradient>
<linearGradient id="e27"><stop offset="0" stop-color="#000004"/><stop offset="0.17" stop-color="#010106"/><stop offset="0.19" stop-color="#02020e"/><stop offset="0.2" stop-color="#040312"/><stop offset="0.21" stop-color="#0b0724"/><stop offset="0.22" stop-color="#1d0c44"/><stop offset="0.24" stop-color="#390a62"/><stop offset="0.24" stop-color="#490c6a"/><stop offset="0.26" stop-color="#65156e"/><stop offset="0.28" stop-color="#87216b"/><stop offset="0.3" stop-color="#9b2865"/><stop offset="0.33" stop-color="#a82e5f"/><stop offset="0.4" stop-color="#b33359"/><stop offset="0.64" stop-color="#ba3655"/><stop offset="1" stop-color="#bc3754"/></linearGradient>
<linearGradient id="e28"><stop offset="0" stop-color="#000004"/><stop offset="0.16" stop-color="#010107"/><stop offset="0.18" stop-color="#030311"/><stop offset="0.2" stop-color="#090621"/><stop offset="0.21" stop-color="#190c3e"/><stop offset="0.22" stop-color="#360a60"/><stop offset="0.23" stop-color="#460b69"/><stop offset="0.24" stop-color="#65156e"/><stop offset="0.26" stop-color="#7e1e6c"/><stop offset="0.28" stop-color="#982765"/><stop offset="0.31" stop-color="#a82e5f"/><stop offset="0.38" stop-color="#b33359"/><stop offset="0.56" stop-color="#ba3655"/><stop offset="1" stop-color="#bc3754"/></linearGradient>
<linearGradient id="e29"><stop offset="0" stop-color="#000004"/><stop offset="0.15" stop-color="#010107"/><stop offset="0.17" stop-color="#030311"/><stop offset="0.18" stop-color="#090621"/><stop offset="0.2" stop-color="#190b3d"/><stop offset="0.21" stop-color="#330a5d"/><stop offset="0.22" stop-color="#430a67"/><stop offset="0.23" stop-color="#62146e"/><stop offset="0.25" stop-color="#88226a"/><stop offset="0.27" stop-color="#9a2865"/><stop offset="0.29" stop-color="#a62d60"/><stop offset="0.33" stop-color="#b1325a"/><stop offset="0.44" stop-color="#b93656"/><stop offset="1" stop-color="#bc3754"/></linearGradient>
<linearGradient id="e30"><stop offset="0" stop-color="#000004"/><stop offset="0.13" stop-color="#010106"/><stop offset="0.15" stop-color="#02020d"/><stop offset="0.16" stop-color="#060419"/><stop offset="0.18" stop-color="#110a30"/><stop offset="0.19" stop-color="#250b4f"/><stop offset="0.2" stop-color="#330a5d"/><stop offset="0.2" stop-color="#430b68"/><stop offset="0.22" stop-color="#61146e"/><stop offset="0.24" stop-color="#88226a"/><stop offset="0.25" stop-color="#9a2865"/><stop offset="0.27" stop-color="#a92e5f"/><stop offset="0.31" stop-color="#b33359"/><stop offset="0.43" stop-color="#bb3755"/><stop offset="1" stop-color="#bc3754"/></linearGradient>
<linearGradient id="e31"><stop offset="0" stop-color="#000004"/><stop offset="0.11" stop-color="#010005"/><stop offset="0.13" stop-color="#02020c"/><stop offset="0.15" stop-color="#060419"/><stop offset="0.16" stop-color="#110a30"/><stop offset="0.17" stop-color="#1a0c3f"/><stop offset="0.18" stop-color="#280b52"/><stop offset="0.18" stop-color="#370a60"/><stop offset="0.19" stop-color="#470b69"/><stop offset="0.2" stop-color="#64156e"/><stop offset="0.22" stop-color="#8a226a"/><stop offset="0.24" stop-color="#a12b62"/><stop offset="0.27" stop-color="#b0315b"/><stop offset="0.34" stop-color="#b93656"/><stop offset="0.56" stop-color="#be3853"/><stop offset="1" stop-color="#bc3754"/></linearGradient>
<linearGradient id="e32"><stop offset="0" stop-color="#000004"/><stop offset="0.11" stop-color="#010106"/><stop offset="0.12" stop-color="#02010b"/><stop offset="0.14" stop-color="#090620"/><stop offset="0.16" stop-color="#1a0c3f"/><stop offset="0.16" stop-color="#280b52"/><stop offset="0.17" stop-color="#370a60"/><stop offset="0.18" stop-color="#480b69"/><stop offset="0.19" stop-color="#66166e"/><stop offset="0.21" stop-color="#8c2369"/><stop offset="0.23" stop-color="#a32c61"/><stop offset="0.26" stop-color="#b1325a"/><stop offset="0.31" stop-color="#bb3755"/><stop offset="0.52" stop-color="#bf3952"/><stop offset="1" stop-color="#bc3754"/></linearGradient>
<linearGradient id="e33"><stop offset="0" stop-color="#000004"/><stop offset="0.09" stop-color="#010005"/><stop offset="0.11" stop-color="#02020d"/><stop offset="0.13" stop-color="#07051c"/><stop offset="0.13" stop-color="#0d0829"/><stop offset="0.15" stop-color="#240c4d"/><stop offset="0.16" stop-color="#320a5d"/><stop offset="0.16" stop-color="#440b68"/><stop offset="0.18" stop-color="#66166e"/><stop offset="0.2" stop-color="#8e2469"/><stop offset="0.22" stop-color="#a62d60"/><stop offset="0.24" stop-color="#b43359"/><stop offset="0.31" stop-color="#be3853"/><stop offset="0.53" stop-color="#c03a51"/><stop offset="1" stop-color="#bc3754"/></linearGradient>
<linearGradient id="e34"><stop offset="0" stop-color="#000004"/><stop offset="0.09" stop-color="#010005"/><stop offset="0.1" stop-color="#02010b"/><stop offset="0.11" stop-color="#050418"/><stop offset="0.13" stop-color="#120a31"/><stop offset="0.14" stop-color="#2b0b56"/><stop offset="0.15" stop-color="#3e0a65"/><stop offset="0.16" stop-color="#500e6c"/><stop offset="0.17" stop-color="#721a6e"/><stop offset="0.18" stop-color="#8e2469"/><stop offset="0.2" stop-color="#a82e5f"/><stop offset="0.23" stop-color="#b63458"/><stop offset="0.29" stop-color="#bf3952"/><stop offset="0.47" stop-color="#c23b50"/><stop offset="1" stop-color="#bc3754"/></linearGradient>
<linearGradient id="e35"><stop offset="0" stop-color="#000004"/><stop offset="0.08" stop-color="#010106"/><stop offset="0.09" stop-color="#02020c"/><stop offset="0.11" stop-color="#07051b"/><stop offset="0.11" stop-color="#0d0828"/><stop offset="0.12" stop-color="#160b39"/><stop offset="0.13" stop-color="#360a60"/><stop offset="0.14" stop-color="#480b6a"/><stop offset="0.16" stop-color="#6d186e"/><stop offset="0.17" stop-color="#8b236a"/><stop offset="0.18" stop-color="#a12b62"/><stop offset="0.2" stop-color="#af315c"/><stop offset="0.22" stop-color="#ba3655"/><stop offset="0.29" stop-color="#c23b50"/><stop offset="0.51" stop-color="#c33b4f"/><stop offset="1" stop-color="#bc3754"/></linearGradient>
<linearGradient id="e36"><stop offset="0" stop-color="#000004"/><stop offset="0.07" stop-color="#010106"/><stop offset="0.09" stop-color="#02020e"/><stop offset="0.09" stop-color="#040314"/><stop offset="0.1" stop-color="#090620"/><stop offset="0.11" stop-color="#1b0c41"/><stop offset="0.12" stop-color="#2c0b57"/><stop offset="0.13" stop-color="#3e0a65"/><stop offset="0.13" stop-color="#520e6c"/><stop offset="0.15" stop-color="#761b6d"/><stop offset="0.16" stop-color="#932667"/><stop offset="0.18" stop-color="#a82e5f"/><stop offset="0.2" stop-color="#b83556"/><stop offset="0.24" stop-color="#c23b50"/><stop offset="0.36" stop-color="#c63e4d"/><stop offset="1" stop-color="#bc3754"/></linearGradient>
<linearGradient id="e37"><stop offset="0" stop-color="#000004"/><stop offset="0.07" stop-color="#010106"/><stop offset="0.08" stop-color="#02020e"/><stop offset="0.09" stop-color="#0a0722"/><stop offset="0.11" stop-color="#1f0c48"/><stop offset="0.11" stop-color="#310a5c"/><stop offset="0.12" stop-color="#450b69"/><stop offset="0.13" stop-color="#59116d"/><stop offset="0.14" stop-color="#7f1e6c"/><stop offset="0.16" stop-color="#9b2964"/><stop offset="0.17" stop-color="#af315c"/><stop offset="0.19" stop-color="#bc3754"/><stop offset="0.24" stop-color="#c63d4d"/><stop offset="0.36" stop-color="#c83f4b"/><stop offset="0.97" stop-color="#bd3853"/><stop offset="1" stop-color="#bc3754"/></linearGradient>
<linearGradient id="e38"><stop offset="0" stop-color="#000004"/><stop offset="0.05" stop-color="#010005"/><stop offset="0.07" stop-color="#02010a"/><stop offset="0.08" stop-color="#050418"/><stop offset="0.09" stop-color="#0b0725"/><stop offset="0.1" stop-color="#230c4c"/><stop offset="0.11" stop-color="#370a61"/><stop offset="0.11" stop-color="#4b0c6b"/><stop offset="0.13" stop-color="#741a6e"/><stop offset="0.14" stop-color="#962766"/><stop offset="0.16" stop-color="#ad305c"/><stop offset="0.18" stop-color="#be3853"/><stop offset="0.22" stop-color="#c83f4c"/><stop offset="0.34" stop-color="#ca404a"/><stop offset="0.96" stop-color="#bd3853"/><stop offset="1" stop-color="#bc3754"/></linearGradient>
<linearGradient id="e39"><stop offset="0" stop-color="#000004"/><stop offset="0.05" stop-color="#010107"/><stop offset="0.07" stop-color="#030210"/><stop offset="0.07" stop-color="#06051a"/><stop offset="0.09" stop-color="#170b3b"/><stop offset="0.09" stop-color="#280b53"/><stop offset="0.1" stop-color="#3c0a64"/><stop offset="0.11" stop-color="#510e6c"/><stop offset="0.12" stop-color="#781c6d"/><stop offset="0.13" stop-color="#8c2369"/><stop offset="0.14" stop-color="#a82e5f"/><stop offset="0.16" stop-color="#b93656"/><stop offset="0.18" stop-color="#c73e4c"/><stop offset="0.25" stop-color="#cd4248"/><stop offset="0.49" stop-color="#c83f4c"/><stop offset="0.98" stop-color="#bd3853"/><stop offset="1" stop-color="#bd3853"/></linearGradient>
<linearGradient id="e40"><stop offset="0" stop-color="#000004"/><stop offset="0.04" stop-color="#010107"/><stop offset="0.06" stop-color="#040312"/><stop offset="0.07" stop-color="#07051c"/><stop offset="0.07" stop-color="#0e092b"/><stop offset="0.08" stop-color="#1b0c41"/><stop offset="0.09" stop-color="#2b0b57"/><stop offset="0.09" stop-color="#410a67"/><stop offset="0.1" stop-color="#550f6d"/><stop offset="0.11" stop-color="#7f1e6c"/><stop offset="0.13" stop-color="#a12b62"/><stop offset="0.14" stop-color="#b73557"/><stop offset="0.16" stop-color="#c43c4f"/><stop offset="0.2" stop-color="#ce4347"/><stop offset="0.36" stop-color="#ce4347"/><stop offset="0.82" stop-color="#c03a51"/><stop offset="1" stop-color="#bd3853"/></linearGradient>
<linearGradient id="e41"><stop offset="0" stop-color="#000004"/><stop offset="0.04" stop-color="#010107"/><stop offset="0.05" stop-color="#040312"/><stop offset="0.06" stop-color="#08051d"/><stop offset="0.07" stop-color="#10092d"/><stop offset="0.07" stop-color="#1c0c43"/><stop offset="0.08" stop-color="#2f0a5a"/><stop offset="0.09" stop-color="#440b68"/><stop offset="0.09" stop-color="#5a116e"/><stop offset="0.11" stop-color="#84206b"/><stop offset="0.11" stop-color="#972766"/><stop offset="0.13" stop-color="#b33359"/><stop offset="0.14" stop-color="#c33b4f"/><stop offset="0.16" stop-color="#cc4248"/><stop offset="0.23" stop-color="#d34743"/><stop offset="0.84" stop-color="#c03a51"/><stop offset="1" stop-color="#bd3853"/></linearGradient>
<linearGradient id="e42"><stop offset="0" stop-color="#000004"/><stop offset="0.03" stop-color="#010107"/><stop offset="0.04" stop-color="#040312"/><stop offset="0.05" stop-color="#07051c"/><stop offset="0.06" stop-color="#10092d"/><stop offset="0.07" stop-color="#1d0c44"/><stop offset="0.07" stop-color="#2f0a5a"/><stop offset="0.08" stop-color="#460b69"/><stop offset="0.09" stop-color="#5d126e"/><stop offset="0.1" stop-color="#89226a"/><stop offset="0.11" stop-color="#ab2f5d"/><stop offset="0.13" stop-color="#c13a51"/><stop offset="0.15" stop-color="#ce4347"/><stop offset="0.2" stop-color="#d54a41"/><stop offset="0.35" stop-color="#d24644"/><stop offset="0.78" stop-color="#c13a50"/><stop offset="1" stop-color="#bd3853"/></linearGradient>
<linearGradient id="e43"><stop offset="0" stop-color="#000004"/><stop offset="0.02" stop-color="#010106"/><stop offset="0.04" stop-color="#030210"/><stop offset="0.04" stop-color="#07051b"/><stop offset="0.05" stop-color="#0e092b"/><stop offset="0.06" stop-color="#1b0c41"/><stop offset="0.07" stop-color="#2e0a59"/><stop offset="0.07" stop-color="#440b68"/><stop offset="0.08" stop-color="#5d126e"/><stop offset="0.09" stop-color="#8a226a"/><stop offset="0.1" stop-color="#9f2a63"/><stop offset="0.11" stop-color="#bb3755"/><stop offset="0.13" stop-color="#ca404a"/><stop offset="0.16" stop-color="#d54a41"/><stop offset="0.25" stop-color="#d94c3e"/><stop offset="0.66" stop-color="#c63d4d"/><stop offset="1" stop-color="#bd3853"/></linearGradient>
<linearGradient id="e44"><stop offset="0" stop-color="#000004"/><stop offset="0.02" stop-color="#010109"/><stop offset="0.04" stop-color="#060419"/><stop offset="0.04" stop-color="#0d0827"/><stop offset="0.05" stop-color="#190c3e"/><stop offset="0.06" stop-color="#2b0b57"/><stop offset="0.07" stop-color="#430a68"/><stop offset="0.07" stop-color="#59116e"/><stop offset="0.09" stop-color="#89226a"/><stop offset="0.09" stop-color="#9f2a63"/><stop offset="0.11" stop-color="#bd3853"/><stop offset="0.12" stop-color="#cd4248"/><stop offset="0.14" stop-color="#d84c3e"/><stop offset="0.22" stop-color="#db503b"/><stop offset="0.63" stop-color="#c73e4c"/><stop offset="1" stop-color="#bd3853"/></linearGradient>
<linearGradient id="e45"><stop offset="0" stop-color="#000004"/><stop offset="0.02" stop-color="#02020d"/><stop offset="0.03" stop-color="#050417"/><stop offset="0.04" stop-color="#0b0725"/><stop offset="0.04" stop-color="#160b39"/><stop offset="0.05" stop-color="#290b54"/><stop offset="0.06" stop-color="#400a67"/><stop offset="0.07" stop-color="#58106d"/><stop offset="0.07" stop-color="#71196e"/><stop offset="0.09" stop-color="#9f2a63"/><stop offset="0.09" stop-color="#b1325a"/><stop offset="0.1" stop-color="#bf3952"/><stop offset="0.11" stop-color="#d04545"/><stop offset="0.13" stop-color="#da4e3c"/><stop offset="0.18" stop-color="#de5338"/><stop offset="0.36" stop-color="#d54a41"/><stop offset="0.72" stop-color="#c43c4e"/><stop offset="1" stop-color="#bd3853"/></linearGradient>
<linearGradient id="e46"><stop offset="0" stop-color="#000004"/><stop offset="0.02" stop-color="#02010b"/><stop offset="0.03" stop-color="#0a0722"/><stop offset="0.04" stop-color="#140b35"/><stop offset="0.04" stop-color="#240c4f"/><stop offset="0.05" stop-color="#3c0964"/><stop offset="0.06" stop-color="#540f6d"/><stop offset="0.07" stop-color="#6e186e"/><stop offset="0.08" stop-color="#9e2a63"/><stop offset="0.09" stop-color="#c13a51"/><stop offset="0.11" stop-color="#d34743"/><stop offset="0.13" stop-color="#de5238"/><stop offset="0.19" stop-color="#e15734"/><stop offset="0.54" stop-color="#cc4248"/><stop offset="0.95" stop-color="#bf3952"/><stop offset="1" stop-color="#bd3853"/></linearGradient>
<linearGradient id="e47"><stop offset="0" stop-color="#000004"/><stop offset="0.01" stop-color="#010108"/><stop offset="0.02" stop-color="#08051d"/><stop offset="0.03" stop-color="#100a2f"/><stop offset="0.04" stop-color="#1f0c48"/><stop offset="0.04" stop-color="#350a60"/><stop offset="0.05" stop-color="#4f0d6c"/><stop offset="0.06" stop-color="#68166e"/><stop offset="0.07" stop-color="#82206c"/><stop offset="0.07" stop-color="#9b2964"/><stop offset="0.08" stop-color="#b0315b"/><stop offset="0.09" stop-color="#cd4348"/><stop offset="0.11" stop-color="#db4f3b"/><stop offset="0.13" stop-color="#e35933"/><stop offset="0.22" stop-color="#e35833"/><stop offset="0.5" stop-color="#cf4446"/><stop offset="0.9" stop-color="#c03a51"/><stop offset="1" stop-color="#bd3853"/></linearGradient>
<linearGradient id="e48"><stop offset="0" stop-color="#010005"/><stop offset="0.01" stop-color="#02010b"/><stop offset="0.02" stop-color="#0d0827"/><stop offset="0.03" stop-color="#190c3e"/><stop offset="0.04" stop-color="#2e0a59"/><stop offset="0.04" stop-color="#470b69"/><stop offset="0.05" stop-color="#62146e"/><stop offset="0.06" stop-color="#7c1d6d"/><stop offset="0.07" stop-color="#972766"/><stop offset="0.07" stop-color="#ad305c"/><stop offset="0.09" stop-color="#ce4347"/><stop offset="0.1" stop-color="#dd5139"/><stop offset="0.12" stop-color="#e55c30"/><stop offset="0.17" stop-color="#e65e2e"/><stop offset="0.5" stop-color="#d04545"/><stop offset="0.86" stop-color="#c13a50"/><stop offset="1" stop-color="#bd3853"/></linearGradient>
<linearGradient id="e49"><stop offset="0" stop-color="#010005"/><stop offset="0.01" stop-color="#030311"/><stop offset="0.02" stop-color="#0a0723"/><stop offset="0.02" stop-color="#160b39"/><stop offset="0.03" stop-color="#290b54"/><stop offset="0.04" stop-color="#400a67"/><stop offset="0.04" stop-color="#5a116e"/><stop offset="0.05" stop-color="#761b6d"/><stop offset="0.06" stop-color="#902568"/><stop offset="0.07" stop-color="#a92e5e"/><stop offset="0.07" stop-color="#be3853"/><stop offset="0.09" stop-color="#d84c3e"/><stop offset="0.1" stop-color="#e45932"/><stop offset="0.12" stop-color="#e9612b"/><stop offset="0.19" stop-color="#e8612c"/><stop offset="0.45" stop-color="#d44842"/><stop offset="0.81" stop-color="#c33b4f"/><stop offset="1" stop-color="#bd3853"/></linearGradient>
<linearGradient id="e50"><stop offset="0" stop-color="#010107"/><stop offset="0.01" stop-color="#06051a"/><stop offset="0.02" stop-color="#140b35"/><stop offset="0.02" stop-color="#240c4d"/><stop offset="0.03" stop-color="#3b0a64"/><stop offset="0.04" stop-color="#550f6d"/><stop offset="0.04" stop-color="#70196e"/><stop offset="0.05" stop-color="#8b236a"/><stop offset="0.06" stop-color="#a52c60"/><stop offset="0.07" stop-color="#cc4249"/><stop offset="0.08" stop-color="#d84c3e"/><stop offset="0.09" stop-color="#e55b31"/><stop offset="0.11" stop-color="#eb6528"/><stop offset="0.16" stop-color="#ec6727"/><stop offset="0.42" stop-color="#d84c3e"/><stop offset="0.72" stop-color="#c73e4c"/><stop offset="1" stop-color="#bf3952"/></linearGradient>
<linearGradient id="e51"><stop offset="0" stop-color="#010109"/><stop offset="0.01" stop-color="#0c0826"/><stop offset="0.02" stop-color="#200c49"/><stop offset="0.02" stop-color="#380a61"/><stop offset="0.03" stop-color="#500d6c"/><stop offset="0.04" stop-color="#6c186e"/><stop offset="0.04" stop-color="#87216a"/><stop offset="0.05" stop-color="#a22b61"/><stop offset="0.06" stop-color="#b93656"/><stop offset="0.07" stop-color="#cb4149"/><stop offset="0.07" stop-color="#d84d3e"/><stop offset="0.09" stop-color="#e65e2e"/><stop offset="0.1" stop-color="#ec6726"/><stop offset="0.13" stop-color="#ef6c23"/><stop offset="0.26" stop-color="#e65e2e"/><stop offset="0.44" stop-color="#d74b3f"/><stop offset="0.76" stop-color="#c63d4d"/><stop offset="1" stop-color="#bf3952"/></linearGradient>
<linearGradient id="e52"><stop offset="0" stop-color="#03020f"/><stop offset="0.01" stop-color="#160b38"/><stop offset="0.02" stop-color="#320a5d"/><stop offset="0.02" stop-color="#4d0c6b"/><stop offset="0.03" stop-color="#66166e"/><stop offset="0.04" stop-color="#83206b"/><stop offset="0.04" stop-color="#9e2a63"/><stop offset="0.05" stop-color="#b73557"/><stop offset="0.06" stop-color="#cb4149"/><stop offset="0.07" stop-color="#e25833"/><stop offset="0.09" stop-color="#ec6727"/><stop offset="0.11" stop-color="#f06f20"/><stop offset="0.15" stop-color="#f0701f"/><stop offset="0.38" stop-color="#dd513a"/><stop offset="0.65" stop-color="#cb4149"/><stop offset="1" stop-color="#bf3952"/></linearGradient>
<linearGradient id="e53"><stop offset="0" stop-color="#050417"/><stop offset="0.01" stop-color="#260b51"/><stop offset="0.02" stop-color="#4b0c6b"/><stop offset="0.02" stop-color="#64156e"/><stop offset="0.03" stop-color="#7e1e6c"/><stop offset="0.04" stop-color="#b33359"/><stop offset="0.05" stop-color="#ca404a"/><stop offset="0.06" stop-color="#d94d3d"/><stop offset="0.07" stop-color="#ea6429"/><stop offset="0.09" stop-color="#f0701f"/><stop offset="0.11" stop-color="#f3761b"/><stop offset="0.18" stop-color="#f0701f"/><stop offset="0.35" stop-color="#e15635"/><stop offset="0.56" stop-color="#d04545"/><stop offset="0.94" stop-color="#c03a51"/><stop offset="1" stop-color="#bf3952"/></linearGradient>
<linearGradient id="e54"><stop offset="0" stop-color="#0a0723"/><stop offset="0.01" stop-color="#400a66"/><stop offset="0.02" stop-color="#69166e"/><stop offset="0.02" stop-color="#801f6c"/><stop offset="0.03" stop-color="#992865"/><stop offset="0.04" stop-color="#b33359"/><stop offset="0.04" stop-color="#c83f4c"/><stop offset="0.05" stop-color="#d84d3e"/><stop offset="0.06" stop-color="#e45a31"/><stop offset="0.07" stop-color="#f06e21"/><stop offset="0.09" stop-color="#f47918"/><stop offset="0.13" stop-color="#f57b17"/><stop offset="0.35" stop-color="#e25734"/><stop offset="0.56" stop-color="#d24644"/><stop offset="0.91" stop-color="#c13a50"/><stop offset="1" stop-color="#bf3952"/></linearGradient>
<linearGradient id="e55"><stop offset="0" stop-color="#120a31"/><stop offset="0.01" stop-color="#5b116e"/><stop offset="0.02" stop-color="#88226a"/><stop offset="0.03" stop-color="#b53458"/><stop offset="0.04" stop-color="#c9404b"/><stop offset="0.04" stop-color="#d94d3d"/><stop offset="0.06" stop-color="#ec6726"/><stop offset="0.07" stop-color="#f47819"/><stop offset="0.09" stop-color="#f68013"/><stop offset="0.12" stop-color="#f68013"/><stop offset="0.18" stop-color="#f2751b"/><stop offset="0.34" stop-color="#e45932"/><stop offset="0.57" stop-color="#d24644"/><stop offset="0.91" stop-color="#c13a50"/><stop offset="1" stop-color="#bf3952"/></linearGradient>
<linearGradient id="e56"><stop offset="0" stop-color="#1b0c42"/><stop offset="0.01" stop-color="#751b6d"/><stop offset="0.02" stop-color="#a82e5f"/><stop offset="0.03" stop-color="#cc4249"/><stop offset="0.04" stop-color="#db4f3b"/><stop offset="0.05" stop-color="#ed6925"/><stop offset="0.07" stop-color="#f57c16"/><stop offset="0.09" stop-color="#f8870e"/><stop offset="0.14" stop-color="#f78212"/><stop offset="0.3" stop-color="#e9612b"/><stop offset="0.47" stop-color="#d94d3d"/><stop offset="0.78" stop-color="#c73e4c"/><stop offset="1" stop-color="#bf3952"/></linearGradient>
<linearGradient id="e57"><stop offset="0" stop-color="#240c4f"/><stop offset="0.01" stop-color="#8e2469"/><stop offset="0.02" stop-color="#c13b50"/><stop offset="0.03" stop-color="#dc513a"/><stop offset="0.04" stop-color="#ee6b24"/><stop offset="0.06" stop-color="#f67f14"/><stop offset="0.07" stop-color="#f8890c"/><stop offset="0.1" stop-color="#f98d09"/><stop offset="0.16" stop-color="#f68112"/><stop offset="0.3" stop-color="#ea632a"/><stop offset="0.46" stop-color="#db503b"/><stop offset="0.7" stop-color="#cb4149"/><stop offset="1" stop-color="#bf3952"/></linearGradient>
<linearGradient id="e58"><stop offset="0" stop-color="#2e0a5a"/><stop offset="0.01" stop-color="#a22b61"/><stop offset="0.02" stop-color="#d64a40"/><stop offset="0.03" stop-color="#e9612b"/><stop offset="0.04" stop-color="#f47918"/><stop offset="0.07" stop-color="#f98d0a"/><stop offset="0.09" stop-color="#fa9407"/><stop offset="0.14" stop-color="#f98b0b"/><stop offset="0.29" stop-color="#eb6628"/><stop offset="0.46" stop-color="#dc503a"/><stop offset="0.71" stop-color="#cb4149"/><stop offset="1" stop-color="#bf3952"/></linearGradient>
<linearGradient id="e59"><stop offset="0" stop-color="#360960"/><stop offset="0.01" stop-color="#b63458"/><stop offset="0.02" stop-color="#e55c30"/><stop offset="0.04" stop-color="#f57d15"/><stop offset="0.05" stop-color="#f98d0a"/><stop offset="0.07" stop-color="#fb9906"/><stop offset="0.11" stop-color="#fb9706"/><stop offset="0.18" stop-color="#f78410"/><stop offset="0.29" stop-color="#ed6925"/><stop offset="0.43" stop-color="#df5437"/><stop offset="0.67" stop-color="#ce4347"/><stop offset="1" stop-color="#bf3952"/></linearGradient>
<linearGradient id="e60"><stop offset="0" stop-color="#3e0966"/><stop offset="0.01" stop-color="#c63d4d"/><stop offset="0.02" stop-color="#f06f20"/><stop offset="0.04" stop-color="#f98c0a"/><stop offset="0.05" stop-color="#fb9906"/><stop offset="0.07" stop-color="#fca008"/><stop offset="0.1" stop-color="#fc9f07"/><stop offset="0.16" stop-color="#fa8f08"/><stop offset="0.26" stop-color="#f1711f"/><stop offset="0.4" stop-color="#e35933"/><stop offset="0.63" stop-color="#d04545"/><stop offset="1" stop-color="#bf3952"/></linearGradient>
<linearGradient id="e61"><stop offset="0" stop-color="#450a69"/><stop offset="0.01" stop-color="#d24743"/><stop offset="0.02" stop-color="#f78311"/><stop offset="0.03" stop-color="#fa9307"/><stop offset="0.05" stop-color="#fca40a"/><stop offset="0.07" stop-color="#fca80d"/><stop offset="0.11" stop-color="#fca108"/><stop offset="0.16" stop-color="#fa9108"/><stop offset="0.24" stop-color="#f47819"/><stop offset="0.36" stop-color="#e8602d"/><stop offset="0.53" stop-color="#d84c3e"/><stop offset="0.84" stop-color="#c63d4d"/><stop offset="1" stop-color="#bf3952"/></linearGradient>
<linearGradient id="e62"><stop offset="0" stop-color="#4b0c6b"/><stop offset="0.01" stop-color="#dd5139"/><stop offset="0.02" stop-color="#fa9507"/><stop offset="0.04" stop-color="#fca60b"/><stop offset="0.06" stop-color="#fcb014"/><stop offset="0.1" stop-color="#fcaa0f"/><stop offset="0.15" stop-color="#fb9806"/><stop offset="0.2" stop-color="#f8880d"/><stop offset="0.29" stop-color="#ef6d22"/><stop offset="0.44" stop-color="#e15635"/><stop offset="0.65" stop-color="#d04545"/><stop offset="0.99" stop-color="#c03a51"/><stop offset="1" stop-color="#c03a51"/></linearGradient>
<linearGradient id="e63"><stop offset="0" stop-color="#500d6c"/><stop offset="0.01" stop-color="#e65c30"/><stop offset="0.02" stop-color="#fca50b"/><stop offset="0.04" stop-color="#fcb418"/><stop offset="0.07" stop-color="#fbb81d"/><stop offset="0.11" stop-color="#fcaa0f"/><stop offset="0.15" stop-color="#fb9c06"/><stop offset="0.19" stop-color="#f98d09"/><stop offset="0.27" stop-color="#f2741c"/><stop offset="0.4" stop-color="#e65c30"/><stop offset="0.57" stop-color="#d74b3f"/><stop offset="0.88" stop-color="#c43c4e"/><stop offset="1" stop-color="#c03a51"/></linearGradient>
<linearGradient id="e64"><stop offset="0" stop-color="#550f6d"/><stop offset="0.01" stop-color="#ec6727"/><stop offset="0.02" stop-color="#fcb419"/><stop offset="0.04" stop-color="#fbbe23"/><stop offset="0.07" stop-color="#fbbe23"/><stop offset="0.14" stop-color="#fca40a"/><stop offset="0.18" stop-color="#fb9506"/><stop offset="0.28" stop-color="#f2741c"/><stop offset="0.4" stop-color="#e65e2e"/><stop offset="0.58" stop-color="#d74b3f"/><stop offset="0.89" stop-color="#c43c4e"/><stop offset="1" stop-color="#c03a51"/></linearGradient>
<linearGradient id="e65"><stop offset="0" stop-color="#59116e"/><stop offset="0.01" stop-color="#f1721e"/><stop offset="0.02" stop-color="#fac329"/><stop offset="0.05" stop-color="#f9c62e"/><stop offset="0.08" stop-color="#fac228"/><stop offset="0.15" stop-color="#fca40a"/><stop offset="0.18" stop-color="#fb9606"/><stop offset="0.27" stop-color="#f47918"/><stop offset="0.38" stop-color="#e8612c"/><stop offset="0.56" stop-color="#d94d3d"/><stop offset="0.81" stop-color="#c83f4b"/><stop offset="1" stop-color="#c03a51"/></linearGradient>
<linearGradient id="e66"><stop offset="0" stop-color="#5d126e"/><stop offset="0.01" stop-color="#f47a17"/><stop offset="0.02" stop-color="#f8ce39"/><stop offset="0.04" stop-color="#f8ce39"/><stop offset="0.09" stop-color="#fac52c"/><stop offset="0.14" stop-color="#fcaa0f"/><stop offset="0.18" stop-color="#fb9a06"/><stop offset="0.22" stop-color="#f8880d"/><stop offset="0.32" stop-color="#ef6e21"/><stop offset="0.43" stop-color="#e45a31"/><stop offset="0.62" stop-color="#d44842"/><stop offset="0.93" stop-color="#c33b4f"/><stop offset="1" stop-color="#c03a51"/></linearGradient>
<rect x="260.1" y="218.5" width="144.2" height="3.1" fill="url(#e0)"/>
<rect x="260.1" y="220.5" width="144.2" height="3.1" fill="url(#e1)"/>
<rect x="260.1" y="222.5" width="144.2" height="3.1" fill="url(#e2)"/>
<rect x="260.1" y="224.5" width="144.2" height="3.1" fill="url(#e3)"/>
<rect x="260.1" y="226.5" width="144.2" height="3.1" fill="url(#e4)"/>
<rect x="260.1" y="228.5" width="144.2" height="3.1" fill="url(#e5)"/>
<rect x="260.1" y="230.5" width="144.2" height="3.1" fill="url(#e6)"/>
<rect x="260.1" y="232.5" width="144.2" height="3.1" fill="url(#e7)"/>
<rect x="260.1" y="234.5" width="144.2" height="3.1" fill="url(#e8)"/>
<rect x="260.1" y="236.5" width="144.2" height="3.1" fill="url(#e9)"/>
<rect x="260.1" y="238.5" width="144.2" height="3.1" fill="url(#e10)"/>
<rect x="260.1" y="240.5" width="144.2" height="3.1" fill="url(#e11)"/>
<rect x="260.1" y="242.5" width="144.2" height="3.1" fill="url(#e12)"/>
<rect x="260.1" y="244.5" width="144.2" height="3.1" fill="url(#e13)"/>
<rect x="260.1" y="246.5" width="144.2" height="3.1" fill="url(#e14)"/>
<rect x="260.1" y="248.5" width="144.2" height="3.1" fill="url(#e15)"/>
<rect x="260.1" y="250.5" width="144.2" height="3.1" fill="url(#e16)"/>
<rect x="260.1" y="252.5" width="144.2" height="3.1" fill="url(#e17)"/>
<rect x="260.1" y="254.5" width="144.2" height="3.1" fill="url(#e18)"/>
<rect x="260.1" y="256.5" width="144.2" height="3.1" fill="url(#e19)"/>
<rect x="260.1" y="258.5" width="144.2" height="3.1" fill="url(#e20)"/>
<rect x="260.1" y="260.5" width="144.2" height="3.1" fill="url(#e21)"/>
<rect x="260.1" y="262.5" width="144.2" height="3.1" fill="url(#e22)"/>
<rect x="260.1" y="264.5" width="144.2" height="3.1" fill="url(#e23)"/>
<rect x="260.1" y="266.5" width="144.2" height="3.1" fill="url(#e24)"/>
<rect x="260.1" y="268.5" width="144.2" height="3.1" fill="url(#e25)"/>
<rect x="260.1" y="270.5" width="144.2" height="3.1" fill="url(#e26)"/>
<rect x="260.1" y="272.5" width="144.2" height="3.1" fill="url(#e27)"/>
<rect x="260.1" y="274.5" width="144.2" height="3.1" fill="url(#e28)"/>
<rect x="260.1" y="276.5" width="144.2" height="3.1" fill="url(#e29)"/>
<rect x="260.1" y="278.5" width="144.2" height="3.1" fill="url(#e30)"/>
<rect x="260.1" y="280.5" width="144.2" height="3.1" fill="url(#e31)"/>
<rect x="260.1" y="282.5" width="144.2" height="3.1" fill="url(#e32)"/>
<rect x="260.1" y="284.5" width="144.2" height="3.1" fill="url(#e33)"/>
<rect x="260.1" y="286.5" width="144.2" height="3.1" fill="url(#e34)"/>
<rect x="260.1" y="288.5" width="144.2" height="3.1" fill="url(#e35)"/>
<rect x="260.1" y="290.5" width="144.2" height="3.1" fill="url(#e36)"/>
<rect x="260.1" y="292.5" width="144.2" height="3.1" fill="url(#e37)"/>
<rect x="260.1" y="294.5" width="144.2" height="3.1" fill="url(#e38)"/>
<rect x="260.1" y="296.5" width="144.2" height="3.1" fill="url(#e39)"/>
<rect x="260.1" y="298.5" width="144.2" height="3.1" fill="url(#e40)"/>
<rect x="260.1" y="300.5" width="144.2" height="3.1" fill="url(#e41)"/>
<rect x="260.1" y="302.5" width="144.2" height="3.1" fill="url(#e42)"/>
<rect x="260.1" y="304.5" width="144.2" height="3.1" fill="url(#e43)"/>
<rect x="260.1" y="306.5" width="144.2" height="3.1" fill="url(#e44)"/>
<rect x="260.1" y="308.5" width="144.2" height="3.1" fill="url(#e45)"/>
<rect x="260.1" y="310.5" width="144.2" height="3.1" fill="url(#e46)"/>
<rect x="260.1" y="312.5" width="144.2" height="3.1" fill="url(#e47)"/>
<rect x="260.1" y="314.5" width="144.2" height="3.1" fill="url(#e48)"/>
<rect x="260.1" y="316.5" width="144.2" height="3.1" fill="url(#e49)"/>
<rect x="260.1" y="318.5" width="144.2" height="3.1" fill="url(#e50)"/>
<rect x="260.1" y="320.5" width="144.2" height="3.1" fill="url(#e51)"/>
<rect x="260.1" y="322.5" width="144.2" height="3.1" fill="url(#e52)"/>
<rect x="260.1" y="324.5" width="144.2" height="3.1" fill="url(#e53)"/>
<rect x="260.1" y="326.5" width="144.2" height="3.1" fill="url(#e54)"/>
<rect x="260.1" y="328.5" width="144.2" height="3.1" fill="url(#e55)"/>
<rect x="260.1" y="330.5" width="144.2" height="3.1" fill="url(#e56)"/>
<rect x="260.1" y="332.5" width="144.2" height="3.1" fill="url(#e57)"/>
<rect x="260.1" y="334.5" width="144.2" height="3.1" fill="url(#e58)"/>
<rect x="260.1" y="336.5" width="144.2" height="3.1" fill="url(#e59)"/>
<rect x="260.1" y="338.5" width="144.2" height="3.1" fill="url(#e60)"/>
<rect x="260.1" y="340.5" width="144.2" height="3.1" fill="url(#e61)"/>
<rect x="260.1" y="342.5" width="144.2" height="3.1" fill="url(#e62)"/>
<rect x="260.1" y="344.5" width="144.2" height="3.1" fill="url(#e63)"/>
<rect x="260.1" y="346.5" width="144.2" height="3.1" fill="url(#e64)"/>
<rect x="260.1" y="348.5" width="144.2" height="3.1" fill="url(#e65)"/>
<rect x="260.1" y="350.5" width="144.2" height="3.1" fill="url(#e66)"/>
</g>
<rect x="260.1" y="218.5" width="144.2" height="134" fill="none" stroke="#000" stroke-width="0.45"/>
<path d="M260.1 352.5L260.1 354.3M276.12 352.5L276.12 354.3M292.14 352.5L292.14 354.3M308.17 352.5L308.17 354.3M324.19 352.5L324.19 354.3M340.21 352.5L340.21 354.3M356.23 352.5L356.23 354.3M372.26 352.5L372.26 354.3M388.28 352.5L388.28 354.3M404.3 352.5L404.3 354.3M260.1 342.57L258.3 342.57M260.1 324.85L258.3 324.85M260.1 307.12L258.3 307.12M260.1 289.4L258.3 289.4M260.1 271.68L258.3 271.68M260.1 253.95L258.3 253.95M260.1 236.22L258.3 236.22M260.1 218.5L258.3 218.5M419.6 352.5L421.4 352.5M419.6 340.47L421.4 340.47M419.6 325.43L421.4 325.43M419.6 310.39L421.4 310.39M419.6 295.35L421.4 295.35M419.6 280.31L421.4 280.31M419.6 265.27L421.4 265.27M419.6 250.23L421.4 250.23M419.6 235.19L421.4 235.19M419.6 220.15L421.4 220.15" stroke="#000" stroke-width="0.45" fill="none"/>
<text x="260.1" y="360.2" font-size="4.9" text-anchor="middle">0.0</text>
<text x="276.12" y="360.2" font-size="4.9" text-anchor="middle">0.1</text>
<text x="292.14" y="360.2" font-size="4.9" text-anchor="middle">0.2</text>
<text x="308.17" y="360.2" font-size="4.9" text-anchor="middle">0.3</text>
<text x="324.19" y="360.2" font-size="4.9" text-anchor="middle">0.4</text>
<text x="340.21" y="360.2" font-size="4.9" text-anchor="middle">0.5</text>
<text x="356.23" y="360.2" font-size="4.9" text-anchor="middle">0.6</text>
<text x="372.26" y="360.2" font-size="4.9" text-anchor="middle">0.7</text>
<text x="388.28" y="360.2" font-size="4.9" text-anchor="middle">0.8</text>
<text x="404.3" y="360.2" font-size="4.9" text-anchor="middle">0.9</text>
<text x="256.7" y="344.36" font-size="4.9" text-anchor="end">5</text>
<text x="256.7" y="326.64" font-size="4.9" text-anchor="end">10</text>
<text x="256.7" y="308.91" font-size="4.9" text-anchor="end">15</text>
<text x="256.7" y="291.19" font-size="4.9" text-anchor="end">20</text>
<text x="256.7" y="273.46" font-size="4.9" text-anchor="end">25</text>
<text x="256.7" y="255.74" font-size="4.9" text-anchor="end">30</text>
<text x="256.7" y="238.01" font-size="4.9" text-anchor="end">35</text>
<text x="256.7" y="220.29" font-size="4.9" text-anchor="end">40</text>
<text x="332.2" y="368.1" font-size="5.0" text-anchor="middle">Mutation strength (q)</text>
<text transform="translate(246.9 285.5) rotate(-90)" font-size="5.0" text-anchor="middle">Reward parameter (R)</text>
<linearGradient id="cbe" x1="0" y1="1" x2="0" y2="0"><stop offset="0" stop-color="#000004"/><stop offset="0.04" stop-color="#050417"/><stop offset="0.09" stop-color="#10092d"/><stop offset="0.13" stop-color="#1e0c45"/><stop offset="0.17" stop-color="#2f0a5b"/><stop offset="0.22" stop-color="#400a67"/><stop offset="0.26" stop-color="#510e6c"/><stop offset="0.3" stop-color="#61136e"/><stop offset="0.35" stop-color="#71196e"/><stop offset="0.39" stop-color="#82206c"/><stop offset="0.43" stop-color="#922568"/><stop offset="0.48" stop-color="#a22b62"/><stop offset="0.52" stop-color="#b1325a"/><stop offset="0.57" stop-color="#c03a51"/><stop offset="0.61" stop-color="#ce4347"/><stop offset="0.65" stop-color="#da4e3c"/><stop offset="0.7" stop-color="#e55c30"/><stop offset="0.74" stop-color="#ef6c23"/><stop offset="0.78" stop-color="#f57d15"/><stop offset="0.83" stop-color="#f98e09"/><stop offset="0.87" stop-color="#fca108"/><stop offset="0.91" stop-color="#fcb418"/><stop offset="0.96" stop-color="#f9c72f"/><stop offset="1" stop-color="#f5db4c"/></linearGradient><rect x="413.2" y="218.5" width="6.4" height="134" fill="url(#cbe)" stroke="#000" stroke-width="0.4"/>
<text x="423.1" y="354.29" font-size="4.9">2</text>
<text x="423.1" y="342.26" font-size="4.9">10</text>
<text x="423.1" y="327.22" font-size="4.9">20</text>
<text x="423.1" y="312.18" font-size="4.9">30</text>
<text x="423.1" y="297.14" font-size="4.9">40</text>
<text x="423.1" y="282.1" font-size="4.9">50</text>
<text x="423.1" y="267.06" font-size="4.9">60</text>
<text x="423.1" y="252.02" font-size="4.9">70</text>
<text x="423.1" y="236.98" font-size="4.9">80</text>
<text x="423.1" y="221.94" font-size="4.9">90</text>
<text transform="translate(434.9 285.5) rotate(-90)" font-size="5.0" text-anchor="middle">Average claim</text>
</g>
<g>
<clipPath id="cf"><rect x="489.4" y="218.5" width="144.4" height="134"/></clipPath>
<g clip-path="url(#cf)">
<linearGradient id="f0"><stop offset="0" stop-color="#000004"/><stop offset="0.52" stop-color="#010005"/><stop offset="0.53" stop-color="#02020c"/><stop offset="0.54" stop-color="#030210"/><stop offset="0.56" stop-color="#100a2f"/><stop offset="0.58" stop-color="#2c0b58"/><stop offset="0.6" stop-color="#3e0966"/><stop offset="0.62" stop-color="#4e0d6c"/><stop offset="0.65" stop-color="#5a116e"/><stop offset="0.79" stop-color="#6a176e"/><stop offset="1" stop-color="#741a6e"/></linearGradient>
<linearGradient id="f1"><stop offset="0" stop-color="#000004"/><stop offset="0.51" stop-color="#010005"/><stop offset="0.53" stop-color="#02020e"/><stop offset="0.54" stop-color="#08051d"/><stop offset="0.56" stop-color="#1b0c41"/><stop offset="0.58" stop-color="#2d0b59"/><stop offset="0.59" stop-color="#3e0966"/><stop offset="0.61" stop-color="#4f0d6c"/><stop offset="0.66" stop-color="#5d126e"/><stop offset="0.8" stop-color="#6c186e"/><stop offset="1" stop-color="#741a6e"/></linearGradient>
<linearGradient id="f2"><stop offset="0" stop-color="#000004"/><stop offset="0.5" stop-color="#010005"/><stop offset="0.51" stop-color="#02020c"/><stop offset="0.53" stop-color="#060419"/><stop offset="0.55" stop-color="#170b3b"/><stop offset="0.57" stop-color="#310a5d"/><stop offset="0.58" stop-color="#410a67"/><stop offset="0.61" stop-color="#530e6d"/><stop offset="0.67" stop-color="#60136e"/><stop offset="0.82" stop-color="#6d186e"/><stop offset="1" stop-color="#741a6e"/></linearGradient>
<linearGradient id="f3"><stop offset="0" stop-color="#000004"/><stop offset="0.49" stop-color="#010005"/><stop offset="0.5" stop-color="#010109"/><stop offset="0.52" stop-color="#07051c"/><stop offset="0.53" stop-color="#120a32"/><stop offset="0.56" stop-color="#2b0b57"/><stop offset="0.57" stop-color="#3c0964"/><stop offset="0.59" stop-color="#4d0d6c"/><stop offset="0.62" stop-color="#59116e"/><stop offset="0.74" stop-color="#69166e"/><stop offset="0.97" stop-color="#741a6e"/><stop offset="1" stop-color="#741b6e"/></linearGradient>
<linearGradient id="f4"><stop offset="0" stop-color="#000004"/><stop offset="0.48" stop-color="#010005"/><stop offset="0.49" stop-color="#02020c"/><stop offset="0.5" stop-color="#030210"/><stop offset="0.52" stop-color="#0e092b"/><stop offset="0.54" stop-color="#260c51"/><stop offset="0.56" stop-color="#380962"/><stop offset="0.58" stop-color="#4a0c6b"/><stop offset="0.61" stop-color="#59106e"/><stop offset="0.71" stop-color="#67166e"/><stop offset="0.91" stop-color="#721a6e"/><stop offset="1" stop-color="#751b6e"/></linearGradient>
<linearGradient id="f5"><stop offset="0" stop-color="#000004"/><stop offset="0.47" stop-color="#010005"/><stop offset="0.49" stop-color="#02020e"/><stop offset="0.5" stop-color="#07051c"/><stop offset="0.52" stop-color="#190c3e"/><stop offset="0.53" stop-color="#2a0b56"/><stop offset="0.54" stop-color="#340a5f"/><stop offset="0.56" stop-color="#480b6a"/><stop offset="0.58" stop-color="#530e6d"/><stop offset="0.64" stop-color="#60136e"/><stop offset="0.82" stop-color="#6f196e"/><stop offset="1" stop-color="#751b6e"/></linearGradient>
<linearGradient id="f6"><stop offset="0" stop-color="#000004"/><stop offset="0.46" stop-color="#010005"/><stop offset="0.47" stop-color="#02020c"/><stop offset="0.49" stop-color="#050418"/><stop offset="0.51" stop-color="#160b39"/><stop offset="0.52" stop-color="#280b53"/><stop offset="0.53" stop-color="#380962"/><stop offset="0.55" stop-color="#460b69"/><stop offset="0.58" stop-color="#58106e"/><stop offset="0.69" stop-color="#67166e"/><stop offset="0.9" stop-color="#721a6e"/><stop offset="1" stop-color="#751b6e"/></linearGradient>
<linearGradient id="f7"><stop offset="0" stop-color="#000004"/><stop offset="0.44" stop-color="#010005"/><stop offset="0.47" stop-color="#03020f"/><stop offset="0.48" stop-color="#08061e"/><stop offset="0.5" stop-color="#1c0c42"/><stop offset="0.51" stop-color="#2d0b59"/><stop offset="0.53" stop-color="#3e0965"/><stop offset="0.56" stop-color="#520e6d"/><stop offset="0.62" stop-color="#60136e"/><stop offset="0.78" stop-color="#6d186e"/><stop offset="1" stop-color="#751b6e"/></linearGradient>
<linearGradient id="f8"><stop offset="0" stop-color="#000004"/><stop offset="0.44" stop-color="#010005"/><stop offset="0.46" stop-color="#030311"/><stop offset="0.48" stop-color="#110a30"/><stop offset="0.5" stop-color="#2a0b56"/><stop offset="0.51" stop-color="#3c0964"/><stop offset="0.53" stop-color="#4d0c6b"/><stop offset="0.56" stop-color="#58106e"/><stop offset="0.63" stop-color="#63146e"/><stop offset="0.8" stop-color="#6f196e"/><stop offset="1" stop-color="#751b6e"/></linearGradient>
<linearGradient id="f9"><stop offset="0" stop-color="#000004"/><stop offset="0.42" stop-color="#010005"/><stop offset="0.44" stop-color="#03020f"/><stop offset="0.46" stop-color="#08061e"/><stop offset="0.48" stop-color="#1d0c44"/><stop offset="0.49" stop-color="#310a5c"/><stop offset="0.51" stop-color="#400a67"/><stop offset="0.52" stop-color="#4c0c6b"/><stop offset="0.55" stop-color="#58106e"/><stop offset="0.62" stop-color="#63146e"/><stop offset="0.78" stop-color="#6f196e"/><stop offset="1" stop-color="#751b6e"/></linearGradient>
<linearGradient id="f10"><stop offset="0" stop-color="#000004"/><stop offset="0.42" stop-color="#010005"/><stop offset="0.43" stop-color="#02020c"/><stop offset="0.44" stop-color="#07051b"/><stop offset="0.47" stop-color="#1a0c3f"/><stop offset="0.48" stop-color="#2d0b59"/><stop offset="0.49" stop-color="#3e0a66"/><stop offset="0.51" stop-color="#500d6c"/><stop offset="0.55" stop-color="#5b116e"/><stop offset="0.64" stop-color="#67166e"/><stop offset="0.87" stop-color="#721a6e"/><stop offset="1" stop-color="#751b6e"/></linearGradient>
<linearGradient id="f11"><stop offset="0" stop-color="#000004"/><stop offset="0.4" stop-color="#010005"/><stop offset="0.42" stop-color="#02010b"/><stop offset="0.43" stop-color="#050418"/><stop offset="0.44" stop-color="#10092f"/><stop offset="0.47" stop-color="#2a0b56"/><stop offset="0.47" stop-color="#350a60"/><stop offset="0.49" stop-color="#490b6a"/><stop offset="0.51" stop-color="#550f6d"/><stop offset="0.57" stop-color="#61146e"/><stop offset="0.76" stop-color="#6f196e"/><stop offset="1" stop-color="#751b6e"/></linearGradient>
<linearGradient id="f12"><stop offset="0" stop-color="#000004"/><stop offset="0.4" stop-color="#010005"/><stop offset="0.42" stop-color="#040313"/><stop offset="0.43" stop-color="#0d0829"/><stop offset="0.45" stop-color="#280b53"/><stop offset="0.46" stop-color="#320a5e"/><stop offset="0.47" stop-color="#440a68"/><stop offset="0.5" stop-color="#550f6d"/><stop offset="0.53" stop-color="#5e136e"/><stop offset="0.68" stop-color="#6c186e"/><stop offset="0.96" stop-color="#751b6e"/><stop offset="1" stop-color="#751b6e"/></linearGradient>
<linearGradient id="f13"><stop offset="0" stop-color="#000004"/><stop offset="0.38" stop-color="#010005"/><stop offset="0.4" stop-color="#02020c"/><stop offset="0.41" stop-color="#06051a"/><stop offset="0.42" stop-color="#110a30"/><stop offset="0.44" stop-color="#2e0a59"/><stop offset="0.46" stop-color="#420a68"/><stop offset="0.48" stop-color="#520e6d"/><stop offset="0.51" stop-color="#5e136e"/><stop offset="0.65" stop-color="#6c186e"/><stop offset="0.95" stop-color="#751b6e"/><stop offset="1" stop-color="#751b6e"/></linearGradient>
<linearGradient id="f14"><stop offset="0" stop-color="#000004"/><stop offset="0.37" stop-color="#010005"/><stop offset="0.39" stop-color="#03020f"/><stop offset="0.4" stop-color="#090620"/><stop offset="0.42" stop-color="#160b38"/><stop offset="0.43" stop-color="#2a0b56"/><stop offset="0.44" stop-color="#3e0a66"/><stop offset="0.47" stop-color="#510e6d"/><stop offset="0.49" stop-color="#5d126e"/><stop offset="0.58" stop-color="#68166e"/><stop offset="0.8" stop-color="#721a6e"/><stop offset="1" stop-color="#761b6e"/></linearGradient>
<linearGradient id="f15"><stop offset="0" stop-color="#000004"/><stop offset="0.36" stop-color="#010005"/><stop offset="0.38" stop-color="#02020e"/><stop offset="0.39" stop-color="#08051d"/><stop offset="0.4" stop-color="#140b36"/><stop offset="0.42" stop-color="#280b53"/><stop offset="0.43" stop-color="#3c0964"/><stop offset="0.45" stop-color="#510e6c"/><stop offset="0.48" stop-color="#5d126e"/><stop offset="0.56" stop-color="#69166e"/><stop offset="0.84" stop-color="#741a6e"/><stop offset="1" stop-color="#771c6d"/></linearGradient>
<linearGradient id="f16"><stop offset="0" stop-color="#000004"/><stop offset="0.34" stop-color="#010005"/><stop offset="0.36" stop-color="#02010a"/><stop offset="0.37" stop-color="#050416"/><stop offset="0.38" stop-color="#0d0828"/><stop offset="0.4" stop-color="#260b51"/><stop offset="0.42" stop-color="#3a0963"/><stop offset="0.43" stop-color="#4b0c6b"/><stop offset="0.45" stop-color="#59106e"/><stop offset="0.49" stop-color="#63146e"/><stop offset="0.64" stop-color="#6e186e"/><stop offset="0.94" stop-color="#751b6e"/><stop offset="1" stop-color="#771c6d"/></linearGradient>
<linearGradient id="f17"><stop offset="0" stop-color="#000004"/><stop offset="0.33" stop-color="#010005"/><stop offset="0.34" stop-color="#02010a"/><stop offset="0.36" stop-color="#040315"/><stop offset="0.38" stop-color="#130a33"/><stop offset="0.39" stop-color="#260b51"/><stop offset="0.4" stop-color="#3a0963"/><stop offset="0.42" stop-color="#500d6c"/><stop offset="0.44" stop-color="#5c126e"/><stop offset="0.5" stop-color="#67166e"/><stop offset="0.73" stop-color="#721a6e"/><stop offset="1" stop-color="#771c6d"/></linearGradient>
<linearGradient id="f18"><stop offset="0" stop-color="#000004"/><stop offset="0.31" stop-color="#010005"/><stop offset="0.33" stop-color="#02020d"/><stop offset="0.35" stop-color="#07051b"/><stop offset="0.36" stop-color="#120a31"/><stop offset="0.38" stop-color="#2e0a59"/><stop offset="0.4" stop-color="#410a67"/><stop offset="0.42" stop-color="#550f6d"/><stop offset="0.44" stop-color="#61136e"/><stop offset="0.52" stop-color="#6b176e"/><stop offset="0.85" stop-color="#751b6e"/><stop offset="1" stop-color="#771c6d"/></linearGradient>
<linearGradient id="f19"><stop offset="0" stop-color="#000004"/><stop offset="0.3" stop-color="#010005"/><stop offset="0.32" stop-color="#02020d"/><stop offset="0.33" stop-color="#07051b"/><stop offset="0.36" stop-color="#190c3d"/><stop offset="0.37" stop-color="#2c0b58"/><stop offset="0.38" stop-color="#3f0a66"/><stop offset="0.4" stop-color="#540f6d"/><stop offset="0.43" stop-color="#61136e"/><stop offset="0.5" stop-color="#6b176e"/><stop offset="0.75" stop-color="#741a6e"/><stop offset="1" stop-color="#771c6d"/></linearGradient>
<linearGradient id="f20"><stop offset="0" stop-color="#000004"/><stop offset="0.29" stop-color="#010005"/><stop offset="0.31" stop-color="#02020e"/><stop offset="0.32" stop-color="#07051b"/><stop offset="0.34" stop-color="#190c3d"/><stop offset="0.36" stop-color="#2b0b57"/><stop offset="0.37" stop-color="#3e0a65"/><stop offset="0.38" stop-color="#4d0d6c"/><stop offset="0.41" stop-color="#5e136e"/><stop offset="0.46" stop-color="#69176e"/><stop offset="0.63" stop-color="#721a6e"/><stop offset="1" stop-color="#771c6d"/></linearGradient>
<linearGradient id="f21"><stop offset="0" stop-color="#000004"/><stop offset="0.27" stop-color="#010005"/><stop offset="0.29" stop-color="#03020f"/><stop offset="0.31" stop-color="#07051b"/><stop offset="0.33" stop-color="#190c3e"/><stop offset="0.34" stop-color="#2b0b57"/><stop offset="0.36" stop-color="#3e0a65"/><stop offset="0.38" stop-color="#530e6d"/><stop offset="0.4" stop-color="#5e136e"/><stop offset="0.44" stop-color="#69176e"/><stop offset="0.56" stop-color="#711a6e"/><stop offset="0.99" stop-color="#771c6d"/><stop offset="1" stop-color="#771c6d"/></linearGradient>
<linearGradient id="f22"><stop offset="0" stop-color="#000004"/><stop offset="0.26" stop-color="#010005"/><stop offset="0.28" stop-color="#03020f"/><stop offset="0.29" stop-color="#08051d"/><stop offset="0.31" stop-color="#190c3e"/><stop offset="0.33" stop-color="#2b0b57"/><stop offset="0.33" stop-color="#360a60"/><stop offset="0.36" stop-color="#4d0d6c"/><stop offset="0.38" stop-color="#5f136e"/><stop offset="0.44" stop-color="#6b176e"/><stop offset="0.58" stop-color="#731a6e"/><stop offset="1" stop-color="#771c6d"/></linearGradient>
<linearGradient id="f23"><stop offset="0" stop-color="#000004"/><stop offset="0.24" stop-color="#010005"/><stop offset="0.26" stop-color="#02020c"/><stop offset="0.28" stop-color="#090620"/><stop offset="0.3" stop-color="#1b0c41"/><stop offset="0.31" stop-color="#2d0b58"/><stop offset="0.32" stop-color="#380a61"/><stop offset="0.34" stop-color="#4d0d6c"/><stop offset="0.36" stop-color="#5d126e"/><stop offset="0.4" stop-color="#69176e"/><stop offset="0.52" stop-color="#731a6e"/><stop offset="0.93" stop-color="#771c6d"/><stop offset="1" stop-color="#771c6d"/></linearGradient>
<linearGradient id="f24"><stop offset="0" stop-color="#000004"/><stop offset="0.22" stop-color="#010005"/><stop offset="0.24" stop-color="#02020e"/><stop offset="0.26" stop-color="#060419"/><stop offset="0.28" stop-color="#150b37"/><stop offset="0.29" stop-color="#260b51"/><stop offset="0.31" stop-color="#390a63"/><stop offset="0.33" stop-color="#4f0d6c"/><stop offset="0.35" stop-color="#5d126e"/><stop offset="0.39" stop-color="#69176e"/><stop offset="0.48" stop-color="#731a6e"/><stop offset="0.82" stop-color="#771c6d"/><stop offset="1" stop-color="#771c6d"/></linearGradient>
<linearGradient id="f25"><stop offset="0" stop-color="#000004"/><stop offset="0.21" stop-color="#010005"/><stop offset="0.23" stop-color="#02020e"/><stop offset="0.25" stop-color="#0b0724"/><stop offset="0.27" stop-color="#1f0c48"/><stop offset="0.29" stop-color="#320a5d"/><stop offset="0.31" stop-color="#4b0c6b"/><stop offset="0.33" stop-color="#5b116e"/><stop offset="0.36" stop-color="#69166e"/><stop offset="0.44" stop-color="#731a6e"/><stop offset="0.68" stop-color="#771c6d"/><stop offset="1" stop-color="#781c6d"/></linearGradient>
<linearGradient id="f26"><stop offset="0" stop-color="#000004"/><stop offset="0.2" stop-color="#010005"/><stop offset="0.22" stop-color="#03020f"/><stop offset="0.24" stop-color="#0b0725"/><stop offset="0.26" stop-color="#220c4b"/><stop offset="0.27" stop-color="#360a60"/><stop offset="0.29" stop-color="#4d0d6c"/><stop offset="0.32" stop-color="#61136e"/><stop offset="0.36" stop-color="#6d186e"/><stop offset="0.44" stop-color="#741b6e"/><stop offset="0.77" stop-color="#781c6d"/><stop offset="1" stop-color="#781c6d"/></linearGradient>
<linearGradient id="f27"><stop offset="0" stop-color="#000004"/><stop offset="0.18" stop-color="#010005"/><stop offset="0.2" stop-color="#010109"/><stop offset="0.22" stop-color="#07051b"/><stop offset="0.24" stop-color="#190c3e"/><stop offset="0.25" stop-color="#2d0b58"/><stop offset="0.27" stop-color="#410a67"/><stop offset="0.29" stop-color="#5b116e"/><stop offset="0.33" stop-color="#6a176e"/><stop offset="0.4" stop-color="#741b6e"/><stop offset="0.6" stop-color="#781c6d"/><stop offset="1" stop-color="#781c6d"/></linearGradient>
<linearGradient id="f28"><stop offset="0" stop-color="#000004"/><stop offset="0.17" stop-color="#010005"/><stop offset="0.18" stop-color="#010108"/><stop offset="0.2" stop-color="#030311"/><stop offset="0.21" stop-color="#0a0723"/><stop offset="0.22" stop-color="#190c3d"/><stop offset="0.24" stop-color="#2d0b58"/><stop offset="0.24" stop-color="#380962"/><stop offset="0.26" stop-color="#4b0c6b"/><stop offset="0.28" stop-color="#5d126e"/><stop offset="0.31" stop-color="#6a176e"/><stop offset="0.37" stop-color="#741b6e"/><stop offset="0.53" stop-color="#7a1d6d"/><stop offset="1" stop-color="#781c6d"/></linearGradient>
<linearGradient id="f29"><stop offset="0" stop-color="#000004"/><stop offset="0.16" stop-color="#010005"/><stop offset="0.18" stop-color="#02020d"/><stop offset="0.2" stop-color="#0a0723"/><stop offset="0.21" stop-color="#180b3c"/><stop offset="0.22" stop-color="#2c0b57"/><stop offset="0.23" stop-color="#380a61"/><stop offset="0.24" stop-color="#4b0c6b"/><stop offset="0.27" stop-color="#60136e"/><stop offset="0.3" stop-color="#6f196e"/><stop offset="0.37" stop-color="#781c6d"/><stop offset="0.58" stop-color="#7c1d6d"/><stop offset="1" stop-color="#781c6d"/></linearGradient>
<linearGradient id="f30"><stop offset="0" stop-color="#000004"/><stop offset="0.14" stop-color="#010005"/><stop offset="0.16" stop-color="#02020e"/><stop offset="0.18" stop-color="#07051b"/><stop offset="0.2" stop-color="#190c3e"/><stop offset="0.21" stop-color="#2e0a59"/><stop offset="0.22" stop-color="#430a68"/><stop offset="0.24" stop-color="#5b116e"/><stop offset="0.26" stop-color="#66166e"/><stop offset="0.29" stop-color="#721a6e"/><stop offset="0.36" stop-color="#7b1d6d"/><stop offset="0.62" stop-color="#7c1d6d"/><stop offset="1" stop-color="#781c6d"/></linearGradient>
<linearGradient id="f31"><stop offset="0" stop-color="#000004"/><stop offset="0.13" stop-color="#010005"/><stop offset="0.15" stop-color="#02020e"/><stop offset="0.16" stop-color="#040313"/><stop offset="0.18" stop-color="#130a33"/><stop offset="0.2" stop-color="#300a5b"/><stop offset="0.2" stop-color="#3c0a64"/><stop offset="0.22" stop-color="#57106d"/><stop offset="0.24" stop-color="#69166e"/><stop offset="0.27" stop-color="#741a6e"/><stop offset="0.33" stop-color="#7c1e6d"/><stop offset="0.56" stop-color="#7e1e6c"/><stop offset="1" stop-color="#781c6d"/></linearGradient>
<linearGradient id="f32"><stop offset="0" stop-color="#000004"/><stop offset="0.12" stop-color="#010005"/><stop offset="0.14" stop-color="#040313"/><stop offset="0.16" stop-color="#0c0826"/><stop offset="0.18" stop-color="#270b51"/><stop offset="0.18" stop-color="#330a5e"/><stop offset="0.2" stop-color="#480b6a"/><stop offset="0.21" stop-color="#5a116e"/><stop offset="0.24" stop-color="#70196e"/><stop offset="0.28" stop-color="#7b1d6d"/><stop offset="0.37" stop-color="#811f6c"/><stop offset="1" stop-color="#781c6d"/></linearGradient>
<linearGradient id="f33"><stop offset="0" stop-color="#000004"/><stop offset="0.11" stop-color="#010005"/><stop offset="0.12" stop-color="#02020c"/><stop offset="0.13" stop-color="#060419"/><stop offset="0.15" stop-color="#120a31"/><stop offset="0.16" stop-color="#260b51"/><stop offset="0.17" stop-color="#320a5d"/><stop offset="0.18" stop-color="#4a0c6b"/><stop offset="0.2" stop-color="#63146e"/><stop offset="0.22" stop-color="#731a6e"/><stop offset="0.27" stop-color="#7e1e6c"/><stop offset="0.35" stop-color="#83206b"/><stop offset="1" stop-color="#781c6d"/></linearGradient>
<linearGradient id="f34"><stop offset="0" stop-color="#000004"/><stop offset="0.1" stop-color="#010005"/><stop offset="0.11" stop-color="#02020e"/><stop offset="0.13" stop-color="#090620"/><stop offset="0.14" stop-color="#170b3b"/><stop offset="0.16" stop-color="#2f0a5a"/><stop offset="0.16" stop-color="#3d0a65"/><stop offset="0.18" stop-color="#540f6d"/><stop offset="0.2" stop-color="#6c186e"/><stop offset="0.22" stop-color="#7c1d6d"/><stop offset="0.3" stop-color="#86216b"/><stop offset="0.63" stop-color="#801f6c"/><stop offset="1" stop-color="#781c6d"/></linearGradient>
<linearGradient id="f35"><stop offset="0" stop-color="#000004"/><stop offset="0.09" stop-color="#010005"/><stop offset="0.1" stop-color="#02010b"/><stop offset="0.11" stop-color="#06051a"/><stop offset="0.13" stop-color="#130a33"/><stop offset="0.14" stop-color="#2a0b55"/><stop offset="0.15" stop-color="#380a62"/><stop offset="0.16" stop-color="#520e6d"/><stop offset="0.18" stop-color="#6d186e"/><stop offset="0.21" stop-color="#7e1e6c"/><stop offset="0.25" stop-color="#87216b"/><stop offset="0.38" stop-color="#88226a"/><stop offset="0.86" stop-color="#7c1d6d"/><stop offset="1" stop-color="#781c6d"/></linearGradient>
<linearGradient id="f36"><stop offset="0" stop-color="#000004"/><stop offset="0.08" stop-color="#010005"/><stop offset="0.09" stop-color="#02020d"/><stop offset="0.1" stop-color="#040313"/><stop offset="0.11" stop-color="#0e092b"/><stop offset="0.13" stop-color="#240c4e"/><stop offset="0.13" stop-color="#330a5e"/><stop offset="0.15" stop-color="#4f0d6c"/><stop offset="0.17" stop-color="#6d186e"/><stop offset="0.19" stop-color="#7e1e6c"/><stop offset="0.23" stop-color="#89226a"/><stop offset="0.32" stop-color="#8c2369"/><stop offset="0.8" stop-color="#7d1e6d"/><stop offset="1" stop-color="#791c6d"/></linearGradient>
<linearGradient id="f37"><stop offset="0" stop-color="#000004"/><stop offset="0.07" stop-color="#010005"/><stop offset="0.09" stop-color="#02020e"/><stop offset="0.1" stop-color="#0a0722"/><stop offset="0.11" stop-color="#1c0c43"/><stop offset="0.12" stop-color="#2b0b57"/><stop offset="0.13" stop-color="#3a0a63"/><stop offset="0.14" stop-color="#57106d"/><stop offset="0.16" stop-color="#741b6e"/><stop offset="0.18" stop-color="#84206b"/><stop offset="0.23" stop-color="#8f2469"/><stop offset="0.37" stop-color="#8d2369"/><stop offset="0.8" stop-color="#7d1e6d"/><stop offset="1" stop-color="#7a1d6d"/></linearGradient>
<linearGradient id="f38"><stop offset="0" stop-color="#000004"/><stop offset="0.06" stop-color="#010005"/><stop offset="0.07" stop-color="#02010a"/><stop offset="0.09" stop-color="#06051a"/><stop offset="0.1" stop-color="#140b36"/><stop offset="0.11" stop-color="#310a5c"/><stop offset="0.12" stop-color="#400a67"/><stop offset="0.13" stop-color="#5d126e"/><stop offset="0.16" stop-color="#7c1d6d"/><stop offset="0.18" stop-color="#8c2369"/><stop offset="0.22" stop-color="#932567"/><stop offset="0.32" stop-color="#922568"/><stop offset="0.71" stop-color="#801f6c"/><stop offset="1" stop-color="#7a1d6d"/></linearGradient>
<linearGradient id="f39"><stop offset="0" stop-color="#000004"/><stop offset="0.05" stop-color="#010005"/><stop offset="0.07" stop-color="#02010b"/><stop offset="0.08" stop-color="#07051c"/><stop offset="0.09" stop-color="#0d0829"/><stop offset="0.1" stop-color="#250c50"/><stop offset="0.11" stop-color="#360a60"/><stop offset="0.11" stop-color="#460b69"/><stop offset="0.13" stop-color="#64156e"/><stop offset="0.14" stop-color="#791c6d"/><stop offset="0.16" stop-color="#88226a"/><stop offset="0.18" stop-color="#932667"/><stop offset="0.25" stop-color="#972766"/><stop offset="0.71" stop-color="#801f6c"/><stop offset="1" stop-color="#7a1d6d"/></linearGradient>
<linearGradient id="f40"><stop offset="0" stop-color="#000004"/><stop offset="0.05" stop-color="#010107"/><stop offset="0.07" stop-color="#040314"/><stop offset="0.07" stop-color="#08061e"/><stop offset="0.08" stop-color="#10092d"/><stop offset="0.09" stop-color="#2a0b55"/><stop offset="0.1" stop-color="#3b0a64"/><stop offset="0.11" stop-color="#4c0c6b"/><stop offset="0.13" stop-color="#761b6d"/><stop offset="0.15" stop-color="#8d2369"/><stop offset="0.18" stop-color="#982766"/><stop offset="0.24" stop-color="#9c2964"/><stop offset="0.65" stop-color="#84206b"/><stop offset="1" stop-color="#7a1d6d"/></linearGradient>
<linearGradient id="f41"><stop offset="0" stop-color="#000004"/><stop offset="0.04" stop-color="#010005"/><stop offset="0.05" stop-color="#02020d"/><stop offset="0.06" stop-color="#040314"/><stop offset="0.07" stop-color="#110a30"/><stop offset="0.09" stop-color="#2d0b58"/><stop offset="0.09" stop-color="#400a67"/><stop offset="0.11" stop-color="#61136e"/><stop offset="0.13" stop-color="#86216b"/><stop offset="0.15" stop-color="#972766"/><stop offset="0.19" stop-color="#a02a62"/><stop offset="0.3" stop-color="#9b2964"/><stop offset="0.6" stop-color="#87216b"/><stop offset="0.93" stop-color="#7c1d6d"/><stop offset="1" stop-color="#7a1d6d"/></linearGradient>
<linearGradient id="f42"><stop offset="0" stop-color="#000004"/><stop offset="0.04" stop-color="#010107"/><stop offset="0.05" stop-color="#040314"/><stop offset="0.06" stop-color="#090621"/><stop offset="0.07" stop-color="#1f0c47"/><stop offset="0.08" stop-color="#310a5c"/><stop offset="0.09" stop-color="#430a68"/><stop offset="0.09" stop-color="#550f6d"/><stop offset="0.11" stop-color="#811f6c"/><stop offset="0.13" stop-color="#932667"/><stop offset="0.16" stop-color="#a22b62"/><stop offset="0.21" stop-color="#a52c60"/><stop offset="0.59" stop-color="#88226a"/><stop offset="0.93" stop-color="#7c1d6d"/><stop offset="1" stop-color="#7a1d6d"/></linearGradient>
<linearGradient id="f43"><stop offset="0" stop-color="#000004"/><stop offset="0.03" stop-color="#010107"/><stop offset="0.04" stop-color="#040314"/><stop offset="0.06" stop-color="#110a30"/><stop offset="0.07" stop-color="#300a5b"/><stop offset="0.08" stop-color="#430a68"/><stop offset="0.09" stop-color="#57106d"/><stop offset="0.1" stop-color="#781c6d"/><stop offset="0.11" stop-color="#902568"/><stop offset="0.13" stop-color="#a22b62"/><stop offset="0.17" stop-color="#a92e5e"/><stop offset="0.27" stop-color="#a42c61"/><stop offset="0.52" stop-color="#8d2369"/><stop offset="0.88" stop-color="#7d1e6d"/><stop offset="1" stop-color="#7a1d6d"/></linearGradient>
<linearGradient id="f44"><stop offset="0" stop-color="#000004"/><stop offset="0.02" stop-color="#010107"/><stop offset="0.04" stop-color="#040312"/><stop offset="0.04" stop-color="#08061e"/><stop offset="0.06" stop-color="#1d0c44"/><stop offset="0.07" stop-color="#300a5b"/><stop offset="0.07" stop-color="#430a68"/><stop offset="0.08" stop-color="#57106d"/><stop offset="0.09" stop-color="#7a1d6d"/><stop offset="0.11" stop-color="#932667"/><stop offset="0.12" stop-color="#a22b61"/><stop offset="0.14" stop-color="#ac2f5d"/><stop offset="0.21" stop-color="#ad305c"/><stop offset="0.49" stop-color="#902568"/><stop offset="0.76" stop-color="#82206c"/><stop offset="1" stop-color="#7a1d6d"/></linearGradient>
<linearGradient id="f45"><stop offset="0" stop-color="#000004"/><stop offset="0.02" stop-color="#010106"/><stop offset="0.03" stop-color="#040312"/><stop offset="0.04" stop-color="#08051d"/><stop offset="0.04" stop-color="#10092d"/><stop offset="0.05" stop-color="#1c0c43"/><stop offset="0.06" stop-color="#2e0a59"/><stop offset="0.07" stop-color="#430a68"/><stop offset="0.07" stop-color="#57106d"/><stop offset="0.09" stop-color="#7c1d6d"/><stop offset="0.1" stop-color="#972766"/><stop offset="0.11" stop-color="#a72d5f"/><stop offset="0.14" stop-color="#b3325a"/><stop offset="0.22" stop-color="#b0315b"/><stop offset="0.45" stop-color="#952667"/><stop offset="0.7" stop-color="#85216b"/><stop offset="1" stop-color="#7a1d6d"/></linearGradient>
<linearGradient id="f46"><stop offset="0" stop-color="#000004"/><stop offset="0.02" stop-color="#010109"/><stop offset="0.03" stop-color="#07051b"/><stop offset="0.04" stop-color="#0e092a"/><stop offset="0.04" stop-color="#190c3e"/><stop offset="0.05" stop-color="#2c0b58"/><stop offset="0.06" stop-color="#410a67"/><stop offset="0.07" stop-color="#57106d"/><stop offset="0.08" stop-color="#7d1e6c"/><stop offset="0.09" stop-color="#8e2469"/><stop offset="0.1" stop-color="#a52c60"/><stop offset="0.12" stop-color="#b43359"/><stop offset="0.16" stop-color="#b93556"/><stop offset="0.27" stop-color="#ac2f5d"/><stop offset="0.49" stop-color="#932667"/><stop offset="0.74" stop-color="#84206b"/><stop offset="1" stop-color="#7a1d6d"/></linearGradient>
<linearGradient id="f47"><stop offset="0" stop-color="#000004"/><stop offset="0.02" stop-color="#02020d"/><stop offset="0.02" stop-color="#050417"/><stop offset="0.03" stop-color="#0b0725"/><stop offset="0.04" stop-color="#160b39"/><stop offset="0.04" stop-color="#270b52"/><stop offset="0.05" stop-color="#3e0a65"/><stop offset="0.06" stop-color="#530f6d"/><stop offset="0.07" stop-color="#7d1e6c"/><stop offset="0.09" stop-color="#9e2a63"/><stop offset="0.1" stop-color="#b0315b"/><stop offset="0.12" stop-color="#bc3754"/><stop offset="0.18" stop-color="#bb3755"/><stop offset="0.43" stop-color="#9a2865"/><stop offset="0.69" stop-color="#87216b"/><stop offset="1" stop-color="#7a1d6d"/></linearGradient>
<linearGradient id="f48"><stop offset="0" stop-color="#000004"/><stop offset="0.01" stop-color="#010109"/><stop offset="0.02" stop-color="#090621"/><stop offset="0.03" stop-color="#130a33"/><stop offset="0.04" stop-color="#230c4c"/><stop offset="0.04" stop-color="#370a61"/><stop offset="0.05" stop-color="#4e0d6c"/><stop offset="0.06" stop-color="#65156e"/><stop offset="0.07" stop-color="#8e2469"/><stop offset="0.09" stop-color="#ab2f5e"/><stop offset="0.1" stop-color="#bb3755"/><stop offset="0.13" stop-color="#c33b4f"/><stop offset="0.21" stop-color="#bb3755"/><stop offset="0.42" stop-color="#9c2964"/><stop offset="0.67" stop-color="#88226a"/><stop offset="0.99" stop-color="#7c1d6d"/><stop offset="1" stop-color="#7c1d6d"/></linearGradient>
<linearGradient id="f49"><stop offset="0" stop-color="#010005"/><stop offset="0.01" stop-color="#02020e"/><stop offset="0.02" stop-color="#100a2f"/><stop offset="0.03" stop-color="#1e0c45"/><stop offset="0.04" stop-color="#310a5d"/><stop offset="0.04" stop-color="#480b6a"/><stop offset="0.05" stop-color="#60136e"/><stop offset="0.07" stop-color="#8b236a"/><stop offset="0.07" stop-color="#9e2a63"/><stop offset="0.09" stop-color="#b63457"/><stop offset="0.1" stop-color="#c23b50"/><stop offset="0.13" stop-color="#c83f4b"/><stop offset="0.21" stop-color="#be3853"/><stop offset="0.42" stop-color="#9f2a63"/><stop offset="0.65" stop-color="#8a226a"/><stop offset="0.98" stop-color="#7c1d6d"/><stop offset="1" stop-color="#7c1d6d"/></linearGradient>
<linearGradient id="f50"><stop offset="0" stop-color="#010005"/><stop offset="0.01" stop-color="#040314"/><stop offset="0.02" stop-color="#1b0c41"/><stop offset="0.03" stop-color="#2d0b58"/><stop offset="0.04" stop-color="#450b69"/><stop offset="0.04" stop-color="#5b116e"/><stop offset="0.06" stop-color="#88226a"/><stop offset="0.07" stop-color="#9c2964"/><stop offset="0.07" stop-color="#ac2f5d"/><stop offset="0.09" stop-color="#c13a51"/><stop offset="0.1" stop-color="#ca404a"/><stop offset="0.13" stop-color="#cc4248"/><stop offset="0.25" stop-color="#b93656"/><stop offset="0.44" stop-color="#9e2a63"/><stop offset="0.67" stop-color="#8a226a"/><stop offset="0.99" stop-color="#7c1d6d"/><stop offset="1" stop-color="#7c1d6d"/></linearGradient>
<linearGradient id="f51"><stop offset="0" stop-color="#010109"/><stop offset="0.01" stop-color="#090621"/><stop offset="0.02" stop-color="#190c3d"/><stop offset="0.02" stop-color="#2a0b56"/><stop offset="0.03" stop-color="#410a67"/><stop offset="0.04" stop-color="#59116e"/><stop offset="0.05" stop-color="#88226a"/><stop offset="0.07" stop-color="#ad305c"/><stop offset="0.07" stop-color="#ba3655"/><stop offset="0.09" stop-color="#ca404a"/><stop offset="0.11" stop-color="#d24644"/><stop offset="0.17" stop-color="#cc4149"/><stop offset="0.35" stop-color="#ab2f5e"/><stop offset="0.55" stop-color="#932667"/><stop offset="0.82" stop-color="#82206c"/><stop offset="1" stop-color="#7c1d6d"/></linearGradient>
<linearGradient id="f52"><stop offset="0" stop-color="#02020d"/><stop offset="0.01" stop-color="#110a30"/><stop offset="0.02" stop-color="#290b54"/><stop offset="0.02" stop-color="#3e0a66"/><stop offset="0.03" stop-color="#550f6d"/><stop offset="0.04" stop-color="#6e186e"/><stop offset="0.05" stop-color="#9c2964"/><stop offset="0.06" stop-color="#af315c"/><stop offset="0.07" stop-color="#c73e4c"/><stop offset="0.09" stop-color="#d24743"/><stop offset="0.11" stop-color="#d74b3f"/><stop offset="0.19" stop-color="#cb4149"/><stop offset="0.34" stop-color="#ae305c"/><stop offset="0.53" stop-color="#972766"/><stop offset="0.77" stop-color="#85216b"/><stop offset="1" stop-color="#7c1d6d"/></linearGradient>
<linearGradient id="f53"><stop offset="0" stop-color="#040314"/><stop offset="0.01" stop-color="#1f0c47"/><stop offset="0.02" stop-color="#3f0a66"/><stop offset="0.02" stop-color="#550f6d"/><stop offset="0.03" stop-color="#6d186e"/><stop offset="0.04" stop-color="#9b2964"/><stop offset="0.05" stop-color="#b0315b"/><stop offset="0.06" stop-color="#bf3952"/><stop offset="0.07" stop-color="#d24644"/><stop offset="0.09" stop-color="#db4f3b"/><stop offset="0.13" stop-color="#d94c3e"/><stop offset="0.29" stop-color="#b83556"/><stop offset="0.46" stop-color="#9f2a63"/><stop offset="0.69" stop-color="#8a226a"/><stop offset="1" stop-color="#7c1d6d"/></linearGradient>
<linearGradient id="f54"><stop offset="0" stop-color="#08061e"/><stop offset="0.01" stop-color="#360a60"/><stop offset="0.02" stop-color="#5b116e"/><stop offset="0.03" stop-color="#85216b"/><stop offset="0.04" stop-color="#b0315b"/><stop offset="0.06" stop-color="#cd4348"/><stop offset="0.07" stop-color="#db4f3b"/><stop offset="0.09" stop-color="#e05536"/><stop offset="0.16" stop-color="#d74b3f"/><stop offset="0.28" stop-color="#bd3853"/><stop offset="0.45" stop-color="#a12b62"/><stop offset="0.68" stop-color="#8c2369"/><stop offset="0.96" stop-color="#7d1e6d"/><stop offset="1" stop-color="#7c1d6d"/></linearGradient>
<linearGradient id="f55"><stop offset="0" stop-color="#0f092c"/><stop offset="0.01" stop-color="#510e6c"/><stop offset="0.02" stop-color="#791c6d"/><stop offset="0.03" stop-color="#a02b62"/><stop offset="0.04" stop-color="#c33c4f"/><stop offset="0.06" stop-color="#d94d3d"/><stop offset="0.08" stop-color="#e45932"/><stop offset="0.12" stop-color="#e25734"/><stop offset="0.25" stop-color="#c53d4e"/><stop offset="0.4" stop-color="#a92e5f"/><stop offset="0.6" stop-color="#922568"/><stop offset="0.89" stop-color="#801f6c"/><stop offset="1" stop-color="#7c1d6d"/></linearGradient>
<linearGradient id="f56"><stop offset="0" stop-color="#170b3b"/><stop offset="0.01" stop-color="#6a176e"/><stop offset="0.02" stop-color="#972766"/><stop offset="0.04" stop-color="#c73e4c"/><stop offset="0.05" stop-color="#db503b"/><stop offset="0.07" stop-color="#e55b31"/><stop offset="0.08" stop-color="#e8602d"/><stop offset="0.11" stop-color="#e75e2e"/><stop offset="0.24" stop-color="#ca404a"/><stop offset="0.37" stop-color="#b0315b"/><stop offset="0.56" stop-color="#972766"/><stop offset="0.82" stop-color="#84206b"/><stop offset="1" stop-color="#7c1d6d"/></linearGradient>
<linearGradient id="f57"><stop offset="0" stop-color="#200c49"/><stop offset="0.01" stop-color="#811f6c"/><stop offset="0.02" stop-color="#b1325a"/><stop offset="0.03" stop-color="#cc4249"/><stop offset="0.04" stop-color="#df5337"/><stop offset="0.06" stop-color="#e8612c"/><stop offset="0.09" stop-color="#ec6726"/><stop offset="0.16" stop-color="#df5437"/><stop offset="0.24" stop-color="#ca404a"/><stop offset="0.4" stop-color="#ad305d"/><stop offset="0.6" stop-color="#932667"/><stop offset="0.89" stop-color="#801f6c"/><stop offset="1" stop-color="#7c1d6d"/></linearGradient>
<linearGradient id="f58"><stop offset="0" stop-color="#290b54"/><stop offset="0.01" stop-color="#962766"/><stop offset="0.02" stop-color="#c83f4c"/><stop offset="0.04" stop-color="#e25833"/><stop offset="0.06" stop-color="#ed6a24"/><stop offset="0.09" stop-color="#ef6e21"/><stop offset="0.18" stop-color="#de5338"/><stop offset="0.27" stop-color="#c83f4c"/><stop offset="0.41" stop-color="#ac2f5d"/><stop offset="0.61" stop-color="#932667"/><stop offset="0.9" stop-color="#801f6c"/><stop offset="1" stop-color="#7c1d6d"/></linearGradient>
<linearGradient id="f59"><stop offset="0" stop-color="#310a5d"/><stop offset="0.01" stop-color="#a92e5e"/><stop offset="0.02" stop-color="#da4e3c"/><stop offset="0.04" stop-color="#eb6628"/><stop offset="0.05" stop-color="#f1711f"/><stop offset="0.07" stop-color="#f3761b"/><stop offset="0.11" stop-color="#ee6b23"/><stop offset="0.21" stop-color="#d74b3f"/><stop offset="0.31" stop-color="#bf3952"/><stop offset="0.47" stop-color="#a42c61"/><stop offset="0.68" stop-color="#8f2469"/><stop offset="0.98" stop-color="#7d1e6d"/><stop offset="1" stop-color="#7c1d6d"/></linearGradient>
<linearGradient id="f60"><stop offset="0" stop-color="#390963"/><stop offset="0.01" stop-color="#bb3755"/><stop offset="0.02" stop-color="#e8602c"/><stop offset="0.04" stop-color="#f47918"/><stop offset="0.07" stop-color="#f67e14"/><stop offset="0.1" stop-color="#f3761b"/><stop offset="0.2" stop-color="#db4f3b"/><stop offset="0.3" stop-color="#c43c4f"/><stop offset="0.45" stop-color="#a82e5f"/><stop offset="0.64" stop-color="#922568"/><stop offset="0.91" stop-color="#801f6c"/><stop offset="1" stop-color="#7d1e6d"/></linearGradient>
<linearGradient id="f61"><stop offset="0" stop-color="#400a67"/><stop offset="0.01" stop-color="#c9404b"/><stop offset="0.02" stop-color="#f1721e"/><stop offset="0.04" stop-color="#f8850f"/><stop offset="0.07" stop-color="#f8870e"/><stop offset="0.09" stop-color="#f67e14"/><stop offset="0.19" stop-color="#e15635"/><stop offset="0.28" stop-color="#ca404a"/><stop offset="0.42" stop-color="#ad305c"/><stop offset="0.6" stop-color="#972766"/><stop offset="0.86" stop-color="#84206b"/><stop offset="1" stop-color="#7d1e6d"/></linearGradient>
<linearGradient id="f62"><stop offset="0" stop-color="#470b6a"/><stop offset="0.01" stop-color="#d54941"/><stop offset="0.02" stop-color="#f78311"/><stop offset="0.04" stop-color="#fa8f09"/><stop offset="0.07" stop-color="#f98e09"/><stop offset="0.11" stop-color="#f57d15"/><stop offset="0.2" stop-color="#e15635"/><stop offset="0.29" stop-color="#ca404a"/><stop offset="0.43" stop-color="#ad305c"/><stop offset="0.61" stop-color="#972766"/><stop offset="0.87" stop-color="#84206b"/><stop offset="1" stop-color="#7d1e6d"/></linearGradient>
<linearGradient id="f63"><stop offset="0" stop-color="#4d0c6b"/><stop offset="0.01" stop-color="#df5337"/><stop offset="0.02" stop-color="#fa9307"/><stop offset="0.04" stop-color="#fb9906"/><stop offset="0.07" stop-color="#fb9706"/><stop offset="0.09" stop-color="#f98b0b"/><stop offset="0.17" stop-color="#ea6429"/><stop offset="0.24" stop-color="#d74b3f"/><stop offset="0.35" stop-color="#be3853"/><stop offset="0.49" stop-color="#a52c60"/><stop offset="0.71" stop-color="#8f2469"/><stop offset="0.99" stop-color="#7d1e6d"/><stop offset="1" stop-color="#7d1e6d"/></linearGradient>
<linearGradient id="f64"><stop offset="0" stop-color="#510e6d"/><stop offset="0.01" stop-color="#e65e2e"/><stop offset="0.02" stop-color="#fca40a"/><stop offset="0.06" stop-color="#fca108"/><stop offset="0.09" stop-color="#fa9008"/><stop offset="0.16" stop-color="#ed6a24"/><stop offset="0.23" stop-color="#db4f3b"/><stop offset="0.33" stop-color="#c43c4f"/><stop offset="0.49" stop-color="#a72d5f"/><stop offset="0.69" stop-color="#902568"/><stop offset="0.96" stop-color="#7f1e6c"/><stop offset="1" stop-color="#7d1e6d"/></linearGradient>
<linearGradient id="f65"><stop offset="0" stop-color="#56106d"/><stop offset="0.01" stop-color="#ed6826"/><stop offset="0.02" stop-color="#fcb317"/><stop offset="0.05" stop-color="#fcab10"/><stop offset="0.09" stop-color="#fb9a06"/><stop offset="0.11" stop-color="#f8880d"/><stop offset="0.18" stop-color="#eb6528"/><stop offset="0.25" stop-color="#d74b3f"/><stop offset="0.36" stop-color="#bf3952"/><stop offset="0.53" stop-color="#a22b62"/><stop offset="0.76" stop-color="#8c2369"/><stop offset="1" stop-color="#7d1e6d"/></linearGradient>
<linearGradient id="f66"><stop offset="0" stop-color="#59116e"/><stop offset="0.01" stop-color="#f1711f"/><stop offset="0.02" stop-color="#fac127"/><stop offset="0.06" stop-color="#fcaf13"/><stop offset="0.09" stop-color="#fb9a06"/><stop offset="0.11" stop-color="#f98c0b"/><stop offset="0.18" stop-color="#eb6429"/><stop offset="0.26" stop-color="#d74b3f"/><stop offset="0.36" stop-color="#c03a51"/><stop offset="0.5" stop-color="#a62d60"/><stop offset="0.72" stop-color="#8f2469"/><stop offset="1" stop-color="#7d1e6d"/></linearGradient>
<rect x="489.4" y="218.5" width="144.4" height="3.1" fill="url(#f0)"/>
<rect x="489.4" y="220.5" width="144.4" height="3.1" fill="url(#f1)"/>
<rect x="489.4" y="222.5" width="144.4" height="3.1" fill="url(#f2)"/>
<rect x="489.4" y="224.5" width="144.4" height="3.1" fill="url(#f3)"/>
<rect x="489.4" y="226.5" width="144.4" height="3.1" fill="url(#f4)"/>
<rect x="489.4" y="228.5" width="144.4" height="3.1" fill="url(#f5)"/>
<rect x="489.4" y="230.5" width="144.4" height="3.1" fill="url(#f6)"/>
<rect x="489.4" y="232.5" width="144.4" height="3.1" fill="url(#f7)"/>
<rect x="489.4" y="234.5" width="144.4" height="3.1" fill="url(#f8)"/>
<rect x="489.4" y="236.5" width="144.4" height="3.1" fill="url(#f9)"/>
<rect x="489.4" y="238.5" width="144.4" height="3.1" fill="url(#f10)"/>
<rect x="489.4" y="240.5" width="144.4" height="3.1" fill="url(#f11)"/>
<rect x="489.4" y="242.5" width="144.4" height="3.1" fill="url(#f12)"/>
<rect x="489.4" y="244.5" width="144.4" height="3.1" fill="url(#f13)"/>
<rect x="489.4" y="246.5" width="144.4" height="3.1" fill="url(#f14)"/>
<rect x="489.4" y="248.5" width="144.4" height="3.1" fill="url(#f15)"/>
<rect x="489.4" y="250.5" width="144.4" height="3.1" fill="url(#f16)"/>
<rect x="489.4" y="252.5" width="144.4" height="3.1" fill="url(#f17)"/>
<rect x="489.4" y="254.5" width="144.4" height="3.1" fill="url(#f18)"/>
<rect x="489.4" y="256.5" width="144.4" height="3.1" fill="url(#f19)"/>
<rect x="489.4" y="258.5" width="144.4" height="3.1" fill="url(#f20)"/>
<rect x="489.4" y="260.5" width="144.4" height="3.1" fill="url(#f21)"/>
<rect x="489.4" y="262.5" width="144.4" height="3.1" fill="url(#f22)"/>
<rect x="489.4" y="264.5" width="144.4" height="3.1" fill="url(#f23)"/>
<rect x="489.4" y="266.5" width="144.4" height="3.1" fill="url(#f24)"/>
<rect x="489.4" y="268.5" width="144.4" height="3.1" fill="url(#f25)"/>
<rect x="489.4" y="270.5" width="144.4" height="3.1" fill="url(#f26)"/>
<rect x="489.4" y="272.5" width="144.4" height="3.1" fill="url(#f27)"/>
<rect x="489.4" y="274.5" width="144.4" height="3.1" fill="url(#f28)"/>
<rect x="489.4" y="276.5" width="144.4" height="3.1" fill="url(#f29)"/>
<rect x="489.4" y="278.5" width="144.4" height="3.1" fill="url(#f30)"/>
<rect x="489.4" y="280.5" width="144.4" height="3.1" fill="url(#f31)"/>
<rect x="489.4" y="282.5" width="144.4" height="3.1" fill="url(#f32)"/>
<rect x="489.4" y="284.5" width="144.4" height="3.1" fill="url(#f33)"/>
<rect x="489.4" y="286.5" width="144.4" height="3.1" fill="url(#f34)"/>
<rect x="489.4" y="288.5" width="144.4" height="3.1" fill="url(#f35)"/>
<rect x="489.4" y="290.5" width="144.4" height="3.1" fill="url(#f36)"/>
<rect x="489.4" y="292.5" width="144.4" height="3.1" fill="url(#f37)"/>
<rect x="489.4" y="294.5" width="144.4" height="3.1" fill="url(#f38)"/>
<rect x="489.4" y="296.5" width="144.4" height="3.1" fill="url(#f39)"/>
<rect x="489.4" y="298.5" width="144.4" height="3.1" fill="url(#f40)"/>
<rect x="489.4" y="300.5" width="144.4" height="3.1" fill="url(#f41)"/>
<rect x="489.4" y="302.5" width="144.4" height="3.1" fill="url(#f42)"/>
<rect x="489.4" y="304.5" width="144.4" height="3.1" fill="url(#f43)"/>
<rect x="489.4" y="306.5" width="144.4" height="3.1" fill="url(#f44)"/>
<rect x="489.4" y="308.5" width="144.4" height="3.1" fill="url(#f45)"/>
<rect x="489.4" y="310.5" width="144.4" height="3.1" fill="url(#f46)"/>
<rect x="489.4" y="312.5" width="144.4" height="3.1" fill="url(#f47)"/>
<rect x="489.4" y="314.5" width="144.4" height="3.1" fill="url(#f48)"/>
<rect x="489.4" y="316.5" width="144.4" height="3.1" fill="url(#f49)"/>
<rect x="489.4" y="318.5" width="144.4" height="3.1" fill="url(#f50)"/>
<rect x="489.4" y="320.5" width="144.4" height="3.1" fill="url(#f51)"/>
<rect x="489.4" y="322.5" width="144.4" height="3.1" fill="url(#f52)"/>
<rect x="489.4" y="324.5" width="144.4" height="3.1" fill="url(#f53)"/>
<rect x="489.4" y="326.5" width="144.4" height="3.1" fill="url(#f54)"/>
<rect x="489.4" y="328.5" width="144.4" height="3.1" fill="url(#f55)"/>
<rect x="489.4" y="330.5" width="144.4" height="3.1" fill="url(#f56)"/>
<rect x="489.4" y="332.5" width="144.4" height="3.1" fill="url(#f57)"/>
<rect x="489.4" y="334.5" width="144.4" height="3.1" fill="url(#f58)"/>
<rect x="489.4" y="336.5" width="144.4" height="3.1" fill="url(#f59)"/>
<rect x="489.4" y="338.5" width="144.4" height="3.1" fill="url(#f60)"/>
<rect x="489.4" y="340.5" width="144.4" height="3.1" fill="url(#f61)"/>
<rect x="489.4" y="342.5" width="144.4" height="3.1" fill="url(#f62)"/>
<rect x="489.4" y="344.5" width="144.4" height="3.1" fill="url(#f63)"/>
<rect x="489.4" y="346.5" width="144.4" height="3.1" fill="url(#f64)"/>
<rect x="489.4" y="348.5" width="144.4" height="3.1" fill="url(#f65)"/>
<rect x="489.4" y="350.5" width="144.4" height="3.1" fill="url(#f66)"/>
</g>
<rect x="489.4" y="218.5" width="144.4" height="134" fill="none" stroke="#000" stroke-width="0.45"/>
<path d="M489.4 352.5L489.4 354.3M505.44 352.5L505.44 354.3M521.49 352.5L521.49 354.3M537.53 352.5L537.53 354.3M553.58 352.5L553.58 354.3M569.62 352.5L569.62 354.3M585.67 352.5L585.67 354.3M601.71 352.5L601.71 354.3M617.76 352.5L617.76 354.3M633.8 352.5L633.8 354.3M489.4 342.57L487.6 342.57M489.4 324.85L487.6 324.85M489.4 307.12L487.6 307.12M489.4 289.4L487.6 289.4M489.4 271.68L487.6 271.68M489.4 253.95L487.6 253.95M489.4 236.22L487.6 236.22M489.4 218.5L487.6 218.5M649.1 352.5L650.9 352.5M649.1 339.62L650.9 339.62M649.1 323.51L650.9 323.51M649.1 307.4L650.9 307.4M649.1 291.3L650.9 291.3M649.1 275.19L650.9 275.19M649.1 259.09L650.9 259.09M649.1 242.98L650.9 242.98M649.1 226.88L650.9 226.88" stroke="#000" stroke-width="0.45" fill="none"/>
<text x="489.4" y="360.2" font-size="4.9" text-anchor="middle">0.0</text>
<text x="505.44" y="360.2" font-size="4.9" text-anchor="middle">0.1</text>
<text x="521.49" y="360.2" font-size="4.9" text-anchor="middle">0.2</text>
<text x="537.53" y="360.2" font-size="4.9" text-anchor="middle">0.3</text>
<text x="553.58" y="360.2" font-size="4.9" text-anchor="middle">0.4</text>
<text x="569.62" y="360.2" font-size="4.9" text-anchor="middle">0.5</text>
<text x="585.67" y="360.2" font-size="4.9" text-anchor="middle">0.6</text>
<text x="601.71" y="360.2" font-size="4.9" text-anchor="middle">0.7</text>
<text x="617.76" y="360.2" font-size="4.9" text-anchor="middle">0.8</text>
<text x="633.8" y="360.2" font-size="4.9" text-anchor="middle">0.9</text>
<text x="486" y="344.36" font-size="4.9" text-anchor="end">5</text>
<text x="486" y="326.64" font-size="4.9" text-anchor="end">10</text>
<text x="486" y="308.91" font-size="4.9" text-anchor="end">15</text>
<text x="486" y="291.19" font-size="4.9" text-anchor="end">20</text>
<text x="486" y="273.46" font-size="4.9" text-anchor="end">25</text>
<text x="486" y="255.74" font-size="4.9" text-anchor="end">30</text>
<text x="486" y="238.01" font-size="4.9" text-anchor="end">35</text>
<text x="486" y="220.29" font-size="4.9" text-anchor="end">40</text>
<text x="561.6" y="368.1" font-size="5.0" text-anchor="middle">Mutation strength (q)</text>
<text transform="translate(476.2 285.5) rotate(-90)" font-size="5.0" text-anchor="middle">Reward parameter (R)</text>
<linearGradient id="cbf" x1="0" y1="1" x2="0" y2="0"><stop offset="0" stop-color="#000004"/><stop offset="0.04" stop-color="#040314"/><stop offset="0.09" stop-color="#0d0829"/><stop offset="0.13" stop-color="#1b0c41"/><stop offset="0.17" stop-color="#290b55"/><stop offset="0.22" stop-color="#3b0964"/><stop offset="0.26" stop-color="#4a0c6b"/><stop offset="0.3" stop-color="#5a116e"/><stop offset="0.35" stop-color="#69166e"/><stop offset="0.39" stop-color="#781c6d"/><stop offset="0.43" stop-color="#87216b"/><stop offset="0.48" stop-color="#952667"/><stop offset="0.52" stop-color="#a52c60"/><stop offset="0.57" stop-color="#b3325a"/><stop offset="0.61" stop-color="#c13a50"/><stop offset="0.65" stop-color="#ce4347"/><stop offset="0.7" stop-color="#da4e3c"/><stop offset="0.74" stop-color="#e45a31"/><stop offset="0.78" stop-color="#ed6925"/><stop offset="0.83" stop-color="#f37819"/><stop offset="0.87" stop-color="#f8870e"/><stop offset="0.91" stop-color="#fb9906"/><stop offset="0.96" stop-color="#fcaa0f"/><stop offset="1" stop-color="#fbbe23"/></linearGradient><rect x="642.4" y="218.5" width="6.7" height="134" fill="url(#cbf)" stroke="#000" stroke-width="0.4"/>
<text x="652.6" y="354.29" font-size="4.9">2</text>
<text x="652.6" y="341.4" font-size="4.9">10</text>
<text x="652.6" y="325.3" font-size="4.9">20</text>
<text x="652.6" y="309.19" font-size="4.9">30</text>
<text x="652.6" y="293.09" font-size="4.9">40</text>
<text x="652.6" y="276.98" font-size="4.9">50</text>
<text x="652.6" y="260.88" font-size="4.9">60</text>
<text x="652.6" y="244.77" font-size="4.9">70</text>
<text x="652.6" y="228.66" font-size="4.9">80</text>
<text transform="translate(664.1 285.5) rotate(-90)" font-size="5.0" text-anchor="middle">Average payoff</text>
</g>
</svg></body></html>
